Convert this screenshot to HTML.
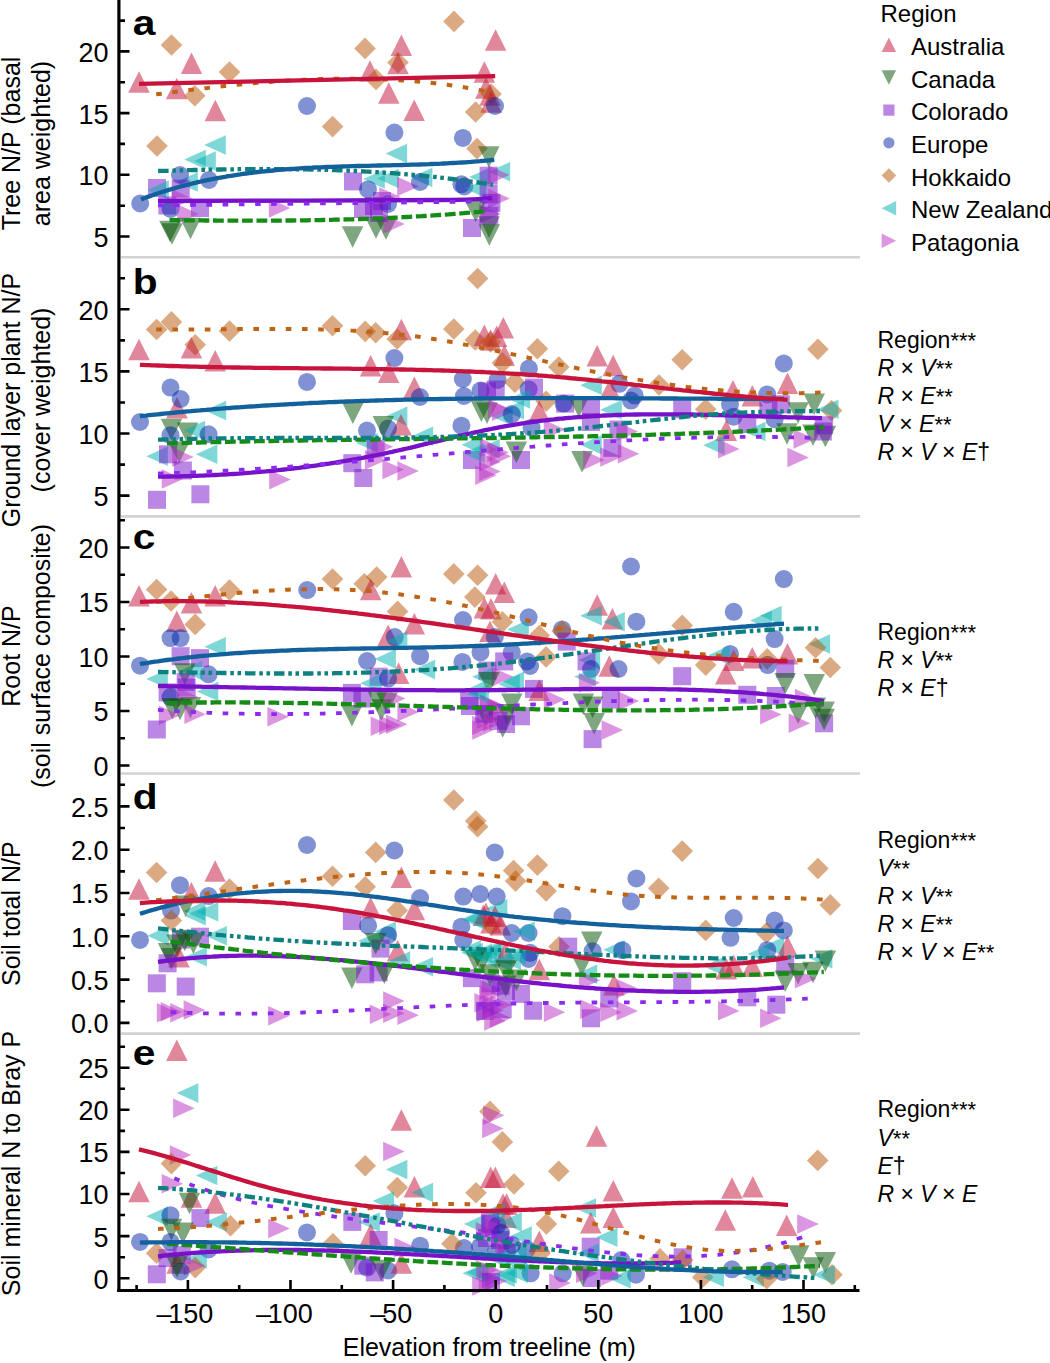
<!DOCTYPE html><html><head><meta charset="utf-8"><style>html,body{margin:0;padding:0;background:#fff;width:1050px;height:1363px;overflow:hidden}svg{display:block}text{font-family:"Liberation Sans",sans-serif;fill:#000}</style></head><body>
<svg width="1050" height="1363" viewBox="0 0 1050 1363">
<line x1="121" y1="257.3" x2="860" y2="257.3" stroke="#d2d2d2" stroke-width="2.6"/>
<line x1="121" y1="516.4" x2="860" y2="516.4" stroke="#d2d2d2" stroke-width="2.6"/>
<line x1="121" y1="773.5" x2="860" y2="773.5" stroke="#d2d2d2" stroke-width="2.6"/>
<line x1="121" y1="1033.6" x2="860" y2="1033.6" stroke="#d2d2d2" stroke-width="2.6"/>
<g fill-opacity="0.5">
<path d="M139.0 71.2L149.8 92.8H128.2Z" fill="rgb(195,15,55)"/>
<path d="M171.5 34.2L182.3 45.0L171.5 55.8L160.7 45.0Z" fill="rgb(185,85,5)"/>
<path d="M191.5 52.5L202.2 74.0H180.8Z" fill="rgb(195,15,55)"/>
<path d="M229.5 61.2L240.3 72.0L229.5 82.8L218.7 72.0Z" fill="rgb(185,85,5)"/>
<path d="M176.7 77.8L187.4 99.2H165.9Z" fill="rgb(195,15,55)"/>
<path d="M194.8 84.9L205.6 95.7L194.8 106.5L184.0 95.7Z" fill="rgb(185,85,5)"/>
<path d="M215.3 99.8L226.1 121.2H204.6Z" fill="rgb(195,15,55)"/>
<circle cx="307.0" cy="106.0" r="9.0" fill="rgb(1,35,169)"/>
<path d="M157.0 135.2L167.8 146.0L157.0 156.8L146.2 146.0Z" fill="rgb(185,85,5)"/>
<path d="M204.2 145.0L225.8 135.2V154.8Z" fill="rgb(0,175,175)"/>
<path d="M184.2 159.5L205.8 149.8V169.2Z" fill="rgb(0,175,175)"/>
<path d="M194.2 161.0L215.8 151.2V170.8Z" fill="rgb(0,175,175)"/>
<path d="M176.2 182.0L197.8 172.2V191.8Z" fill="rgb(0,175,175)"/>
<circle cx="180.0" cy="175.0" r="9.0" fill="rgb(1,35,169)"/>
<circle cx="209.0" cy="180.0" r="9.0" fill="rgb(1,35,169)"/>
<circle cx="140.2" cy="203.5" r="9.0" fill="rgb(1,35,169)"/>
<rect x="148.0" y="179.0" width="18.0" height="18.0" fill="rgb(119,15,201)"/>
<path d="M147.2 190.0L168.8 180.2V199.8Z" fill="rgb(0,175,175)"/>
<rect x="171.7" y="179.6" width="18.0" height="18.0" fill="rgb(119,15,201)"/>
<rect x="158.4" y="196.5" width="18.0" height="18.0" fill="rgb(119,15,201)"/>
<circle cx="170.6" cy="209.0" r="9.0" fill="rgb(1,35,169)"/>
<rect x="191.0" y="199.0" width="18.0" height="18.0" fill="rgb(119,15,201)"/>
<path d="M193.3 199.0L171.8 189.2V208.8Z" fill="rgb(185,45,195)"/>
<path d="M198.8 214.0L177.2 204.2V223.8Z" fill="rgb(185,45,195)"/>
<path d="M172.0 244.8L182.8 223.2H161.2Z" fill="rgb(0,79,0)"/>
<path d="M170.0 242.2L180.8 220.8H159.2Z" fill="rgb(0,79,0)"/>
<path d="M190.5 239.3L201.2 217.8H179.8Z" fill="rgb(0,79,0)"/>
<path d="M290.2 208.0L268.8 198.2V217.8Z" fill="rgb(185,45,195)"/>
<path d="M365.0 37.6L375.8 48.4L365.0 59.2L354.2 48.4Z" fill="rgb(185,85,5)"/>
<path d="M454.0 10.6L464.8 21.4L454.0 32.2L443.2 21.4Z" fill="rgb(185,85,5)"/>
<path d="M401.4 34.5L412.1 56.0H390.6Z" fill="rgb(195,15,55)"/>
<path d="M398.0 51.8L408.8 62.6L398.0 73.4L387.2 62.6Z" fill="rgb(185,85,5)"/>
<path d="M398.0 52.8L408.8 74.2H387.2Z" fill="rgb(195,15,55)"/>
<path d="M370.0 60.2L380.8 81.8H359.2Z" fill="rgb(195,15,55)"/>
<path d="M376.0 68.6L386.8 79.4L376.0 90.2L365.2 79.4Z" fill="rgb(185,85,5)"/>
<path d="M388.8 82.2L399.6 103.8H378.1Z" fill="rgb(195,15,55)"/>
<path d="M414.2 99.5L424.9 121.0H403.4Z" fill="rgb(195,15,55)"/>
<path d="M495.6 29.2L506.4 50.8H484.9Z" fill="rgb(195,15,55)"/>
<path d="M484.4 61.2L495.1 82.8H473.6Z" fill="rgb(195,15,55)"/>
<path d="M486.0 77.2L496.8 98.8H475.2Z" fill="rgb(195,15,55)"/>
<path d="M490.0 84.2L500.8 105.8H479.2Z" fill="rgb(195,15,55)"/>
<path d="M491.0 83.2L501.8 94.0L491.0 104.8L480.2 94.0Z" fill="rgb(185,85,5)"/>
<path d="M491.0 91.2L501.8 112.8H480.2Z" fill="rgb(195,15,55)"/>
<circle cx="495.0" cy="106.0" r="9.0" fill="rgb(1,35,169)"/>
<path d="M475.6 101.2L486.4 112.0L475.6 122.8L464.8 112.0Z" fill="rgb(185,85,5)"/>
<path d="M332.6 115.8L343.4 126.6L332.6 137.4L321.8 126.6Z" fill="rgb(185,85,5)"/>
<circle cx="394.4" cy="132.6" r="9.0" fill="rgb(1,35,169)"/>
<path d="M385.6 153.4L407.1 143.7V163.2Z" fill="rgb(0,175,175)"/>
<rect x="344.0" y="172.4" width="18.0" height="18.0" fill="rgb(119,15,201)"/>
<path d="M363.2 179.0L384.8 169.2V188.8Z" fill="rgb(0,175,175)"/>
<path d="M377.2 178.6L398.8 168.8V188.3Z" fill="rgb(0,175,175)"/>
<circle cx="368.0" cy="189.4" r="9.0" fill="rgb(1,35,169)"/>
<path d="M418.8 186.4L397.2 176.7V196.2Z" fill="rgb(185,45,195)"/>
<path d="M410.9 177.4L432.4 167.7V187.2Z" fill="rgb(0,175,175)"/>
<circle cx="420.0" cy="182.0" r="9.0" fill="rgb(1,35,169)"/>
<rect x="354.0" y="200.0" width="18.0" height="18.0" fill="rgb(119,15,201)"/>
<rect x="365.0" y="197.0" width="18.0" height="18.0" fill="rgb(119,15,201)"/>
<rect x="373.0" y="192.0" width="18.0" height="18.0" fill="rgb(119,15,201)"/>
<circle cx="388.0" cy="204.0" r="9.0" fill="rgb(1,35,169)"/>
<path d="M400.8 197.0L379.2 187.2V206.8Z" fill="rgb(185,45,195)"/>
<path d="M352.6 247.8L363.4 226.2H341.9Z" fill="rgb(0,79,0)"/>
<path d="M376.0 238.8L386.8 217.2H365.2Z" fill="rgb(0,79,0)"/>
<path d="M386.0 239.8L396.8 218.2H375.2Z" fill="rgb(0,79,0)"/>
<path d="M404.8 224.0L383.2 214.2V233.8Z" fill="rgb(185,45,195)"/>
<rect x="370.0" y="204.0" width="18.0" height="18.0" fill="rgb(119,15,201)"/>
<circle cx="462.9" cy="137.9" r="9.0" fill="rgb(1,35,169)"/>
<path d="M477.0 137.8L487.8 148.6L477.0 159.4L466.2 148.6Z" fill="rgb(185,85,5)"/>
<path d="M488.9 167.8L499.6 146.2H478.1Z" fill="rgb(0,79,0)"/>
<path d="M488.6 171.7L510.1 161.9V181.4Z" fill="rgb(0,175,175)"/>
<path d="M469.2 177.0L490.8 167.2V186.8Z" fill="rgb(0,175,175)"/>
<rect x="479.6" y="166.7" width="18.0" height="18.0" fill="rgb(119,15,201)"/>
<path d="M509.4 175.0L487.9 165.2V184.8Z" fill="rgb(185,45,195)"/>
<circle cx="461.4" cy="184.3" r="9.0" fill="rgb(1,35,169)"/>
<circle cx="464.3" cy="186.4" r="9.0" fill="rgb(1,35,169)"/>
<path d="M464.9 188.6L486.4 178.8V198.3Z" fill="rgb(0,175,175)"/>
<rect x="479.6" y="185.0" width="18.0" height="18.0" fill="rgb(119,15,201)"/>
<path d="M509.8 198.6L488.2 188.8V208.3Z" fill="rgb(185,45,195)"/>
<rect x="482.4" y="193.9" width="18.0" height="18.0" fill="rgb(119,15,201)"/>
<path d="M500.8 214.0L479.2 204.2V223.8Z" fill="rgb(185,45,195)"/>
<path d="M475.7 222.2L486.4 200.7H464.9Z" fill="rgb(0,79,0)"/>
<rect x="463.0" y="219.0" width="18.0" height="18.0" fill="rgb(119,15,201)"/>
<path d="M489.3 245.8L500.1 224.2H478.6Z" fill="rgb(0,79,0)"/>
<path d="M489.0 237.8L499.8 216.2H478.2Z" fill="rgb(0,79,0)"/>
<rect x="480.3" y="206.7" width="18.0" height="18.0" fill="rgb(119,15,201)"/>
</g>
<path d="M158.0 201.0C205.0 200.8 384.3 200.5 440.0 200.0C495.7 199.5 483.4 198.3 492.1 198.0" fill="none" stroke="#7812c8" stroke-width="4.3"/>
<path d="M158.0 205.4C205.0 204.8 384.5 202.7 440.0 202.0C495.5 201.3 482.5 201.6 491.0 201.5" fill="none" stroke="#8c2bef" stroke-width="3.8" stroke-dasharray="5.6 10.6"/>
<path d="M169.5 220.1L172.5 220.1L175.5 220.2L178.5 220.2L181.5 220.2L184.5 220.3L187.5 220.3L190.5 220.3L193.5 220.4L196.5 220.4L199.5 220.4L202.5 220.4L205.5 220.5L208.5 220.5L211.5 220.5L214.5 220.5L217.5 220.6L220.5 220.6L223.5 220.6L226.5 220.6L229.5 220.6L232.5 220.6L235.5 220.6L238.5 220.6L241.5 220.7L244.5 220.7L247.5 220.7L250.5 220.7L253.5 220.7L256.5 220.7L259.5 220.7L262.5 220.6L265.5 220.6L268.5 220.6L271.5 220.6L274.5 220.6L277.5 220.6L280.5 220.6L283.5 220.5L286.5 220.5L289.5 220.5L292.5 220.5L295.5 220.4L298.5 220.4L301.5 220.3L304.5 220.3L307.5 220.3L310.5 220.2L313.5 220.2L316.5 220.1L319.5 220.1L322.5 220.0L325.5 219.9L328.5 219.9L331.5 219.8L334.5 219.7L337.5 219.7L340.5 219.6L343.5 219.5L346.5 219.4L349.5 219.3L352.5 219.3L355.5 219.2L358.5 219.1L361.5 219.0L364.5 218.9L367.5 218.8L370.5 218.6L373.5 218.5L376.5 218.4L379.5 218.3L382.5 218.2L385.5 218.0L388.5 217.9L391.5 217.8L394.5 217.6L397.5 217.5L400.5 217.3L403.5 217.2L406.5 217.0L409.5 216.9L412.5 216.7L415.5 216.5L418.5 216.3L421.5 216.2L424.5 216.0L427.5 215.8L430.5 215.6L433.5 215.4L436.5 215.2L439.5 215.0L442.5 214.8L445.5 214.6L448.5 214.4L451.5 214.1L454.5 213.9L457.5 213.7L460.5 213.4L463.5 213.2L466.5 212.9L469.5 212.7L472.5 212.4L475.5 212.1L478.5 211.9L481.5 211.6L484.5 211.3L485.7 211.2" fill="none" stroke="#168c16" stroke-width="4.3" stroke-dasharray="10.8 3.7"/>
<path d="M158.1 171.0L161.1 170.9L164.1 170.9L167.1 170.8L170.1 170.7L173.1 170.6L176.1 170.5L179.1 170.4L182.1 170.3L185.1 170.3L188.1 170.2L191.1 170.1L194.1 170.0L197.1 170.0L200.1 169.9L203.1 169.8L206.1 169.8L209.1 169.7L212.1 169.7L215.1 169.6L218.1 169.5L221.1 169.5L224.1 169.4L227.1 169.4L230.1 169.3L233.1 169.3L236.1 169.3L239.1 169.2L242.1 169.2L245.1 169.2L248.1 169.2L251.1 169.1L254.1 169.1L257.1 169.1L260.1 169.1L263.1 169.1L266.1 169.1L269.1 169.1L272.1 169.1L275.1 169.1L278.1 169.1L281.1 169.1L284.1 169.1L287.1 169.2L290.1 169.2L293.1 169.2L296.1 169.3L299.1 169.3L302.1 169.3L305.1 169.4L308.1 169.4L311.1 169.5L314.1 169.6L317.1 169.6L320.1 169.7L323.1 169.8L326.1 169.9L329.1 170.0L332.1 170.1L335.1 170.2L338.1 170.3L341.1 170.4L344.1 170.5L347.1 170.6L350.1 170.8L353.1 170.9L356.1 171.0L359.1 171.2L362.1 171.3L365.1 171.5L368.1 171.6L371.1 171.8L374.1 172.0L377.1 172.2L380.1 172.4L383.1 172.6L386.1 172.8L389.1 173.0L392.1 173.2L395.1 173.4L398.1 173.6L401.1 173.9L404.1 174.1L407.1 174.4L410.1 174.6L413.1 174.9L416.1 175.2L419.1 175.4L422.1 175.7L425.1 176.0L428.1 176.3L431.1 176.6L434.1 176.9L437.1 177.3L440.1 177.6L443.1 177.9L446.1 178.3L449.1 178.6L452.1 179.0L455.1 179.4L458.1 179.8L461.1 180.1L464.1 180.5L467.1 180.9L470.1 181.4L473.1 181.8L476.1 182.2L479.1 182.6L482.1 183.1L485.1 183.5L488.1 184.0L491.1 184.5L492.9 184.8" fill="none" stroke="#0f8080" stroke-width="4.3" stroke-dasharray="10.5 3.8 3.6 3.6 3.6 3.9"/>
<path d="M141.0 199.4L144.0 198.2L147.0 197.1L150.0 196.1L153.0 195.0L156.0 194.0L159.0 193.0L162.0 192.0L165.0 191.1L168.0 190.1L171.0 189.2L174.0 188.4L177.0 187.5L180.0 186.7L183.0 185.9L186.0 185.1L189.0 184.3L192.0 183.6L195.0 182.9L198.0 182.2L201.0 181.5L204.0 180.8L207.0 180.2L210.0 179.6L213.0 179.0L216.0 178.4L219.0 177.8L222.0 177.3L225.0 176.8L228.0 176.2L231.0 175.8L234.0 175.3L237.0 174.8L240.0 174.4L243.0 173.9L246.0 173.5L249.0 173.1L252.0 172.8L255.0 172.4L258.0 172.0L261.0 171.7L264.0 171.4L267.0 171.1L270.0 170.8L273.0 170.5L276.0 170.2L279.0 169.9L282.0 169.7L285.0 169.4L288.0 169.2L291.0 169.0L294.0 168.8L297.0 168.6L300.0 168.4L303.0 168.2L306.0 168.0L309.0 167.8L312.0 167.7L315.0 167.5L318.0 167.4L321.0 167.3L324.0 167.1L327.0 167.0L330.0 166.9L333.0 166.8L336.0 166.7L339.0 166.6L342.0 166.5L345.0 166.4L348.0 166.3L351.0 166.2L354.0 166.1L357.0 166.0L360.0 166.0L363.0 165.9L366.0 165.8L369.0 165.8L372.0 165.7L375.0 165.6L378.0 165.5L381.0 165.5L384.0 165.4L387.0 165.3L390.0 165.3L393.0 165.2L396.0 165.1L399.0 165.1L402.0 165.0L405.0 164.9L408.0 164.8L411.0 164.7L414.0 164.7L417.0 164.6L420.0 164.5L423.0 164.4L426.0 164.3L429.0 164.2L432.0 164.0L435.0 163.9L438.0 163.8L441.0 163.7L444.0 163.5L447.0 163.4L450.0 163.2L453.0 163.0L456.0 162.9L459.0 162.7L462.0 162.5L465.0 162.3L468.0 162.1L471.0 161.9L474.0 161.6L477.0 161.4L480.0 161.2L483.0 160.9L486.0 160.6L489.0 160.3L492.0 160.0L494.3 159.8" fill="none" stroke="#12609c" stroke-width="4.3"/>
<path d="M156.2 94.3L159.2 93.9L162.2 93.6L165.2 93.2L168.2 92.8L171.2 92.4L174.2 92.0L177.2 91.6L180.2 91.2L183.2 90.9L186.2 90.5L189.2 90.1L192.2 89.7L195.2 89.4L198.2 89.0L201.2 88.7L204.2 88.3L207.2 88.0L210.2 87.6L213.2 87.3L216.2 87.0L219.2 86.6L222.2 86.3L225.2 86.0L228.2 85.7L231.2 85.4L234.2 85.1L237.2 84.8L240.2 84.5L243.2 84.2L246.2 83.9L249.2 83.6L252.2 83.4L255.2 83.1L258.2 82.8L261.2 82.6L264.2 82.3L267.2 82.1L270.2 81.9L273.2 81.6L276.2 81.4L279.2 81.2L282.2 81.0L285.2 80.8L288.2 80.6L291.2 80.5L294.2 80.3L297.2 80.1L300.2 80.0L303.2 79.8L306.2 79.7L309.2 79.6L312.2 79.4L315.2 79.3L318.2 79.2L321.2 79.1L324.2 79.0L327.2 79.0L330.2 78.9L333.2 78.8L336.2 78.8L339.2 78.7L342.2 78.7L345.2 78.7L348.2 78.7L351.2 78.7L354.2 78.7L357.2 78.7L360.2 78.7L363.2 78.8L366.2 78.8L369.2 78.9L372.2 79.0L375.2 79.1L378.2 79.2L381.2 79.3L384.2 79.4L387.2 79.5L390.2 79.7L393.2 79.8L396.2 80.0L399.2 80.2L402.2 80.4L405.2 80.6L408.2 80.8L411.2 81.0L414.2 81.3L417.2 81.5L420.2 81.8L423.2 82.1L426.2 82.4L429.2 82.7L432.2 83.0L435.2 83.3L438.2 83.7L441.2 84.1L444.2 84.4L447.2 84.8L450.2 85.2L453.2 85.7L456.2 86.1L459.2 86.6L462.2 87.0L465.2 87.5L468.2 88.0L471.2 88.5L474.2 89.0L477.2 89.6L480.2 90.1L483.2 90.7L486.2 91.3L489.2 91.9L492.2 92.5L493.3 92.8" fill="none" stroke="#bf6414" stroke-width="4.0" stroke-dasharray="5.6 10.6"/>
<path d="M139.0 83.8L495.2 76.2" fill="none" stroke="#c8143c" stroke-width="4.3"/>
<g fill-opacity="0.5">
<path d="M156.6 318.7L167.4 329.5L156.6 340.3L145.8 329.5Z" fill="rgb(185,85,5)"/>
<path d="M171.4 311.1L182.2 321.9L171.4 332.7L160.6 321.9Z" fill="rgb(185,85,5)"/>
<path d="M229.5 320.2L240.3 331.0L229.5 341.8L218.7 331.0Z" fill="rgb(185,85,5)"/>
<path d="M195.2 334.0L206.0 344.8L195.2 355.6L184.4 344.8Z" fill="rgb(185,85,5)"/>
<path d="M139.0 338.8L149.8 360.2H128.2Z" fill="rgb(195,15,55)"/>
<path d="M191.4 336.9L202.2 358.4H180.7Z" fill="rgb(195,15,55)"/>
<path d="M215.2 349.9L225.9 371.4H204.4Z" fill="rgb(195,15,55)"/>
<path d="M177.0 396.9L187.8 418.4H166.2Z" fill="rgb(195,15,55)"/>
<circle cx="170.5" cy="387.6" r="9.0" fill="rgb(1,35,169)"/>
<circle cx="180.6" cy="399.0" r="9.0" fill="rgb(1,35,169)"/>
<circle cx="307.0" cy="381.9" r="9.0" fill="rgb(1,35,169)"/>
<path d="M204.7 410.5L226.2 400.8V420.2Z" fill="rgb(0,175,175)"/>
<circle cx="140.0" cy="422.0" r="9.0" fill="rgb(1,35,169)"/>
<path d="M171.4 440.2L182.2 418.8H160.7Z" fill="rgb(0,79,0)"/>
<circle cx="170.5" cy="435.2" r="9.0" fill="rgb(1,35,169)"/>
<path d="M187.6 444.1L198.3 422.6H176.8Z" fill="rgb(0,79,0)"/>
<path d="M183.6 430.5L205.1 420.8V440.2Z" fill="rgb(0,175,175)"/>
<circle cx="208.6" cy="434.3" r="9.0" fill="rgb(1,35,169)"/>
<path d="M146.3 456.2L167.8 446.4V465.9Z" fill="rgb(0,175,175)"/>
<rect x="159.0" y="445.3" width="18.0" height="18.0" fill="rgb(119,15,201)"/>
<path d="M195.9 454.3L217.4 444.6V464.1Z" fill="rgb(0,175,175)"/>
<path d="M179.0 463.1L189.8 441.6H168.2Z" fill="rgb(0,79,0)"/>
<path d="M193.7 457.0L172.2 447.2V466.8Z" fill="rgb(185,45,195)"/>
<rect x="173.9" y="461.5" width="18.0" height="18.0" fill="rgb(119,15,201)"/>
<path d="M183.2 479.0L161.7 469.2V488.8Z" fill="rgb(185,45,195)"/>
<path d="M290.8 479.6L269.2 469.9V489.4Z" fill="rgb(185,45,195)"/>
<rect x="148.0" y="490.8" width="18.0" height="18.0" fill="rgb(119,15,201)"/>
<rect x="191.4" y="485.3" width="18.0" height="18.0" fill="rgb(119,15,201)"/>
<path d="M477.6 267.7L488.4 278.5L477.6 289.3L466.8 278.5Z" fill="rgb(185,85,5)"/>
<path d="M332.5 314.9L343.3 325.7L332.5 336.5L321.7 325.7Z" fill="rgb(185,85,5)"/>
<path d="M365.2 320.6L376.0 331.4L365.2 342.2L354.4 331.4Z" fill="rgb(185,85,5)"/>
<path d="M375.7 322.0L386.5 332.8L375.7 343.6L364.9 332.8Z" fill="rgb(185,85,5)"/>
<path d="M401.4 318.8L412.1 340.2H390.6Z" fill="rgb(195,15,55)"/>
<path d="M397.2 328.2L408.0 339.0L397.2 349.8L386.4 339.0Z" fill="rgb(185,85,5)"/>
<path d="M453.8 318.2L464.6 329.0L453.8 339.8L443.0 329.0Z" fill="rgb(185,85,5)"/>
<path d="M475.3 329.2L486.1 340.0L475.3 350.8L464.5 340.0Z" fill="rgb(185,85,5)"/>
<path d="M484.3 324.4L495.1 345.9H473.6Z" fill="rgb(195,15,55)"/>
<path d="M490.6 329.2L501.4 350.8H479.9Z" fill="rgb(195,15,55)"/>
<path d="M496.7 325.4L507.4 346.9H485.9Z" fill="rgb(195,15,55)"/>
<path d="M503.3 316.9L514.0 338.4H492.6Z" fill="rgb(195,15,55)"/>
<path d="M504.3 344.4L515.0 365.9H493.6Z" fill="rgb(195,15,55)"/>
<path d="M502.4 352.1L513.2 362.9L502.4 373.7L491.6 362.9Z" fill="rgb(185,85,5)"/>
<circle cx="394.4" cy="358.1" r="9.0" fill="rgb(1,35,169)"/>
<path d="M370.6 354.9L381.4 376.4H359.9Z" fill="rgb(195,15,55)"/>
<path d="M388.7 361.6L399.4 383.1H377.9Z" fill="rgb(195,15,55)"/>
<path d="M414.4 376.4L425.1 397.9H403.6Z" fill="rgb(195,15,55)"/>
<circle cx="420.0" cy="397.0" r="9.0" fill="rgb(1,35,169)"/>
<circle cx="462.8" cy="379.0" r="9.0" fill="rgb(1,35,169)"/>
<circle cx="463.9" cy="396.0" r="9.0" fill="rgb(1,35,169)"/>
<circle cx="480.5" cy="390.5" r="9.0" fill="rgb(1,35,169)"/>
<circle cx="497.6" cy="380.0" r="9.0" fill="rgb(1,35,169)"/>
<rect x="478.0" y="382.4" width="18.0" height="18.0" fill="rgb(119,15,201)"/>
<rect x="486.7" y="380.5" width="18.0" height="18.0" fill="rgb(119,15,201)"/>
<path d="M352.9 424.1L363.6 402.6H342.1Z" fill="rgb(0,79,0)"/>
<path d="M385.9 416.2L407.4 406.4V425.9Z" fill="rgb(0,175,175)"/>
<path d="M401.0 414.1L411.8 435.6H390.2Z" fill="rgb(195,15,55)"/>
<circle cx="367.0" cy="430.5" r="9.0" fill="rgb(1,35,169)"/>
<circle cx="388.0" cy="428.6" r="9.0" fill="rgb(1,35,169)"/>
<path d="M383.3 437.4L394.1 415.9H372.6Z" fill="rgb(0,79,0)"/>
<path d="M356.2 442.9L377.8 433.1V452.6Z" fill="rgb(0,175,175)"/>
<path d="M411.6 436.2L433.1 426.4V445.9Z" fill="rgb(0,175,175)"/>
<rect x="366.7" y="439.6" width="18.0" height="18.0" fill="rgb(119,15,201)"/>
<path d="M393.1 446.7L371.6 436.9V456.4Z" fill="rgb(185,45,195)"/>
<rect x="343.3" y="454.2" width="18.0" height="18.0" fill="rgb(119,15,201)"/>
<rect x="354.3" y="469.0" width="18.0" height="18.0" fill="rgb(119,15,201)"/>
<path d="M403.9 469.5L382.4 459.8V479.2Z" fill="rgb(185,45,195)"/>
<path d="M418.9 471.0L397.4 461.2V480.8Z" fill="rgb(185,45,195)"/>
<path d="M386.4 460.0L364.9 450.2V469.8Z" fill="rgb(185,45,195)"/>
<circle cx="461.4" cy="425.7" r="9.0" fill="rgb(1,35,169)"/>
<path d="M481.4 422.1L492.1 400.6H470.6Z" fill="rgb(0,79,0)"/>
<path d="M487.0 424.1L497.8 402.6H476.2Z" fill="rgb(0,79,0)"/>
<rect x="463.0" y="451.0" width="18.0" height="18.0" fill="rgb(119,15,201)"/>
<path d="M463.1 453.3L484.6 443.6V463.1Z" fill="rgb(0,175,175)"/>
<path d="M500.8 461.9L479.2 452.1V471.6Z" fill="rgb(185,45,195)"/>
<path d="M500.8 471.4L479.2 461.6V481.1Z" fill="rgb(185,45,195)"/>
<path d="M478.2 448.6L499.8 438.9V458.4Z" fill="rgb(0,175,175)"/>
<path d="M511.2 456.2L489.8 446.4V465.9Z" fill="rgb(185,45,195)"/>
<path d="M491.2 416.2L512.8 406.4V425.9Z" fill="rgb(0,175,175)"/>
<path d="M509.4 408.6L487.9 398.9V418.4Z" fill="rgb(185,45,195)"/>
<path d="M490.5 331.2L501.3 342.0L490.5 352.8L479.7 342.0Z" fill="rgb(185,85,5)"/>
<path d="M537.4 338.0L548.2 348.8L537.4 359.6L526.6 348.8Z" fill="rgb(185,85,5)"/>
<circle cx="528.9" cy="368.6" r="9.0" fill="rgb(1,35,169)"/>
<path d="M558.8 356.2L569.6 367.0L558.8 377.8L548.0 367.0Z" fill="rgb(185,85,5)"/>
<path d="M597.2 344.9L608.0 366.4H586.5Z" fill="rgb(195,15,55)"/>
<path d="M613.2 354.8L624.0 376.2H602.5Z" fill="rgb(195,15,55)"/>
<circle cx="619.3" cy="383.8" r="9.0" fill="rgb(1,35,169)"/>
<path d="M514.9 371.5L525.7 382.3L514.9 393.1L504.1 382.3Z" fill="rgb(185,85,5)"/>
<circle cx="528.6" cy="389.2" r="9.0" fill="rgb(1,35,169)"/>
<rect x="525.0" y="378.6" width="18.0" height="18.0" fill="rgb(119,15,201)"/>
<path d="M580.2 385.3L601.8 375.6V395.1Z" fill="rgb(0,175,175)"/>
<path d="M610.0 378.4L620.8 399.9H599.2Z" fill="rgb(195,15,55)"/>
<path d="M546.1 390.5L556.9 401.3L546.1 412.1L535.3 401.3Z" fill="rgb(185,85,5)"/>
<rect x="556.1" y="394.6" width="18.0" height="18.0" fill="rgb(119,15,201)"/>
<circle cx="563.6" cy="403.6" r="9.0" fill="rgb(1,35,169)"/>
<path d="M539.3 400.6L550.0 422.1H528.5Z" fill="rgb(195,15,55)"/>
<path d="M513.5 411.3L491.9 401.6V421.1Z" fill="rgb(185,45,195)"/>
<path d="M502.5 409.8L524.0 400.1V419.6Z" fill="rgb(0,175,175)"/>
<circle cx="511.8" cy="414.3" r="9.0" fill="rgb(1,35,169)"/>
<path d="M508.6 399.0L530.1 389.2V408.8Z" fill="rgb(0,175,175)"/>
<path d="M578.9 417.4L589.6 395.9H568.1Z" fill="rgb(0,79,0)"/>
<rect x="582.0" y="397.7" width="18.0" height="18.0" fill="rgb(119,15,201)"/>
<path d="M600.2 409.8L621.8 400.1V419.6Z" fill="rgb(0,175,175)"/>
<circle cx="531.6" cy="428.0" r="9.0" fill="rgb(1,35,169)"/>
<path d="M565.2 429.5L543.8 419.8V439.2Z" fill="rgb(185,45,195)"/>
<rect x="582.0" y="413.0" width="18.0" height="18.0" fill="rgb(119,15,201)"/>
<rect x="609.5" y="420.5" width="18.0" height="18.0" fill="rgb(119,15,201)"/>
<path d="M461.4 444.8L482.9 435.1V454.6Z" fill="rgb(0,175,175)"/>
<path d="M501.2 447.8L479.8 438.1V457.6Z" fill="rgb(185,45,195)"/>
<path d="M508.9 452.4L487.4 442.6V462.1Z" fill="rgb(185,45,195)"/>
<rect x="512.0" y="451.0" width="18.0" height="18.0" fill="rgb(119,15,201)"/>
<path d="M516.4 463.1L527.1 441.6H505.6Z" fill="rgb(0,79,0)"/>
<path d="M496.8 475.2L475.2 465.4V484.9Z" fill="rgb(185,45,195)"/>
<path d="M580.2 444.8L601.8 435.1V454.6Z" fill="rgb(0,175,175)"/>
<path d="M582.0 472.4L592.8 450.9H571.2Z" fill="rgb(0,79,0)"/>
<path d="M604.8 460.0L583.2 450.2V469.8Z" fill="rgb(185,45,195)"/>
<path d="M621.8 457.0L600.2 447.2V466.8Z" fill="rgb(185,45,195)"/>
<rect x="603.4" y="438.8" width="18.0" height="18.0" fill="rgb(119,15,201)"/>
<path d="M682.2 348.9L693.0 359.7L682.2 370.5L671.4 359.7Z" fill="rgb(185,85,5)"/>
<path d="M817.9 338.5L828.7 349.3L817.9 360.1L807.1 349.3Z" fill="rgb(185,85,5)"/>
<circle cx="783.8" cy="363.4" r="9.0" fill="rgb(1,35,169)"/>
<path d="M787.5 372.4L798.2 393.9H776.8Z" fill="rgb(195,15,55)"/>
<path d="M659.0 374.2L669.8 385.0L659.0 395.8L648.2 385.0Z" fill="rgb(185,85,5)"/>
<circle cx="634.7" cy="395.6" r="9.0" fill="rgb(1,35,169)"/>
<circle cx="631.0" cy="400.6" r="9.0" fill="rgb(1,35,169)"/>
<path d="M733.0 379.9L743.8 401.4H722.2Z" fill="rgb(195,15,55)"/>
<path d="M752.3 384.9L763.0 406.4H741.5Z" fill="rgb(195,15,55)"/>
<circle cx="767.2" cy="394.4" r="9.0" fill="rgb(1,35,169)"/>
<circle cx="730.0" cy="404.3" r="9.0" fill="rgb(1,35,169)"/>
<rect x="673.2" y="400.2" width="18.0" height="18.0" fill="rgb(119,15,201)"/>
<path d="M705.7 398.4L716.5 409.2L705.7 420.0L694.9 409.2Z" fill="rgb(185,85,5)"/>
<rect x="771.8" y="395.3" width="18.0" height="18.0" fill="rgb(119,15,201)"/>
<rect x="759.4" y="397.8" width="18.0" height="18.0" fill="rgb(119,15,201)"/>
<path d="M814.2 415.1L825.0 393.6H803.5Z" fill="rgb(0,79,0)"/>
<path d="M798.1 423.8L808.9 402.2H787.4Z" fill="rgb(0,79,0)"/>
<path d="M831.5 399.7L842.3 410.5L831.5 421.3L820.7 410.5Z" fill="rgb(185,85,5)"/>
<path d="M817.0 409.2L838.5 399.4V418.9Z" fill="rgb(0,175,175)"/>
<circle cx="733.7" cy="416.7" r="9.0" fill="rgb(1,35,169)"/>
<circle cx="774.6" cy="419.2" r="9.0" fill="rgb(1,35,169)"/>
<rect x="738.3" y="415.1" width="18.0" height="18.0" fill="rgb(119,15,201)"/>
<path d="M726.3 419.6L737.0 441.1H715.5Z" fill="rgb(195,15,55)"/>
<path d="M744.0 431.5L765.5 421.8V441.2Z" fill="rgb(0,175,175)"/>
<path d="M787.0 444.8L797.8 423.2H776.2Z" fill="rgb(0,79,0)"/>
<path d="M813.0 445.9L823.8 424.4H802.2Z" fill="rgb(0,79,0)"/>
<path d="M825.4 447.2L836.1 425.8H814.6Z" fill="rgb(0,79,0)"/>
<rect x="813.9" y="422.5" width="18.0" height="18.0" fill="rgb(119,15,201)"/>
<path d="M815.0 439.0L793.5 429.2V448.8Z" fill="rgb(185,45,195)"/>
<rect x="815.1" y="416.3" width="18.0" height="18.0" fill="rgb(119,15,201)"/>
<path d="M638.0 431.5L616.5 421.8V441.2Z" fill="rgb(185,45,195)"/>
<path d="M639.2 453.8L617.8 444.1V463.6Z" fill="rgb(185,45,195)"/>
<path d="M703.1 445.2L724.6 435.4V454.9Z" fill="rgb(0,175,175)"/>
<path d="M739.5 448.9L718.0 439.1V458.6Z" fill="rgb(185,45,195)"/>
<path d="M808.9 457.5L787.4 447.8V467.2Z" fill="rgb(185,45,195)"/>
</g>
<path d="M158.0 476.6L161.0 476.6L164.0 476.6L167.0 476.5L170.0 476.5L173.0 476.4L176.0 476.4L179.0 476.3L182.0 476.2L185.0 476.2L188.0 476.1L191.0 476.0L194.0 475.9L197.0 475.8L200.0 475.7L203.0 475.6L206.0 475.4L209.0 475.3L212.0 475.2L215.0 475.0L218.0 474.9L221.0 474.7L224.0 474.5L227.0 474.4L230.0 474.2L233.0 474.0L236.0 473.8L239.0 473.6L242.0 473.4L245.0 473.1L248.0 472.9L251.0 472.7L254.0 472.4L257.0 472.2L260.0 471.9L263.0 471.6L266.0 471.4L269.0 471.1L272.0 470.8L275.0 470.5L278.0 470.2L281.0 469.8L284.0 469.5L287.0 469.2L290.0 468.8L293.0 468.5L296.0 468.1L299.0 467.8L302.0 467.4L305.0 467.0L308.0 466.6L311.0 466.2L314.0 465.8L317.0 465.4L320.0 464.9L323.0 464.5L326.0 464.0L329.0 463.6L332.0 463.1L335.0 462.7L338.0 462.2L341.0 461.7L344.0 461.2L347.0 460.7L350.0 460.1L353.0 459.6L356.0 459.1L359.0 458.5L362.0 458.0L365.0 457.4L368.0 456.8L371.0 456.2L374.0 455.6L377.0 455.0L380.0 454.4L383.0 453.8L386.0 453.2L389.0 452.5L392.0 451.9L395.0 451.2L398.0 450.5L401.0 449.9L404.0 449.2L407.0 448.5L410.0 447.8L413.0 447.1L416.0 446.3L419.0 445.6L422.0 444.9L425.0 444.2L428.0 443.5L431.0 442.7L434.0 442.0L437.0 441.3L440.0 440.6L443.0 439.8L446.0 439.1L449.0 438.4L452.0 437.7L455.0 437.0L458.0 436.2L461.0 435.5L464.0 434.8L467.0 434.2L470.0 433.5L473.0 432.8L476.0 432.1L479.0 431.5L482.0 430.8L485.0 430.2L488.0 429.6L491.0 429.0L494.0 428.4L497.0 427.8L500.0 427.2L503.0 426.7L506.0 426.1L509.0 425.6L512.0 425.1L515.0 424.6L518.0 424.1L521.0 423.6L524.0 423.2L527.0 422.7L530.0 422.3L533.0 421.9L536.0 421.5L539.0 421.1L542.0 420.7L545.0 420.4L548.0 420.0L551.0 419.7L554.0 419.4L557.0 419.0L560.0 418.7L563.0 418.5L566.0 418.2L569.0 417.9L572.0 417.7L575.0 417.4L578.0 417.2L581.0 417.0L584.0 416.7L587.0 416.5L590.0 416.3L593.0 416.2L596.0 416.0L599.0 415.8L602.0 415.7L605.0 415.5L608.0 415.4L611.0 415.3L614.0 415.1L617.0 415.0L620.0 414.9L623.0 414.8L626.0 414.7L629.0 414.7L632.0 414.6L635.0 414.5L638.0 414.5L641.0 414.4L644.0 414.4L647.0 414.4L650.0 414.3L653.0 414.3L656.0 414.3L659.0 414.3L662.0 414.3L665.0 414.3L668.0 414.3L671.0 414.3L674.0 414.3L677.0 414.4L680.0 414.4L683.0 414.4L686.0 414.5L689.0 414.5L692.0 414.5L695.0 414.6L698.0 414.7L701.0 414.7L704.0 414.8L707.0 414.8L710.0 414.9L713.0 415.0L716.0 415.1L719.0 415.1L722.0 415.2L725.0 415.3L728.0 415.4L731.0 415.5L734.0 415.6L737.0 415.6L740.0 415.7L743.0 415.8L746.0 415.9L749.0 416.0L752.0 416.1L755.0 416.2L758.0 416.3L761.0 416.4L764.0 416.5L767.0 416.6L770.0 416.7L773.0 416.8L776.0 416.9L779.0 417.0L782.0 417.1L785.0 417.2L788.0 417.3L791.0 417.3L794.0 417.4L797.0 417.5L800.0 417.6L803.0 417.7L806.0 417.8L809.0 417.8L812.0 417.9L815.0 418.0L818.0 418.1L821.0 418.1L822.0 418.1" fill="none" stroke="#7812c8" stroke-width="4.3"/>
<path d="M158.0 473.5L161.0 473.4L164.0 473.3L167.0 473.2L170.0 473.1L173.0 473.0L176.0 472.9L179.0 472.8L182.0 472.7L185.0 472.5L188.0 472.4L191.0 472.3L194.0 472.2L197.0 472.0L200.0 471.9L203.0 471.8L206.0 471.6L209.0 471.5L212.0 471.3L215.0 471.2L218.0 471.0L221.0 470.9L224.0 470.7L227.0 470.6L230.0 470.4L233.0 470.2L236.0 470.1L239.0 469.9L242.0 469.7L245.0 469.5L248.0 469.4L251.0 469.2L254.0 469.0L257.0 468.8L260.0 468.6L263.0 468.4L266.0 468.2L269.0 468.0L272.0 467.8L275.0 467.6L278.0 467.4L281.0 467.2L284.0 467.0L287.0 466.8L290.0 466.6L293.0 466.4L296.0 466.1L299.0 465.9L302.0 465.7L305.0 465.5L308.0 465.3L311.0 465.0L314.0 464.8L317.0 464.6L320.0 464.3L323.0 464.1L326.0 463.9L329.0 463.6L332.0 463.4L335.0 463.2L338.0 462.9L341.0 462.7L344.0 462.4L347.0 462.2L350.0 462.0L353.0 461.7L356.0 461.5L359.0 461.2L362.0 461.0L365.0 460.7L368.0 460.5L371.0 460.2L374.0 460.0L377.0 459.7L380.0 459.5L383.0 459.2L386.0 459.0L389.0 458.7L392.0 458.4L395.0 458.2L398.0 457.9L401.0 457.7L404.0 457.4L407.0 457.2L410.0 456.9L413.0 456.6L416.0 456.4L419.0 456.1L422.0 455.9L425.0 455.6L428.0 455.4L431.0 455.1L434.0 454.8L437.0 454.6L440.0 454.3L443.0 454.1L446.0 453.8L449.0 453.6L452.0 453.3L455.0 453.0L458.0 452.8L461.0 452.5L464.0 452.3L467.0 452.0L470.0 451.8L473.0 451.5L476.0 451.3L479.0 451.0L482.0 450.8L485.0 450.5L488.0 450.3L491.0 450.0L494.0 449.8L497.0 449.5L500.0 449.3L503.0 449.0L506.0 448.8L509.0 448.5L512.0 448.3L515.0 448.1L518.0 447.8L521.0 447.6L524.0 447.4L527.0 447.1L530.0 446.9L533.0 446.7L536.0 446.4L539.0 446.2L542.0 446.0L545.0 445.8L548.0 445.5L551.0 445.3L554.0 445.1L557.0 444.9L560.0 444.7L563.0 444.4L566.0 444.2L569.0 444.0L572.0 443.8L575.0 443.6L578.0 443.4L581.0 443.2L584.0 443.0L587.0 442.8L590.0 442.6L593.0 442.4L596.0 442.2L599.0 442.1L602.0 441.9L605.0 441.7L608.0 441.5L611.0 441.3L614.0 441.2L617.0 441.0L620.0 440.8L623.0 440.7L626.0 440.5L629.0 440.3L632.0 440.2L635.0 440.0L638.0 439.9L641.0 439.7L644.0 439.6L647.0 439.4L650.0 439.3L653.0 439.2L656.0 439.0L659.0 438.9L662.0 438.8L665.0 438.7L668.0 438.6L671.0 438.4L674.0 438.3L677.0 438.2L680.0 438.1L683.0 438.0L686.0 437.9L689.0 437.8L692.0 437.8L695.0 437.7L698.0 437.6L701.0 437.5L704.0 437.4L707.0 437.4L710.0 437.3L713.0 437.2L716.0 437.2L719.0 437.1L722.0 437.1L725.0 437.1L728.0 437.0L731.0 437.0L734.0 437.0L737.0 436.9L740.0 436.9L743.0 436.9L746.0 436.9L749.0 436.9L752.0 436.9L755.0 436.9L758.0 436.9L761.0 436.9L764.0 436.9L767.0 436.9L770.0 437.0L773.0 437.0L776.0 437.0L779.0 437.1L782.0 437.1L785.0 437.2L788.0 437.2L791.0 437.3L794.0 437.4L797.0 437.4L800.0 437.5L803.0 437.6L806.0 437.7L809.0 437.8L812.0 437.9L815.0 438.0L816.6 438.1" fill="none" stroke="#8c2bef" stroke-width="3.8" stroke-dasharray="5.6 10.6"/>
<path d="M167.0 443.4L170.0 443.3L173.0 443.2L176.0 443.1L179.0 443.0L182.0 443.0L185.0 442.9L188.0 442.8L191.0 442.7L194.0 442.6L197.0 442.6L200.0 442.5L203.0 442.4L206.0 442.3L209.0 442.3L212.0 442.2L215.0 442.1L218.0 442.1L221.0 442.0L224.0 441.9L227.0 441.9L230.0 441.8L233.0 441.7L236.0 441.7L239.0 441.6L242.0 441.5L245.0 441.5L248.0 441.4L251.0 441.4L254.0 441.3L257.0 441.2L260.0 441.2L263.0 441.1L266.0 441.1L269.0 441.0L272.0 441.0L275.0 440.9L278.0 440.9L281.0 440.8L284.0 440.8L287.0 440.7L290.0 440.7L293.0 440.6L296.0 440.6L299.0 440.5L302.0 440.5L305.0 440.4L308.0 440.4L311.0 440.3L314.0 440.3L317.0 440.2L320.0 440.2L323.0 440.2L326.0 440.1L329.0 440.1L332.0 440.0L335.0 440.0L338.0 440.0L341.0 439.9L344.0 439.9L347.0 439.8L350.0 439.8L353.0 439.8L356.0 439.7L359.0 439.7L362.0 439.6L365.0 439.6L368.0 439.6L371.0 439.5L374.0 439.5L377.0 439.4L380.0 439.4L383.0 439.4L386.0 439.3L389.0 439.3L392.0 439.3L395.0 439.2L398.0 439.2L401.0 439.1L404.0 439.1L407.0 439.1L410.0 439.0L413.0 439.0L416.0 439.0L419.0 438.9L422.0 438.9L425.0 438.9L428.0 438.8L431.0 438.8L434.0 438.7L437.0 438.7L440.0 438.7L443.0 438.6L446.0 438.6L449.0 438.6L452.0 438.5L455.0 438.5L458.0 438.4L461.0 438.4L464.0 438.4L467.0 438.3L470.0 438.3L473.0 438.2L476.0 438.2L479.0 438.2L482.0 438.1L485.0 438.1L488.0 438.0L491.0 438.0L494.0 438.0L497.0 437.9L500.0 437.9L503.0 437.8L506.0 437.8L509.0 437.7L512.0 437.7L515.0 437.6L518.0 437.6L521.0 437.5L524.0 437.5L527.0 437.4L530.0 437.4L533.0 437.4L536.0 437.3L539.0 437.2L542.0 437.2L545.0 437.1L548.0 437.1L551.0 437.0L554.0 437.0L557.0 436.9L560.0 436.9L563.0 436.8L566.0 436.8L569.0 436.7L572.0 436.6L575.0 436.6L578.0 436.5L581.0 436.5L584.0 436.4L587.0 436.3L590.0 436.3L593.0 436.2L596.0 436.1L599.0 436.1L602.0 436.0L605.0 435.9L608.0 435.9L611.0 435.8L614.0 435.7L617.0 435.6L620.0 435.6L623.0 435.5L626.0 435.4L629.0 435.3L632.0 435.3L635.0 435.2L638.0 435.1L641.0 435.0L644.0 434.9L647.0 434.8L650.0 434.8L653.0 434.7L656.0 434.6L659.0 434.5L662.0 434.4L665.0 434.3L668.0 434.2L671.0 434.1L674.0 434.0L677.0 433.9L680.0 433.8L683.0 433.7L686.0 433.6L689.0 433.5L692.0 433.4L695.0 433.3L698.0 433.2L701.0 433.1L704.0 433.0L707.0 432.9L710.0 432.7L713.0 432.6L716.0 432.5L719.0 432.4L722.0 432.3L725.0 432.1L728.0 432.0L731.0 431.9L734.0 431.8L737.0 431.6L740.0 431.5L743.0 431.4L746.0 431.2L749.0 431.1L752.0 431.0L755.0 430.8L758.0 430.7L761.0 430.5L764.0 430.4L767.0 430.2L770.0 430.1L773.0 429.9L776.0 429.8L779.0 429.6L782.0 429.5L785.0 429.3L788.0 429.2L791.0 429.0L794.0 428.8L797.0 428.7L800.0 428.5L803.0 428.3L806.0 428.2L809.0 428.0L812.0 427.8L815.0 427.6L818.0 427.4L821.0 427.3L823.8 427.1" fill="none" stroke="#168c16" stroke-width="4.3" stroke-dasharray="10.8 3.7"/>
<path d="M158.0 439.7L161.0 439.6L164.0 439.5L167.0 439.4L170.0 439.3L173.0 439.3L176.0 439.2L179.0 439.1L182.0 439.0L185.0 439.0L188.0 438.9L191.0 438.8L194.0 438.8L197.0 438.7L200.0 438.7L203.0 438.6L206.0 438.6L209.0 438.5L212.0 438.5L215.0 438.4L218.0 438.4L221.0 438.4L224.0 438.3L227.0 438.3L230.0 438.3L233.0 438.2L236.0 438.2L239.0 438.2L242.0 438.2L245.0 438.2L248.0 438.1L251.0 438.1L254.0 438.1L257.0 438.1L260.0 438.1L263.0 438.1L266.0 438.1L269.0 438.1L272.0 438.0L275.0 438.0L278.0 438.0L281.0 438.0L284.0 438.0L287.0 438.0L290.0 438.0L293.0 438.0L296.0 438.0L299.0 438.0L302.0 438.0L305.0 438.0L308.0 438.0L311.0 438.0L314.0 438.0L317.0 438.0L320.0 438.0L323.0 438.0L326.0 438.0L329.0 438.0L332.0 438.0L335.0 438.0L338.0 438.0L341.0 438.0L344.0 438.0L347.0 438.0L350.0 438.0L353.0 438.0L356.0 438.0L359.0 438.0L362.0 437.9L365.0 437.9L368.0 437.9L371.0 437.9L374.0 437.9L377.0 437.9L380.0 437.8L383.0 437.8L386.0 437.8L389.0 437.8L392.0 437.7L395.0 437.7L398.0 437.7L401.0 437.6L404.0 437.6L407.0 437.6L410.0 437.5L413.0 437.5L416.0 437.4L419.0 437.4L422.0 437.3L425.0 437.3L428.0 437.2L431.0 437.1L434.0 437.1L437.0 437.0L440.0 436.9L443.0 436.9L446.0 436.8L449.0 436.7L452.0 436.6L455.0 436.5L458.0 436.4L461.0 436.3L464.0 436.2L467.0 436.1L470.0 436.0L473.0 435.9L476.0 435.8L479.0 435.6L482.0 435.5L485.0 435.4L488.0 435.2L491.0 435.1L494.0 435.0L497.0 434.8L500.0 434.6L503.0 434.5L506.0 434.3L509.0 434.1L512.0 434.0L515.0 433.8L518.0 433.6L521.0 433.4L524.0 433.2L527.0 433.0L530.0 432.8L533.0 432.6L536.0 432.3L539.0 432.1L542.0 431.9L545.0 431.6L548.0 431.4L551.0 431.1L554.0 430.9L557.0 430.6L560.0 430.4L563.0 430.1L566.0 429.8L569.0 429.5L572.0 429.2L575.0 428.9L578.0 428.6L581.0 428.3L584.0 428.0L587.0 427.7L590.0 427.3L593.0 427.0L596.0 426.7L599.0 426.3L602.0 426.0L605.0 425.7L608.0 425.3L611.0 425.0L614.0 424.6L617.0 424.3L620.0 423.9L623.0 423.6L626.0 423.2L629.0 422.9L632.0 422.6L635.0 422.2L638.0 421.9L641.0 421.5L644.0 421.2L647.0 420.8L650.0 420.5L653.0 420.2L656.0 419.8L659.0 419.5L662.0 419.2L665.0 418.8L668.0 418.5L671.0 418.2L674.0 417.9L677.0 417.6L680.0 417.3L683.0 417.0L686.0 416.7L689.0 416.4L692.0 416.1L695.0 415.8L698.0 415.6L701.0 415.3L704.0 415.1L707.0 414.8L710.0 414.6L713.0 414.4L716.0 414.1L719.0 413.9L722.0 413.7L725.0 413.5L728.0 413.4L731.0 413.2L734.0 413.0L737.0 412.9L740.0 412.7L743.0 412.6L746.0 412.4L749.0 412.3L752.0 412.2L755.0 412.1L758.0 412.0L761.0 411.9L764.0 411.8L767.0 411.7L770.0 411.6L773.0 411.6L776.0 411.5L779.0 411.4L782.0 411.4L785.0 411.3L788.0 411.3L791.0 411.2L794.0 411.2L797.0 411.2L800.0 411.1L803.0 411.1L806.0 411.1L809.0 411.1L812.0 411.1L815.0 411.0L818.0 411.0L820.0 411.0" fill="none" stroke="#0f8080" stroke-width="4.3" stroke-dasharray="10.5 3.8 3.6 3.6 3.6 3.9"/>
<path d="M139.9 416.2L142.9 415.9L145.9 415.6L148.9 415.2L151.9 414.9L154.9 414.6L157.9 414.3L160.9 414.0L163.9 413.7L166.9 413.4L169.9 413.1L172.9 412.8L175.9 412.5L178.9 412.2L181.9 412.0L184.9 411.7L187.9 411.4L190.9 411.2L193.9 410.9L196.9 410.6L199.9 410.4L202.9 410.1L205.9 409.9L208.9 409.6L211.9 409.4L214.9 409.1L217.9 408.9L220.9 408.7L223.9 408.4L226.9 408.2L229.9 408.0L232.9 407.7L235.9 407.5L238.9 407.3L241.9 407.1L244.9 406.9L247.9 406.7L250.9 406.5L253.9 406.3L256.9 406.1L259.9 405.9L262.9 405.7L265.9 405.5L268.9 405.3L271.9 405.1L274.9 405.0L277.9 404.8L280.9 404.6L283.9 404.5L286.9 404.3L289.9 404.1L292.9 404.0L295.9 403.8L298.9 403.6L301.9 403.5L304.9 403.3L307.9 403.2L310.9 403.0L313.9 402.9L316.9 402.8L319.9 402.6L322.9 402.5L325.9 402.4L328.9 402.2L331.9 402.1L334.9 402.0L337.9 401.9L340.9 401.7L343.9 401.6L346.9 401.5L349.9 401.4L352.9 401.3L355.9 401.2L358.9 401.1L361.9 401.0L364.9 400.9L367.9 400.8L370.9 400.7L373.9 400.6L376.9 400.5L379.9 400.4L382.9 400.3L385.9 400.2L388.9 400.1L391.9 400.1L394.9 400.0L397.9 399.9L400.9 399.8L403.9 399.7L406.9 399.7L409.9 399.6L412.9 399.5L415.9 399.5L418.9 399.4L421.9 399.3L424.9 399.3L427.9 399.2L430.9 399.2L433.9 399.1L436.9 399.1L439.9 399.0L442.9 399.0L445.9 398.9L448.9 398.9L451.9 398.8L454.9 398.8L457.9 398.7L460.9 398.7L463.9 398.7L466.9 398.6L469.9 398.6L472.9 398.6L475.9 398.5L478.9 398.5L481.9 398.5L484.9 398.4L487.9 398.4L490.9 398.4L493.9 398.4L496.9 398.3L499.9 398.3L502.9 398.3L505.9 398.3L508.9 398.3L511.9 398.2L514.9 398.2L517.9 398.2L520.9 398.2L523.9 398.2L526.9 398.2L529.9 398.2L532.9 398.2L535.9 398.1L538.9 398.1L541.9 398.1L544.9 398.1L547.9 398.1L550.9 398.1L553.9 398.1L556.9 398.1L559.9 398.1L562.9 398.1L565.9 398.1L568.9 398.1L571.9 398.1L574.9 398.1L577.9 398.1L580.9 398.1L583.9 398.1L586.9 398.2L589.9 398.2L592.9 398.2L595.9 398.2L598.9 398.2L601.9 398.2L604.9 398.2L607.9 398.2L610.9 398.2L613.9 398.2L616.9 398.3L619.9 398.3L622.9 398.3L625.9 398.3L628.9 398.3L631.9 398.3L634.9 398.3L637.9 398.3L640.9 398.4L643.9 398.4L646.9 398.4L649.9 398.4L652.9 398.4L655.9 398.4L658.9 398.4L661.9 398.5L664.9 398.5L667.9 398.5L670.9 398.5L673.9 398.5L676.9 398.5L679.9 398.6L682.9 398.6L685.9 398.6L688.9 398.6L691.9 398.6L694.9 398.6L697.9 398.7L700.9 398.7L703.9 398.7L706.9 398.7L709.9 398.7L712.9 398.7L715.9 398.7L718.9 398.8L721.9 398.8L724.9 398.8L727.9 398.8L730.9 398.8L733.9 398.8L736.9 398.8L739.9 398.8L742.9 398.8L745.9 398.9L748.9 398.9L751.9 398.9L754.9 398.9L757.9 398.9L760.9 398.9L763.9 398.9L766.9 398.9L769.9 398.9L772.9 398.9L775.9 398.9L778.9 398.9L781.9 398.9L784.0 398.9" fill="none" stroke="#12609c" stroke-width="4.3"/>
<path d="M156.2 329.5L159.2 329.5L162.2 329.6L165.2 329.6L168.2 329.6L171.2 329.6L174.2 329.6L177.2 329.6L180.2 329.6L183.2 329.6L186.2 329.6L189.2 329.6L192.2 329.5L195.2 329.5L198.2 329.5L201.2 329.5L204.2 329.4L207.2 329.4L210.2 329.4L213.2 329.4L216.2 329.3L219.2 329.3L222.2 329.3L225.2 329.2L228.2 329.2L231.2 329.2L234.2 329.1L237.2 329.1L240.2 329.1L243.2 329.1L246.2 329.0L249.2 329.0L252.2 329.0L255.2 329.0L258.2 328.9L261.2 328.9L264.2 328.9L267.2 328.9L270.2 328.9L273.2 328.9L276.2 328.9L279.2 328.9L282.2 328.9L285.2 328.9L288.2 328.9L291.2 328.9L294.2 328.9L297.2 329.0L300.2 329.0L303.2 329.0L306.2 329.1L309.2 329.1L312.2 329.2L315.2 329.2L318.2 329.3L321.2 329.4L324.2 329.5L327.2 329.6L330.2 329.7L333.2 329.8L336.2 329.9L339.2 330.0L342.2 330.1L345.2 330.3L348.2 330.4L351.2 330.6L354.2 330.7L357.2 330.9L360.2 331.1L363.2 331.3L366.2 331.5L369.2 331.7L372.2 331.9L375.2 332.1L378.2 332.4L381.2 332.6L384.2 332.9L387.2 333.2L390.2 333.5L393.2 333.8L396.2 334.1L399.2 334.4L402.2 334.7L405.2 335.1L408.2 335.5L411.2 335.8L414.2 336.2L417.2 336.6L420.2 337.0L423.2 337.5L426.2 337.9L429.2 338.4L432.2 338.8L435.2 339.3L438.2 339.8L441.2 340.3L444.2 340.8L447.2 341.3L450.2 341.8L453.2 342.3L456.2 342.9L459.2 343.4L462.2 344.0L465.2 344.6L468.2 345.1L471.2 345.7L474.2 346.3L477.2 346.9L480.2 347.5L483.2 348.1L486.2 348.7L489.2 349.3L492.2 349.9L495.2 350.6L498.2 351.2L501.2 351.8L504.2 352.5L507.2 353.1L510.2 353.8L513.2 354.4L516.2 355.0L519.2 355.7L522.2 356.4L525.2 357.0L528.2 357.7L531.2 358.3L534.2 359.0L537.2 359.6L540.2 360.3L543.2 360.9L546.2 361.6L549.2 362.2L552.2 362.9L555.2 363.6L558.2 364.2L561.2 364.8L564.2 365.5L567.2 366.1L570.2 366.8L573.2 367.4L576.2 368.0L579.2 368.7L582.2 369.3L585.2 369.9L588.2 370.5L591.2 371.1L594.2 371.7L597.2 372.3L600.2 372.9L603.2 373.5L606.2 374.0L609.2 374.6L612.2 375.2L615.2 375.7L618.2 376.3L621.2 376.8L624.2 377.4L627.2 377.9L630.2 378.4L633.2 378.9L636.2 379.4L639.2 379.9L642.2 380.4L645.2 380.9L648.2 381.4L651.2 381.9L654.2 382.3L657.2 382.8L660.2 383.2L663.2 383.7L666.2 384.1L669.2 384.5L672.2 384.9L675.2 385.3L678.2 385.7L681.2 386.1L684.2 386.5L687.2 386.9L690.2 387.2L693.2 387.6L696.2 387.9L699.2 388.2L702.2 388.6L705.2 388.9L708.2 389.2L711.2 389.5L714.2 389.8L717.2 390.0L720.2 390.3L723.2 390.6L726.2 390.8L729.2 391.0L732.2 391.3L735.2 391.5L738.2 391.7L741.2 391.9L744.2 392.0L747.2 392.2L750.2 392.4L753.2 392.5L756.2 392.6L759.2 392.8L762.2 392.9L765.2 393.0L768.2 393.1L771.2 393.1L774.2 393.2L777.2 393.3L780.2 393.3L783.2 393.3L786.2 393.3L789.2 393.3L792.2 393.3L795.2 393.3L798.2 393.3L801.2 393.2L804.2 393.1L807.2 393.1L810.2 393.0L813.2 392.9L816.2 392.8L819.2 392.6L822.2 392.5L823.8 392.4" fill="none" stroke="#bf6414" stroke-width="4.0" stroke-dasharray="5.6 10.6"/>
<path d="M139.9 364.8L142.9 364.9L145.9 365.1L148.9 365.2L151.9 365.3L154.9 365.4L157.9 365.5L160.9 365.6L163.9 365.7L166.9 365.8L169.9 366.0L172.9 366.0L175.9 366.1L178.9 366.2L181.9 366.3L184.9 366.4L187.9 366.5L190.9 366.6L193.9 366.6L196.9 366.7L199.9 366.8L202.9 366.9L205.9 366.9L208.9 367.0L211.9 367.1L214.9 367.1L217.9 367.2L220.9 367.2L223.9 367.3L226.9 367.4L229.9 367.4L232.9 367.5L235.9 367.5L238.9 367.5L241.9 367.6L244.9 367.6L247.9 367.7L250.9 367.7L253.9 367.8L256.9 367.8L259.9 367.8L262.9 367.9L265.9 367.9L268.9 367.9L271.9 368.0L274.9 368.0L277.9 368.0L280.9 368.1L283.9 368.1L286.9 368.1L289.9 368.1L292.9 368.2L295.9 368.2L298.9 368.2L301.9 368.3L304.9 368.3L307.9 368.3L310.9 368.3L313.9 368.4L316.9 368.4L319.9 368.4L322.9 368.5L325.9 368.5L328.9 368.5L331.9 368.5L334.9 368.6L337.9 368.6L340.9 368.6L343.9 368.7L346.9 368.7L349.9 368.7L352.9 368.8L355.9 368.8L358.9 368.8L361.9 368.9L364.9 368.9L367.9 368.9L370.9 369.0L373.9 369.0L376.9 369.1L379.9 369.1L382.9 369.2L385.9 369.2L388.9 369.3L391.9 369.3L394.9 369.4L397.9 369.4L400.9 369.5L403.9 369.5L406.9 369.6L409.9 369.7L412.9 369.7L415.9 369.8L418.9 369.9L421.9 370.0L424.9 370.0L427.9 370.1L430.9 370.2L433.9 370.3L436.9 370.4L439.9 370.4L442.9 370.5L445.9 370.6L448.9 370.7L451.9 370.8L454.9 370.9L457.9 371.1L460.9 371.2L463.9 371.3L466.9 371.4L469.9 371.5L472.9 371.6L475.9 371.8L478.9 371.9L481.9 372.0L484.9 372.2L487.9 372.3L490.9 372.5L493.9 372.6L496.9 372.8L499.9 373.0L502.9 373.1L505.9 373.3L508.9 373.5L511.9 373.6L514.9 373.8L517.9 374.0L520.9 374.2L523.9 374.4L526.9 374.6L529.9 374.8L532.9 375.0L535.9 375.2L538.9 375.5L541.9 375.7L544.9 375.9L547.9 376.2L550.9 376.4L553.9 376.7L556.9 376.9L559.9 377.2L562.9 377.4L565.9 377.7L568.9 378.0L571.9 378.3L574.9 378.5L577.9 378.8L580.9 379.1L583.9 379.4L586.9 379.7L589.9 380.0L592.9 380.3L595.9 380.6L598.9 380.9L601.9 381.3L604.9 381.6L607.9 381.9L610.9 382.2L613.9 382.5L616.9 382.9L619.9 383.2L622.9 383.5L625.9 383.9L628.9 384.2L631.9 384.5L634.9 384.9L637.9 385.2L640.9 385.5L643.9 385.9L646.9 386.2L649.9 386.6L652.9 386.9L655.9 387.2L658.9 387.6L661.9 387.9L664.9 388.3L667.9 388.6L670.9 388.9L673.9 389.3L676.9 389.6L679.9 389.9L682.9 390.3L685.9 390.6L688.9 390.9L691.9 391.3L694.9 391.6L697.9 391.9L700.9 392.2L703.9 392.6L706.9 392.9L709.9 393.2L712.9 393.5L715.9 393.8L718.9 394.1L721.9 394.4L724.9 394.7L727.9 395.0L730.9 395.3L733.9 395.6L736.9 395.9L739.9 396.1L742.9 396.4L745.9 396.7L748.9 396.9L751.9 397.2L754.9 397.4L757.9 397.7L760.9 397.9L763.9 398.2L766.9 398.4L769.9 398.6L772.9 398.8L775.9 399.0L778.9 399.2L781.9 399.4L784.9 399.6L787.6 399.8" fill="none" stroke="#c8143c" stroke-width="4.3"/>
<g fill-opacity="0.5">
<path d="M139.0 585.0L149.8 606.5H128.2Z" fill="rgb(195,15,55)"/>
<path d="M156.6 578.7L167.4 589.5L156.6 600.3L145.8 589.5Z" fill="rgb(185,85,5)"/>
<path d="M171.0 590.2L181.8 601.0L171.0 611.8L160.2 601.0Z" fill="rgb(185,85,5)"/>
<path d="M191.4 592.1L202.2 613.6H180.7Z" fill="rgb(195,15,55)"/>
<path d="M215.2 585.0L225.9 606.5H204.4Z" fill="rgb(195,15,55)"/>
<path d="M229.5 579.3L240.3 590.1L229.5 600.9L218.7 590.1Z" fill="rgb(185,85,5)"/>
<path d="M176.8 610.5L187.6 632.0H166.1Z" fill="rgb(195,15,55)"/>
<path d="M195.2 613.6L206.0 624.4L195.2 635.2L184.4 624.4Z" fill="rgb(185,85,5)"/>
<circle cx="307.2" cy="590.1" r="9.0" fill="rgb(1,35,169)"/>
<circle cx="170.5" cy="638.1" r="9.0" fill="rgb(1,35,169)"/>
<circle cx="180.6" cy="638.1" r="9.0" fill="rgb(1,35,169)"/>
<path d="M204.4 646.7L225.9 637.0V656.5Z" fill="rgb(0,175,175)"/>
<rect x="171.6" y="647.2" width="18.0" height="18.0" fill="rgb(119,15,201)"/>
<rect x="191.0" y="649.1" width="18.0" height="18.0" fill="rgb(119,15,201)"/>
<circle cx="140.0" cy="665.7" r="9.0" fill="rgb(1,35,169)"/>
<circle cx="208.6" cy="674.3" r="9.0" fill="rgb(1,35,169)"/>
<path d="M180.7 670.5L202.2 660.8V680.2Z" fill="rgb(0,175,175)"/>
<path d="M184.8 684.8L195.6 663.2H174.1Z" fill="rgb(0,79,0)"/>
<path d="M146.3 679.0L167.8 669.2V688.8Z" fill="rgb(0,175,175)"/>
<rect x="176.7" y="672.9" width="18.0" height="18.0" fill="rgb(119,15,201)"/>
<path d="M196.8 691.4L218.3 681.6V701.1Z" fill="rgb(0,175,175)"/>
<rect x="158.6" y="683.4" width="18.0" height="18.0" fill="rgb(119,15,201)"/>
<circle cx="170.5" cy="697.1" r="9.0" fill="rgb(1,35,169)"/>
<rect x="177.7" y="678.6" width="18.0" height="18.0" fill="rgb(119,15,201)"/>
<path d="M198.3 697.1L176.8 687.4V706.9Z" fill="rgb(185,45,195)"/>
<path d="M172.4 719.4L183.2 697.9H161.7Z" fill="rgb(0,79,0)"/>
<path d="M180.0 720.2L190.8 698.8H169.2Z" fill="rgb(0,79,0)"/>
<path d="M190.5 718.4L201.2 696.9H179.8Z" fill="rgb(0,79,0)"/>
<path d="M180.2 715.2L158.8 705.5V725.0Z" fill="rgb(185,45,195)"/>
<path d="M205.9 714.3L184.4 704.5V724.0Z" fill="rgb(185,45,195)"/>
<path d="M288.9 716.8L267.4 707.0V726.5Z" fill="rgb(185,45,195)"/>
<rect x="147.8" y="720.5" width="18.0" height="18.0" fill="rgb(119,15,201)"/>
<path d="M332.5 568.2L343.3 579.0L332.5 589.8L321.7 579.0Z" fill="rgb(185,85,5)"/>
<path d="M364.3 573.0L375.1 583.8L364.3 594.6L353.5 583.8Z" fill="rgb(185,85,5)"/>
<path d="M376.7 566.3L387.5 577.1L376.7 587.9L365.9 577.1Z" fill="rgb(185,85,5)"/>
<path d="M370.6 578.8L381.4 600.2H359.9Z" fill="rgb(195,15,55)"/>
<path d="M401.4 556.0L412.1 577.5H390.6Z" fill="rgb(195,15,55)"/>
<path d="M453.8 563.1L464.6 573.9L453.8 584.7L443.0 573.9Z" fill="rgb(185,85,5)"/>
<path d="M477.6 564.4L488.4 575.2L477.6 586.0L466.8 575.2Z" fill="rgb(185,85,5)"/>
<path d="M474.8 586.3L485.6 597.1L474.8 607.9L464.0 597.1Z" fill="rgb(185,85,5)"/>
<path d="M495.7 573.0L506.4 594.5H484.9Z" fill="rgb(195,15,55)"/>
<path d="M504.3 581.6L515.0 603.1H493.6Z" fill="rgb(195,15,55)"/>
<path d="M484.3 596.9L495.1 618.4H473.6Z" fill="rgb(195,15,55)"/>
<path d="M491.0 597.9L501.8 619.4H480.2Z" fill="rgb(195,15,55)"/>
<path d="M397.6 600.6L408.4 611.4L397.6 622.2L386.8 611.4Z" fill="rgb(185,85,5)"/>
<circle cx="463.0" cy="620.0" r="9.0" fill="rgb(1,35,169)"/>
<path d="M414.4 613.0L425.1 634.5H403.6Z" fill="rgb(195,15,55)"/>
<path d="M388.1 624.5L398.9 646.0H377.4Z" fill="rgb(195,15,55)"/>
<circle cx="394.8" cy="637.1" r="9.0" fill="rgb(1,35,169)"/>
<path d="M385.9 641.0L407.4 631.2V650.8Z" fill="rgb(0,175,175)"/>
<path d="M502.4 611.1L513.2 621.9L502.4 632.7L491.6 621.9Z" fill="rgb(185,85,5)"/>
<path d="M490.0 620.6L500.8 642.1H479.2Z" fill="rgb(195,15,55)"/>
<circle cx="494.8" cy="637.1" r="9.0" fill="rgb(1,35,169)"/>
<circle cx="367.1" cy="661.0" r="9.0" fill="rgb(1,35,169)"/>
<path d="M374.4 659.0L395.9 649.2V668.8Z" fill="rgb(0,175,175)"/>
<circle cx="420.1" cy="656.2" r="9.0" fill="rgb(1,35,169)"/>
<path d="M413.6 669.5L435.1 659.8V679.2Z" fill="rgb(0,175,175)"/>
<path d="M398.6 662.5L409.4 684.0H387.9Z" fill="rgb(195,15,55)"/>
<circle cx="462.4" cy="661.9" r="9.0" fill="rgb(1,35,169)"/>
<circle cx="480.5" cy="652.4" r="9.0" fill="rgb(1,35,169)"/>
<rect x="369.6" y="667.7" width="18.0" height="18.0" fill="rgb(119,15,201)"/>
<path d="M360.2 683.3L381.8 673.5V693.0Z" fill="rgb(0,175,175)"/>
<circle cx="388.1" cy="678.6" r="9.0" fill="rgb(1,35,169)"/>
<rect x="342.9" y="683.9" width="18.0" height="18.0" fill="rgb(119,15,201)"/>
<rect x="353.4" y="689.6" width="18.0" height="18.0" fill="rgb(119,15,201)"/>
<path d="M377.6 711.2L388.4 689.8H366.9Z" fill="rgb(0,79,0)"/>
<path d="M387.1 714.0L397.9 692.5H376.4Z" fill="rgb(0,79,0)"/>
<path d="M351.9 726.5L362.6 705.0H341.1Z" fill="rgb(0,79,0)"/>
<path d="M381.4 720.8L392.1 699.2H370.6Z" fill="rgb(0,79,0)"/>
<path d="M405.6 698.6L384.1 688.9V708.4Z" fill="rgb(185,45,195)"/>
<path d="M418.9 711.9L397.4 702.1V721.6Z" fill="rgb(185,45,195)"/>
<path d="M392.1 726.2L370.6 716.5V736.0Z" fill="rgb(185,45,195)"/>
<path d="M407.4 724.3L385.9 714.5V734.0Z" fill="rgb(185,45,195)"/>
<path d="M400.8 725.2L379.2 715.5V735.0Z" fill="rgb(185,45,195)"/>
<circle cx="528.6" cy="617.3" r="9.0" fill="rgb(1,35,169)"/>
<path d="M507.2 629.4L528.8 619.6V639.1Z" fill="rgb(0,175,175)"/>
<path d="M539.3 624.7L550.1 635.5L539.3 646.3L528.5 635.5Z" fill="rgb(185,85,5)"/>
<circle cx="562.1" cy="629.4" r="9.0" fill="rgb(1,35,169)"/>
<path d="M562.1 620.2L572.9 631.0L562.1 641.8L551.3 631.0Z" fill="rgb(185,85,5)"/>
<rect x="557.7" y="632.6" width="18.0" height="18.0" fill="rgb(119,15,201)"/>
<path d="M597.2 594.2L608.0 615.8H586.5Z" fill="rgb(195,15,55)"/>
<path d="M580.2 615.7L601.8 606.0V625.5Z" fill="rgb(0,175,175)"/>
<path d="M612.4 608.0L623.1 629.5H601.6Z" fill="rgb(195,15,55)"/>
<path d="M603.2 621.8L624.8 612.0V631.5Z" fill="rgb(0,175,175)"/>
<circle cx="511.8" cy="652.3" r="9.0" fill="rgb(1,35,169)"/>
<rect x="495.2" y="652.4" width="18.0" height="18.0" fill="rgb(119,15,201)"/>
<rect x="478.4" y="661.6" width="18.0" height="18.0" fill="rgb(119,15,201)"/>
<path d="M546.1 646.1L556.9 656.9L546.1 667.7L535.3 656.9Z" fill="rgb(185,85,5)"/>
<circle cx="527.1" cy="661.4" r="9.0" fill="rgb(1,35,169)"/>
<circle cx="530.1" cy="666.0" r="9.0" fill="rgb(1,35,169)"/>
<path d="M578.8 659.9L600.2 650.1V669.6Z" fill="rgb(0,175,175)"/>
<rect x="577.5" y="652.4" width="18.0" height="18.0" fill="rgb(119,15,201)"/>
<circle cx="591.0" cy="669.0" r="9.0" fill="rgb(1,35,169)"/>
<path d="M609.3 655.2L620.0 676.8H598.5Z" fill="rgb(195,15,55)"/>
<circle cx="618.5" cy="669.0" r="9.0" fill="rgb(1,35,169)"/>
<path d="M502.5 681.2L524.0 671.5V691.0Z" fill="rgb(0,175,175)"/>
<path d="M472.1 676.7L493.6 667.0V686.5Z" fill="rgb(0,175,175)"/>
<path d="M513.5 676.7L491.9 667.0V686.5Z" fill="rgb(185,45,195)"/>
<path d="M489.0 693.5L499.8 672.0H478.2Z" fill="rgb(0,79,0)"/>
<path d="M464.4 690.4L485.9 680.6V700.1Z" fill="rgb(0,175,175)"/>
<rect x="525.0" y="679.9" width="18.0" height="18.0" fill="rgb(119,15,201)"/>
<path d="M539.3 679.6L550.0 701.1H528.5Z" fill="rgb(195,15,55)"/>
<path d="M565.2 699.5L543.8 689.8V709.2Z" fill="rgb(185,45,195)"/>
<path d="M574.2 676.7L595.8 667.0V686.5Z" fill="rgb(0,175,175)"/>
<path d="M600.2 682.8L578.8 673.0V692.5Z" fill="rgb(185,45,195)"/>
<rect x="601.8" y="690.5" width="18.0" height="18.0" fill="rgb(119,15,201)"/>
<path d="M583.4 714.9L594.1 693.4H572.6Z" fill="rgb(0,79,0)"/>
<path d="M592.6 717.9L603.4 696.4H581.9Z" fill="rgb(0,79,0)"/>
<path d="M594.1 734.6L604.9 713.1H583.4Z" fill="rgb(0,79,0)"/>
<rect x="583.6" y="730.1" width="18.0" height="18.0" fill="rgb(119,15,201)"/>
<path d="M623.1 730.0L601.6 720.2V739.8Z" fill="rgb(185,45,195)"/>
<rect x="460.1" y="690.5" width="18.0" height="18.0" fill="rgb(119,15,201)"/>
<path d="M501.2 704.1L479.8 694.4V713.9Z" fill="rgb(185,45,195)"/>
<path d="M508.9 708.7L487.4 699.0V718.5Z" fill="rgb(185,45,195)"/>
<path d="M511.8 714.9L522.5 693.4H501.1Z" fill="rgb(0,79,0)"/>
<path d="M507.3 725.5L518.0 704.0H496.6Z" fill="rgb(0,79,0)"/>
<path d="M498.1 719.4L476.6 709.6V729.1Z" fill="rgb(185,45,195)"/>
<path d="M502.7 737.8L513.5 716.2H491.9Z" fill="rgb(0,79,0)"/>
<rect x="512.0" y="707.3" width="18.0" height="18.0" fill="rgb(119,15,201)"/>
<rect x="489.1" y="711.9" width="18.0" height="18.0" fill="rgb(119,15,201)"/>
<path d="M485.9 727.0L496.6 705.5H475.1Z" fill="rgb(0,79,0)"/>
<path d="M493.6 725.5L472.1 715.8V735.2Z" fill="rgb(185,45,195)"/>
<circle cx="631.0" cy="566.5" r="9.0" fill="rgb(1,35,169)"/>
<circle cx="783.8" cy="579.1" r="9.0" fill="rgb(1,35,169)"/>
<circle cx="733.7" cy="611.8" r="9.0" fill="rgb(1,35,169)"/>
<circle cx="636.4" cy="621.7" r="9.0" fill="rgb(1,35,169)"/>
<path d="M682.2 614.6L693.0 625.4L682.2 636.2L671.4 625.4Z" fill="rgb(185,85,5)"/>
<path d="M760.1 615.5L781.6 605.8V625.2Z" fill="rgb(0,175,175)"/>
<path d="M750.2 620.5L771.8 610.8V630.2Z" fill="rgb(0,175,175)"/>
<circle cx="774.6" cy="639.1" r="9.0" fill="rgb(1,35,169)"/>
<path d="M808.5 644.0L830.0 634.2V653.8Z" fill="rgb(0,175,175)"/>
<path d="M815.5 636.9L826.3 647.7L815.5 658.5L804.7 647.7Z" fill="rgb(185,85,5)"/>
<path d="M658.7 643.1L669.5 653.9L658.7 664.7L647.9 653.9Z" fill="rgb(185,85,5)"/>
<circle cx="730.0" cy="653.9" r="9.0" fill="rgb(1,35,169)"/>
<path d="M708.1 655.2L729.6 645.5V665.0Z" fill="rgb(0,175,175)"/>
<path d="M733.7 649.4L744.5 670.9H723.0Z" fill="rgb(195,15,55)"/>
<path d="M752.3 646.9L763.0 668.4H741.5Z" fill="rgb(195,15,55)"/>
<path d="M787.5 643.1L798.2 664.6H776.8Z" fill="rgb(195,15,55)"/>
<path d="M767.2 648.1L778.0 658.9L767.2 669.7L756.4 658.9Z" fill="rgb(185,85,5)"/>
<path d="M705.7 654.3L716.5 665.1L705.7 675.9L694.9 665.1Z" fill="rgb(185,85,5)"/>
<circle cx="767.7" cy="665.1" r="9.0" fill="rgb(1,35,169)"/>
<path d="M830.3 656.7L841.1 667.5L830.3 678.3L819.5 667.5Z" fill="rgb(185,85,5)"/>
<path d="M725.8 663.0L736.5 684.5H715.0Z" fill="rgb(195,15,55)"/>
<rect x="673.2" y="667.2" width="18.0" height="18.0" fill="rgb(119,15,201)"/>
<rect x="776.2" y="659.8" width="18.0" height="18.0" fill="rgb(119,15,201)"/>
<path d="M785.2 694.4L796.0 672.9H774.5Z" fill="rgb(0,79,0)"/>
<path d="M814.2 695.6L825.0 674.1H803.5Z" fill="rgb(0,79,0)"/>
<rect x="738.3" y="685.8" width="18.0" height="18.0" fill="rgb(119,15,201)"/>
<rect x="766.8" y="687.0" width="18.0" height="18.0" fill="rgb(119,15,201)"/>
<path d="M816.2 698.5L794.8 688.8V708.2Z" fill="rgb(185,45,195)"/>
<path d="M639.2 701.0L617.8 691.2V710.8Z" fill="rgb(185,45,195)"/>
<path d="M781.6 714.6L760.1 704.9V724.4Z" fill="rgb(185,45,195)"/>
<path d="M798.1 724.1L808.9 702.6H787.4Z" fill="rgb(0,79,0)"/>
<path d="M824.1 722.9L834.9 701.4H813.4Z" fill="rgb(0,79,0)"/>
<path d="M815.5 719.1L826.2 697.6H804.8Z" fill="rgb(0,79,0)"/>
<path d="M810.1 723.3L788.6 713.5V733.0Z" fill="rgb(185,45,195)"/>
<rect x="815.1" y="714.3" width="18.0" height="18.0" fill="rgb(119,15,201)"/>
<path d="M824.1 730.2L834.9 708.8H813.4Z" fill="rgb(0,79,0)"/>
<path d="M500.8 704.0L479.2 694.2V713.8Z" fill="rgb(185,45,195)"/>
<path d="M511.8 711.0L490.2 701.2V720.8Z" fill="rgb(185,45,195)"/>
<rect x="475.0" y="705.0" width="18.0" height="18.0" fill="rgb(119,15,201)"/>
<path d="M504.8 722.0L483.2 712.2V731.8Z" fill="rgb(185,45,195)"/>
<rect x="497.0" y="715.0" width="18.0" height="18.0" fill="rgb(119,15,201)"/>
<path d="M467.2 694.0L488.8 684.2V703.8Z" fill="rgb(0,175,175)"/>
<path d="M498.2 684.0L519.8 674.2V693.8Z" fill="rgb(0,175,175)"/>
<path d="M493.8 730.0L472.2 720.2V739.8Z" fill="rgb(185,45,195)"/>
<rect x="461.0" y="697.0" width="18.0" height="18.0" fill="rgb(119,15,201)"/>
</g>
<path d="M158.0 686.1L161.0 686.1L164.0 686.2L167.0 686.2L170.0 686.3L173.0 686.3L176.0 686.3L179.0 686.4L182.0 686.4L185.0 686.5L188.0 686.5L191.0 686.6L194.0 686.6L197.0 686.7L200.0 686.7L203.0 686.8L206.0 686.8L209.0 686.9L212.0 686.9L215.0 687.0L218.0 687.0L221.0 687.1L224.0 687.1L227.0 687.2L230.0 687.3L233.0 687.3L236.0 687.4L239.0 687.4L242.0 687.5L245.0 687.5L248.0 687.6L251.0 687.6L254.0 687.7L257.0 687.8L260.0 687.8L263.0 687.9L266.0 687.9L269.0 688.0L272.0 688.0L275.0 688.1L278.0 688.2L281.0 688.2L284.0 688.3L287.0 688.3L290.0 688.4L293.0 688.4L296.0 688.5L299.0 688.6L302.0 688.6L305.0 688.7L308.0 688.7L311.0 688.8L314.0 688.8L317.0 688.9L320.0 688.9L323.0 689.0L326.0 689.0L329.0 689.1L332.0 689.1L335.0 689.2L338.0 689.2L341.0 689.3L344.0 689.3L347.0 689.4L350.0 689.4L353.0 689.5L356.0 689.5L359.0 689.5L362.0 689.6L365.0 689.6L368.0 689.7L371.0 689.7L374.0 689.7L377.0 689.8L380.0 689.8L383.0 689.9L386.0 689.9L389.0 689.9L392.0 690.0L395.0 690.0L398.0 690.0L401.0 690.0L404.0 690.1L407.0 690.1L410.0 690.1L413.0 690.1L416.0 690.2L419.0 690.2L422.0 690.2L425.0 690.2L428.0 690.2L431.0 690.2L434.0 690.2L437.0 690.3L440.0 690.3L443.0 690.3L446.0 690.3L449.0 690.3L452.0 690.3L455.0 690.3L458.0 690.3L461.0 690.3L464.0 690.3L467.0 690.2L470.0 690.2L473.0 690.2L476.0 690.2L479.0 690.2L482.0 690.2L485.0 690.2L488.0 690.1L491.0 690.1L494.0 690.1L497.0 690.1L500.0 690.0L503.0 690.0L506.0 690.0L509.0 689.9L512.0 689.9L515.0 689.9L518.0 689.8L521.0 689.8L524.0 689.7L527.0 689.7L530.0 689.7L533.0 689.6L536.0 689.6L539.0 689.5L542.0 689.5L545.0 689.5L548.0 689.4L551.0 689.4L554.0 689.4L557.0 689.3L560.0 689.3L563.0 689.2L566.0 689.2L569.0 689.2L572.0 689.1L575.0 689.1L578.0 689.1L581.0 689.0L584.0 689.0L587.0 689.0L590.0 689.0L593.0 688.9L596.0 688.9L599.0 688.9L602.0 688.9L605.0 688.9L608.0 688.9L611.0 688.8L614.0 688.8L617.0 688.8L620.0 688.8L623.0 688.8L626.0 688.8L629.0 688.8L632.0 688.8L635.0 688.9L638.0 688.9L641.0 688.9L644.0 688.9L647.0 688.9L650.0 689.0L653.0 689.0L656.0 689.1L659.0 689.1L662.0 689.1L665.0 689.2L668.0 689.3L671.0 689.3L674.0 689.4L677.0 689.4L680.0 689.5L683.0 689.6L686.0 689.7L689.0 689.8L692.0 689.9L695.0 690.0L698.0 690.1L701.0 690.2L704.0 690.3L707.0 690.4L710.0 690.6L713.0 690.7L716.0 690.8L719.0 691.0L722.0 691.2L725.0 691.3L728.0 691.5L731.0 691.7L734.0 691.8L737.0 692.0L740.0 692.2L743.0 692.4L746.0 692.6L749.0 692.9L752.0 693.1L755.0 693.3L758.0 693.5L761.0 693.8L764.0 694.1L767.0 694.3L770.0 694.6L773.0 694.9L776.0 695.2L779.0 695.5L782.0 695.8L785.0 696.1L788.0 696.4L791.0 696.7L794.0 697.1L797.0 697.4L800.0 697.8L803.0 698.1L806.0 698.5L809.0 698.9L812.0 699.3L815.0 699.7L818.0 700.1L821.0 700.5L823.8 701.0" fill="none" stroke="#7812c8" stroke-width="4.3"/>
<path d="M158.0 709.8L161.0 710.1L164.0 710.3L167.0 710.5L170.0 710.7L173.0 710.9L176.0 711.1L179.0 711.3L182.0 711.4L185.0 711.6L188.0 711.8L191.0 711.9L194.0 712.1L197.0 712.2L200.0 712.4L203.0 712.5L206.0 712.6L209.0 712.8L212.0 712.9L215.0 713.0L218.0 713.1L221.0 713.2L224.0 713.3L227.0 713.4L230.0 713.5L233.0 713.5L236.0 713.6L239.0 713.7L242.0 713.7L245.0 713.8L248.0 713.8L251.0 713.9L254.0 713.9L257.0 714.0L260.0 714.0L263.0 714.0L266.0 714.0L269.0 714.0L272.0 714.1L275.0 714.1L278.0 714.1L281.0 714.1L284.0 714.1L287.0 714.0L290.0 714.0L293.0 714.0L296.0 714.0L299.0 714.0L302.0 713.9L305.0 713.9L308.0 713.8L311.0 713.8L314.0 713.8L317.0 713.7L320.0 713.7L323.0 713.6L326.0 713.5L329.0 713.5L332.0 713.4L335.0 713.3L338.0 713.2L341.0 713.2L344.0 713.1L347.0 713.0L350.0 712.9L353.0 712.8L356.0 712.7L359.0 712.6L362.0 712.5L365.0 712.4L368.0 712.3L371.0 712.2L374.0 712.1L377.0 712.0L380.0 711.9L383.0 711.8L386.0 711.7L389.0 711.5L392.0 711.4L395.0 711.3L398.0 711.2L401.0 711.0L404.0 710.9L407.0 710.8L410.0 710.6L413.0 710.5L416.0 710.4L419.0 710.2L422.0 710.1L425.0 710.0L428.0 709.8L431.0 709.7L434.0 709.5L437.0 709.4L440.0 709.2L443.0 709.1L446.0 708.9L449.0 708.8L452.0 708.6L455.0 708.5L458.0 708.3L461.0 708.2L464.0 708.0L467.0 707.9L470.0 707.7L473.0 707.6L476.0 707.4L479.0 707.3L482.0 707.1L485.0 706.9L488.0 706.8L491.0 706.6L494.0 706.5L497.0 706.3L500.0 706.2L503.0 706.0L506.0 705.9L509.0 705.7L512.0 705.6L515.0 705.4L518.0 705.3L521.0 705.1L524.0 705.0L527.0 704.8L530.0 704.7L533.0 704.5L536.0 704.4L539.0 704.2L542.0 704.1L545.0 703.9L548.0 703.8L551.0 703.6L554.0 703.5L557.0 703.4L560.0 703.2L563.0 703.1L566.0 703.0L569.0 702.8L572.0 702.7L575.0 702.6L578.0 702.5L581.0 702.3L584.0 702.2L587.0 702.1L590.0 702.0L593.0 701.9L596.0 701.7L599.0 701.6L602.0 701.5L605.0 701.4L608.0 701.3L611.0 701.2L614.0 701.1L617.0 701.0L620.0 700.9L623.0 700.8L626.0 700.8L629.0 700.7L632.0 700.6L635.0 700.5L638.0 700.4L641.0 700.4L644.0 700.3L647.0 700.2L650.0 700.2L653.0 700.1L656.0 700.1L659.0 700.0L662.0 700.0L665.0 699.9L668.0 699.9L671.0 699.9L674.0 699.8L677.0 699.8L680.0 699.8L683.0 699.8L686.0 699.7L689.0 699.7L692.0 699.7L695.0 699.7L698.0 699.7L701.0 699.7L704.0 699.8L707.0 699.8L710.0 699.8L713.0 699.8L716.0 699.9L719.0 699.9L722.0 699.9L725.0 700.0L728.0 700.0L731.0 700.1L734.0 700.2L737.0 700.2L740.0 700.3L743.0 700.4L746.0 700.5L749.0 700.5L752.0 700.6L755.0 700.7L758.0 700.8L761.0 701.0L764.0 701.1L767.0 701.2L770.0 701.3L773.0 701.5L776.0 701.6L779.0 701.8L782.0 701.9L785.0 702.1L788.0 702.2L791.0 702.4L794.0 702.6L797.0 702.8L800.0 703.0L803.0 703.2L806.0 703.4L809.0 703.6L812.0 703.8L815.0 704.1L818.0 704.3L821.0 704.5L823.8 704.8" fill="none" stroke="#8c2bef" stroke-width="3.8" stroke-dasharray="5.6 10.6"/>
<path d="M167.0 703.0L170.0 702.9L173.0 702.9L176.0 702.8L179.0 702.8L182.0 702.7L185.0 702.7L188.0 702.7L191.0 702.6L194.0 702.6L197.0 702.6L200.0 702.5L203.0 702.5L206.0 702.5L209.0 702.5L212.0 702.5L215.0 702.4L218.0 702.4L221.0 702.4L224.0 702.4L227.0 702.4L230.0 702.4L233.0 702.4L236.0 702.4L239.0 702.4L242.0 702.4L245.0 702.5L248.0 702.5L251.0 702.5L254.0 702.5L257.0 702.5L260.0 702.6L263.0 702.6L266.0 702.6L269.0 702.7L272.0 702.7L275.0 702.7L278.0 702.8L281.0 702.8L284.0 702.8L287.0 702.9L290.0 702.9L293.0 703.0L296.0 703.0L299.0 703.1L302.0 703.1L305.0 703.2L308.0 703.2L311.0 703.3L314.0 703.4L317.0 703.4L320.0 703.5L323.0 703.6L326.0 703.6L329.0 703.7L332.0 703.8L335.0 703.8L338.0 703.9L341.0 704.0L344.0 704.0L347.0 704.1L350.0 704.2L353.0 704.3L356.0 704.3L359.0 704.4L362.0 704.5L365.0 704.6L368.0 704.7L371.0 704.7L374.0 704.8L377.0 704.9L380.0 705.0L383.0 705.1L386.0 705.1L389.0 705.2L392.0 705.3L395.0 705.4L398.0 705.5L401.0 705.6L404.0 705.7L407.0 705.8L410.0 705.8L413.0 705.9L416.0 706.0L419.0 706.1L422.0 706.2L425.0 706.3L428.0 706.4L431.0 706.5L434.0 706.6L437.0 706.6L440.0 706.7L443.0 706.8L446.0 706.9L449.0 707.0L452.0 707.1L455.0 707.2L458.0 707.3L461.0 707.3L464.0 707.4L467.0 707.5L470.0 707.6L473.0 707.7L476.0 707.8L479.0 707.9L482.0 707.9L485.0 708.0L488.0 708.1L491.0 708.2L494.0 708.3L497.0 708.3L500.0 708.4L503.0 708.5L506.0 708.6L509.0 708.7L512.0 708.7L515.0 708.8L518.0 708.9L521.0 708.9L524.0 709.0L527.0 709.1L530.0 709.1L533.0 709.2L536.0 709.3L539.0 709.3L542.0 709.4L545.0 709.5L548.0 709.5L551.0 709.6L554.0 709.6L557.0 709.7L560.0 709.7L563.0 709.8L566.0 709.8L569.0 709.9L572.0 709.9L575.0 710.0L578.0 710.0L581.0 710.1L584.0 710.1L587.0 710.1L590.0 710.2L593.0 710.2L596.0 710.2L599.0 710.2L602.0 710.3L605.0 710.3L608.0 710.3L611.0 710.3L614.0 710.3L617.0 710.4L620.0 710.4L623.0 710.4L626.0 710.4L629.0 710.4L632.0 710.4L635.0 710.4L638.0 710.4L641.0 710.4L644.0 710.4L647.0 710.3L650.0 710.3L653.0 710.3L656.0 710.3L659.0 710.3L662.0 710.2L665.0 710.2L668.0 710.2L671.0 710.1L674.0 710.1L677.0 710.0L680.0 710.0L683.0 710.0L686.0 709.9L689.0 709.8L692.0 709.8L695.0 709.7L698.0 709.6L701.0 709.6L704.0 709.5L707.0 709.4L710.0 709.3L713.0 709.3L716.0 709.2L719.0 709.1L722.0 709.0L725.0 708.9L728.0 708.8L731.0 708.7L734.0 708.6L737.0 708.4L740.0 708.3L743.0 708.2L746.0 708.1L749.0 707.9L752.0 707.8L755.0 707.6L758.0 707.5L761.0 707.4L764.0 707.2L767.0 707.0L770.0 706.9L773.0 706.7L776.0 706.5L779.0 706.4L782.0 706.2L785.0 706.0L788.0 705.8L791.0 705.6L794.0 705.4L797.0 705.2L800.0 705.0L803.0 704.8L806.0 704.6L809.0 704.3L812.0 704.1L815.0 703.9L818.0 703.6L821.0 703.4L823.8 703.2" fill="none" stroke="#168c16" stroke-width="4.3" stroke-dasharray="10.8 3.7"/>
<path d="M158.0 672.0L161.0 672.0L164.0 672.1L167.0 672.1L170.0 672.2L173.0 672.2L176.0 672.3L179.0 672.3L182.0 672.4L185.0 672.4L188.0 672.5L191.0 672.5L194.0 672.6L197.0 672.6L200.0 672.6L203.0 672.7L206.0 672.7L209.0 672.8L212.0 672.8L215.0 672.9L218.0 672.9L221.0 673.0L224.0 673.0L227.0 673.0L230.0 673.1L233.0 673.1L236.0 673.1L239.0 673.2L242.0 673.2L245.0 673.2L248.0 673.3L251.0 673.3L254.0 673.3L257.0 673.4L260.0 673.4L263.0 673.4L266.0 673.4L269.0 673.4L272.0 673.5L275.0 673.5L278.0 673.5L281.0 673.5L284.0 673.5L287.0 673.5L290.0 673.5L293.0 673.5L296.0 673.5L299.0 673.5L302.0 673.5L305.0 673.5L308.0 673.5L311.0 673.5L314.0 673.4L317.0 673.4L320.0 673.4L323.0 673.4L326.0 673.3L329.0 673.3L332.0 673.3L335.0 673.2L338.0 673.2L341.0 673.1L344.0 673.1L347.0 673.0L350.0 673.0L353.0 672.9L356.0 672.8L359.0 672.7L362.0 672.7L365.0 672.6L368.0 672.5L371.0 672.4L374.0 672.3L377.0 672.2L380.0 672.1L383.0 672.0L386.0 671.9L389.0 671.8L392.0 671.6L395.0 671.5L398.0 671.4L401.0 671.2L404.0 671.1L407.0 671.0L410.0 670.8L413.0 670.6L416.0 670.5L419.0 670.3L422.0 670.1L425.0 670.0L428.0 669.8L431.0 669.6L434.0 669.4L437.0 669.2L440.0 669.0L443.0 668.7L446.0 668.5L449.0 668.3L452.0 668.1L455.0 667.8L458.0 667.6L461.0 667.3L464.0 667.0L467.0 666.8L470.0 666.5L473.0 666.2L476.0 665.9L479.0 665.6L482.0 665.3L485.0 665.0L488.0 664.7L491.0 664.4L494.0 664.1L497.0 663.7L500.0 663.4L503.0 663.0L506.0 662.7L509.0 662.3L512.0 662.0L515.0 661.6L518.0 661.2L521.0 660.8L524.0 660.5L527.0 660.1L530.0 659.7L533.0 659.3L536.0 658.9L539.0 658.5L542.0 658.1L545.0 657.7L548.0 657.2L551.0 656.8L554.0 656.4L557.0 656.0L560.0 655.6L563.0 655.1L566.0 654.7L569.0 654.3L572.0 653.8L575.0 653.4L578.0 653.0L581.0 652.5L584.0 652.1L587.0 651.6L590.0 651.2L593.0 650.8L596.0 650.3L599.0 649.9L602.0 649.4L605.0 649.0L608.0 648.5L611.0 648.1L614.0 647.7L617.0 647.2L620.0 646.8L623.0 646.3L626.0 645.9L629.0 645.5L632.0 645.0L635.0 644.6L638.0 644.2L641.0 643.7L644.0 643.3L647.0 642.9L650.0 642.5L653.0 642.0L656.0 641.6L659.0 641.2L662.0 640.8L665.0 640.4L668.0 640.0L671.0 639.6L674.0 639.2L677.0 638.8L680.0 638.4L683.0 638.1L686.0 637.7L689.0 637.3L692.0 636.9L695.0 636.6L698.0 636.2L701.0 635.9L704.0 635.5L707.0 635.2L710.0 634.9L713.0 634.5L716.0 634.2L719.0 633.9L722.0 633.6L725.0 633.3L728.0 633.0L731.0 632.7L734.0 632.5L737.0 632.2L740.0 631.9L743.0 631.7L746.0 631.4L749.0 631.2L752.0 631.0L755.0 630.8L758.0 630.6L761.0 630.4L764.0 630.2L767.0 630.0L770.0 629.8L773.0 629.7L776.0 629.5L779.0 629.4L782.0 629.2L785.0 629.1L788.0 629.0L791.0 628.9L794.0 628.8L797.0 628.7L800.0 628.7L803.0 628.6L806.0 628.6L809.0 628.5L812.0 628.5L815.0 628.5L818.0 628.5L818.4 628.5" fill="none" stroke="#0f8080" stroke-width="4.3" stroke-dasharray="10.5 3.8 3.6 3.6 3.6 3.9"/>
<path d="M139.9 664.0L142.9 663.5L145.9 663.1L148.9 662.6L151.9 662.1L154.9 661.7L157.9 661.3L160.9 660.8L163.9 660.4L166.9 660.0L169.9 659.6L172.9 659.3L175.9 658.9L178.9 658.5L181.9 658.2L184.9 657.8L187.9 657.5L190.9 657.2L193.9 656.8L196.9 656.5L199.9 656.2L202.9 655.9L205.9 655.6L208.9 655.4L211.9 655.1L214.9 654.8L217.9 654.6L220.9 654.3L223.9 654.1L226.9 653.9L229.9 653.6L232.9 653.4L235.9 653.2L238.9 653.0L241.9 652.8L244.9 652.6L247.9 652.4L250.9 652.2L253.9 652.0L256.9 651.9L259.9 651.7L262.9 651.6L265.9 651.4L268.9 651.3L271.9 651.1L274.9 651.0L277.9 650.8L280.9 650.7L283.9 650.6L286.9 650.5L289.9 650.3L292.9 650.2L295.9 650.1L298.9 650.0L301.9 649.9L304.9 649.8L307.9 649.7L310.9 649.7L313.9 649.6L316.9 649.5L319.9 649.4L322.9 649.3L325.9 649.3L328.9 649.2L331.9 649.1L334.9 649.0L337.9 649.0L340.9 648.9L343.9 648.9L346.9 648.8L349.9 648.7L352.9 648.7L355.9 648.6L358.9 648.6L361.9 648.5L364.9 648.5L367.9 648.4L370.9 648.4L373.9 648.3L376.9 648.3L379.9 648.2L382.9 648.2L385.9 648.1L388.9 648.1L391.9 648.0L394.9 648.0L397.9 647.9L400.9 647.9L403.9 647.8L406.9 647.8L409.9 647.7L412.9 647.7L415.9 647.6L418.9 647.6L421.9 647.5L424.9 647.4L427.9 647.4L430.9 647.3L433.9 647.3L436.9 647.2L439.9 647.1L442.9 647.0L445.9 647.0L448.9 646.9L451.9 646.8L454.9 646.7L457.9 646.6L460.9 646.5L463.9 646.4L466.9 646.3L469.9 646.2L472.9 646.1L475.9 646.0L478.9 645.9L481.9 645.8L484.9 645.7L487.9 645.5L490.9 645.4L493.9 645.3L496.9 645.1L499.9 645.0L502.9 644.9L505.9 644.7L508.9 644.5L511.9 644.4L514.9 644.2L517.9 644.1L520.9 643.9L523.9 643.7L526.9 643.6L529.9 643.4L532.9 643.2L535.9 643.0L538.9 642.8L541.9 642.6L544.9 642.4L547.9 642.2L550.9 642.0L553.9 641.8L556.9 641.6L559.9 641.4L562.9 641.2L565.9 641.0L568.9 640.8L571.9 640.6L574.9 640.4L577.9 640.1L580.9 639.9L583.9 639.7L586.9 639.5L589.9 639.2L592.9 639.0L595.9 638.8L598.9 638.5L601.9 638.3L604.9 638.1L607.9 637.8L610.9 637.6L613.9 637.3L616.9 637.1L619.9 636.9L622.9 636.6L625.9 636.4L628.9 636.1L631.9 635.9L634.9 635.6L637.9 635.4L640.9 635.1L643.9 634.9L646.9 634.6L649.9 634.4L652.9 634.1L655.9 633.9L658.9 633.6L661.9 633.4L664.9 633.1L667.9 632.9L670.9 632.6L673.9 632.3L676.9 632.1L679.9 631.8L682.9 631.6L685.9 631.3L688.9 631.1L691.9 630.8L694.9 630.6L697.9 630.3L700.9 630.1L703.9 629.8L706.9 629.6L709.9 629.3L712.9 629.1L715.9 628.8L718.9 628.6L721.9 628.4L724.9 628.1L727.9 627.9L730.9 627.6L733.9 627.4L736.9 627.2L739.9 626.9L742.9 626.7L745.9 626.5L748.9 626.2L751.9 626.0L754.9 625.8L757.9 625.5L760.9 625.3L763.9 625.1L766.9 624.9L769.9 624.7L772.9 624.5L775.9 624.2L778.9 624.0L781.9 623.8L784.0 623.7" fill="none" stroke="#12609c" stroke-width="4.3"/>
<path d="M156.2 602.0L159.2 601.6L162.2 601.2L165.2 600.9L168.2 600.5L171.2 600.2L174.2 599.8L177.2 599.4L180.2 599.1L183.2 598.7L186.2 598.4L189.2 598.0L192.2 597.7L195.2 597.4L198.2 597.0L201.2 596.7L204.2 596.4L207.2 596.0L210.2 595.7L213.2 595.4L216.2 595.1L219.2 594.8L222.2 594.5L225.2 594.2L228.2 593.9L231.2 593.6L234.2 593.3L237.2 593.1L240.2 592.8L243.2 592.6L246.2 592.3L249.2 592.1L252.2 591.8L255.2 591.6L258.2 591.4L261.2 591.2L264.2 591.0L267.2 590.8L270.2 590.6L273.2 590.4L276.2 590.3L279.2 590.1L282.2 590.0L285.2 589.8L288.2 589.7L291.2 589.6L294.2 589.5L297.2 589.4L300.2 589.3L303.2 589.3L306.2 589.2L309.2 589.1L312.2 589.1L315.2 589.1L318.2 589.1L321.2 589.1L324.2 589.1L327.2 589.1L330.2 589.2L333.2 589.3L336.2 589.3L339.2 589.4L342.2 589.5L345.2 589.6L348.2 589.8L351.2 589.9L354.2 590.1L357.2 590.3L360.2 590.5L363.2 590.7L366.2 590.9L369.2 591.1L372.2 591.4L375.2 591.7L378.2 592.0L381.2 592.3L384.2 592.6L387.2 592.9L390.2 593.2L393.2 593.6L396.2 594.0L399.2 594.3L402.2 594.7L405.2 595.1L408.2 595.6L411.2 596.0L414.2 596.5L417.2 596.9L420.2 597.4L423.2 597.9L426.2 598.4L429.2 598.9L432.2 599.4L435.2 599.9L438.2 600.5L441.2 601.0L444.2 601.6L447.2 602.1L450.2 602.7L453.2 603.3L456.2 603.9L459.2 604.5L462.2 605.2L465.2 605.8L468.2 606.4L471.2 607.1L474.2 607.7L477.2 608.4L480.2 609.1L483.2 609.8L486.2 610.5L489.2 611.2L492.2 611.9L495.2 612.6L498.2 613.3L501.2 614.0L504.2 614.8L507.2 615.5L510.2 616.2L513.2 617.0L516.2 617.7L519.2 618.5L522.2 619.2L525.2 620.0L528.2 620.7L531.2 621.5L534.2 622.3L537.2 623.0L540.2 623.8L543.2 624.5L546.2 625.3L549.2 626.1L552.2 626.8L555.2 627.6L558.2 628.3L561.2 629.1L564.2 629.8L567.2 630.5L570.2 631.3L573.2 632.0L576.2 632.7L579.2 633.5L582.2 634.2L585.2 634.9L588.2 635.6L591.2 636.3L594.2 636.9L597.2 637.6L600.2 638.3L603.2 638.9L606.2 639.6L609.2 640.2L612.2 640.9L615.2 641.5L618.2 642.1L621.2 642.7L624.2 643.2L627.2 643.8L630.2 644.4L633.2 644.9L636.2 645.4L639.2 645.9L642.2 646.4L645.2 646.9L648.2 647.4L651.2 647.9L654.2 648.3L657.2 648.8L660.2 649.2L663.2 649.6L666.2 650.0L669.2 650.4L672.2 650.8L675.2 651.2L678.2 651.6L681.2 651.9L684.2 652.3L687.2 652.6L690.2 653.0L693.2 653.3L696.2 653.6L699.2 653.9L702.2 654.2L705.2 654.5L708.2 654.8L711.2 655.0L714.2 655.3L717.2 655.6L720.2 655.8L723.2 656.1L726.2 656.3L729.2 656.5L732.2 656.7L735.2 656.9L738.2 657.2L741.2 657.4L744.2 657.6L747.2 657.7L750.2 657.9L753.2 658.1L756.2 658.3L759.2 658.4L762.2 658.6L765.2 658.8L768.2 658.9L771.2 659.0L774.2 659.2L777.2 659.3L780.2 659.5L783.2 659.6L786.2 659.7L789.2 659.8L792.2 660.0L795.2 660.1L798.2 660.2L801.2 660.3L804.2 660.4L807.2 660.5L810.2 660.6L813.2 660.7L816.2 660.8L819.2 660.9L822.0 661.0" fill="none" stroke="#bf6414" stroke-width="4.0" stroke-dasharray="5.6 10.6"/>
<path d="M139.9 601.9L142.9 601.8L145.9 601.7L148.9 601.6L151.9 601.5L154.9 601.4L157.9 601.3L160.9 601.3L163.9 601.2L166.9 601.2L169.9 601.2L172.9 601.2L175.9 601.1L178.9 601.1L181.9 601.1L184.9 601.2L187.9 601.2L190.9 601.2L193.9 601.3L196.9 601.3L199.9 601.4L202.9 601.4L205.9 601.5L208.9 601.6L211.9 601.7L214.9 601.7L217.9 601.9L220.9 602.0L223.9 602.1L226.9 602.2L229.9 602.3L232.9 602.5L235.9 602.6L238.9 602.8L241.9 602.9L244.9 603.1L247.9 603.3L250.9 603.4L253.9 603.6L256.9 603.8L259.9 604.0L262.9 604.2L265.9 604.4L268.9 604.6L271.9 604.9L274.9 605.1L277.9 605.3L280.9 605.6L283.9 605.8L286.9 606.1L289.9 606.3L292.9 606.6L295.9 606.9L298.9 607.1L301.9 607.4L304.9 607.7L307.9 608.0L310.9 608.3L313.9 608.6L316.9 608.9L319.9 609.2L322.9 609.5L325.9 609.8L328.9 610.1L331.9 610.5L334.9 610.8L337.9 611.1L340.9 611.5L343.9 611.8L346.9 612.2L349.9 612.5L352.9 612.9L355.9 613.2L358.9 613.6L361.9 613.9L364.9 614.3L367.9 614.7L370.9 615.1L373.9 615.4L376.9 615.8L379.9 616.2L382.9 616.6L385.9 617.0L388.9 617.4L391.9 617.8L394.9 618.2L397.9 618.6L400.9 619.0L403.9 619.4L406.9 619.8L409.9 620.2L412.9 620.6L415.9 621.0L418.9 621.4L421.9 621.9L424.9 622.3L427.9 622.7L430.9 623.1L433.9 623.5L436.9 624.0L439.9 624.4L442.9 624.8L445.9 625.3L448.9 625.7L451.9 626.1L454.9 626.6L457.9 627.0L460.9 627.4L463.9 627.9L466.9 628.3L469.9 628.7L472.9 629.2L475.9 629.6L478.9 630.0L481.9 630.5L484.9 630.9L487.9 631.4L490.9 631.8L493.9 632.2L496.9 632.7L499.9 633.1L502.9 633.5L505.9 634.0L508.9 634.4L511.9 634.9L514.9 635.3L517.9 635.7L520.9 636.2L523.9 636.6L526.9 637.0L529.9 637.5L532.9 637.9L535.9 638.3L538.9 638.7L541.9 639.2L544.9 639.6L547.9 640.0L550.9 640.4L553.9 640.8L556.9 641.3L559.9 641.7L562.9 642.1L565.9 642.5L568.9 642.9L571.9 643.3L574.9 643.7L577.9 644.1L580.9 644.5L583.9 644.9L586.9 645.3L589.9 645.7L592.9 646.1L595.9 646.5L598.9 646.8L601.9 647.2L604.9 647.6L607.9 648.0L610.9 648.3L613.9 648.7L616.9 649.1L619.9 649.4L622.9 649.8L625.9 650.1L628.9 650.5L631.9 650.8L634.9 651.2L637.9 651.5L640.9 651.8L643.9 652.1L646.9 652.5L649.9 652.8L652.9 653.1L655.9 653.4L658.9 653.7L661.9 654.0L664.9 654.3L667.9 654.6L670.9 654.9L673.9 655.2L676.9 655.4L679.9 655.7L682.9 656.0L685.9 656.2L688.9 656.5L691.9 656.7L694.9 657.0L697.9 657.2L700.9 657.4L703.9 657.6L706.9 657.9L709.9 658.1L712.9 658.3L715.9 658.5L718.9 658.7L721.9 658.9L724.9 659.0L727.9 659.2L730.9 659.4L733.9 659.5L736.9 659.7L739.9 659.8L742.9 660.0L745.9 660.1L748.9 660.2L751.9 660.3L754.9 660.5L757.9 660.6L760.9 660.7L763.9 660.7L766.9 660.8L769.9 660.9L772.9 661.0L775.9 661.0L778.9 661.1L781.9 661.1L784.9 661.1L787.6 661.1" fill="none" stroke="#c8143c" stroke-width="4.3"/>
<g fill-opacity="0.5">
<path d="M156.6 861.7L167.4 872.5L156.6 883.3L145.8 872.5Z" fill="rgb(185,85,5)"/>
<path d="M215.2 860.2L225.9 881.8H204.4Z" fill="rgb(195,15,55)"/>
<path d="M139.0 878.2L149.8 899.8H128.2Z" fill="rgb(195,15,55)"/>
<circle cx="180.0" cy="885.2" r="9.0" fill="rgb(1,35,169)"/>
<path d="M191.4 882.1L202.2 903.6H180.7Z" fill="rgb(195,15,55)"/>
<circle cx="208.6" cy="896.1" r="9.0" fill="rgb(1,35,169)"/>
<path d="M229.5 878.2L240.3 889.0L229.5 899.8L218.7 889.0Z" fill="rgb(185,85,5)"/>
<circle cx="171.0" cy="910.6" r="9.0" fill="rgb(1,35,169)"/>
<path d="M171.4 909.7L182.2 920.5L171.4 931.3L160.6 920.5Z" fill="rgb(185,85,5)"/>
<path d="M183.6 911.0L205.1 901.2V920.8Z" fill="rgb(0,175,175)"/>
<path d="M196.8 911.9L218.3 902.1V921.6Z" fill="rgb(0,175,175)"/>
<path d="M185.7 917.0L196.4 895.5H174.9Z" fill="rgb(0,79,0)"/>
<path d="M184.4 915.7L205.9 906.0V925.5Z" fill="rgb(0,175,175)"/>
<circle cx="140.0" cy="939.9" r="9.0" fill="rgb(1,35,169)"/>
<path d="M147.3 935.7L168.8 926.0V945.5Z" fill="rgb(0,175,175)"/>
<path d="M205.4 935.7L226.9 926.0V945.5Z" fill="rgb(0,175,175)"/>
<rect x="172.0" y="930.5" width="18.0" height="18.0" fill="rgb(119,15,201)"/>
<rect x="191.0" y="927.7" width="18.0" height="18.0" fill="rgb(119,15,201)"/>
<path d="M184.8 951.2L195.6 929.8H174.1Z" fill="rgb(0,79,0)"/>
<path d="M193.3 954.0L204.1 932.5H182.6Z" fill="rgb(0,79,0)"/>
<path d="M177.1 956.0L187.8 934.5H166.3Z" fill="rgb(0,79,0)"/>
<path d="M168.6 964.5L179.3 943.0H157.8Z" fill="rgb(0,79,0)"/>
<path d="M171.4 969.4L182.2 947.9H160.7Z" fill="rgb(0,79,0)"/>
<path d="M185.4 956.7L206.9 947.0V966.5Z" fill="rgb(0,175,175)"/>
<path d="M179.0 946.0L189.8 967.5H168.2Z" fill="rgb(195,15,55)"/>
<rect x="158.6" y="954.3" width="18.0" height="18.0" fill="rgb(119,15,201)"/>
<rect x="147.8" y="974.3" width="18.0" height="18.0" fill="rgb(119,15,201)"/>
<rect x="176.7" y="977.6" width="18.0" height="18.0" fill="rgb(119,15,201)"/>
<path d="M182.2 1011.9L160.7 1002.1V1021.6Z" fill="rgb(185,45,195)"/>
<path d="M191.8 1012.9L170.2 1003.1V1022.6Z" fill="rgb(185,45,195)"/>
<path d="M205.1 1010.0L183.6 1000.2V1019.8Z" fill="rgb(185,45,195)"/>
<path d="M289.8 1015.7L268.2 1006.0V1025.5Z" fill="rgb(185,45,195)"/>
<path d="M178.3 1012.9L156.8 1003.1V1022.6Z" fill="rgb(185,45,195)"/>
<path d="M453.8 789.2L464.6 800.0L453.8 810.8L443.0 800.0Z" fill="rgb(185,85,5)"/>
<path d="M475.7 810.2L486.5 821.0L475.7 831.8L464.9 821.0Z" fill="rgb(185,85,5)"/>
<path d="M477.6 815.9L488.4 826.7L477.6 837.5L466.8 826.7Z" fill="rgb(185,85,5)"/>
<circle cx="307.0" cy="845.0" r="9.0" fill="rgb(1,35,169)"/>
<path d="M375.7 841.6L386.5 852.4L375.7 863.2L364.9 852.4Z" fill="rgb(185,85,5)"/>
<circle cx="394.4" cy="850.5" r="9.0" fill="rgb(1,35,169)"/>
<circle cx="494.8" cy="852.4" r="9.0" fill="rgb(1,35,169)"/>
<path d="M332.5 865.4L343.3 876.2L332.5 887.0L321.7 876.2Z" fill="rgb(185,85,5)"/>
<path d="M401.4 866.4L412.1 887.9H390.6Z" fill="rgb(195,15,55)"/>
<path d="M365.2 875.9L376.0 886.7L365.2 897.5L354.4 886.7Z" fill="rgb(185,85,5)"/>
<circle cx="420.1" cy="898.1" r="9.0" fill="rgb(1,35,169)"/>
<circle cx="463.3" cy="896.6" r="9.0" fill="rgb(1,35,169)"/>
<circle cx="480.1" cy="893.9" r="9.0" fill="rgb(1,35,169)"/>
<circle cx="496.7" cy="896.6" r="9.0" fill="rgb(1,35,169)"/>
<path d="M370.6 896.9L381.4 918.4H359.9Z" fill="rgb(195,15,55)"/>
<path d="M414.4 898.8L425.1 920.2H403.6Z" fill="rgb(195,15,55)"/>
<path d="M397.2 899.7L408.0 910.5L397.2 921.3L386.4 910.5Z" fill="rgb(185,85,5)"/>
<rect x="342.9" y="912.0" width="18.0" height="18.0" fill="rgb(119,15,201)"/>
<circle cx="368.1" cy="925.7" r="9.0" fill="rgb(1,35,169)"/>
<path d="M374.4 931.4L395.9 921.6V941.1Z" fill="rgb(0,175,175)"/>
<circle cx="388.1" cy="935.2" r="9.0" fill="rgb(1,35,169)"/>
<path d="M358.2 941.0L379.8 931.2V950.8Z" fill="rgb(0,175,175)"/>
<rect x="371.5" y="939.6" width="18.0" height="18.0" fill="rgb(119,15,201)"/>
<path d="M375.7 954.5L386.4 933.0H364.9Z" fill="rgb(0,79,0)"/>
<path d="M397.6 939.8L408.4 961.2H386.9Z" fill="rgb(195,15,55)"/>
<path d="M388.8 961.0L410.2 951.2V970.8Z" fill="rgb(0,175,175)"/>
<path d="M411.6 966.7L433.1 957.0V976.5Z" fill="rgb(0,175,175)"/>
<path d="M351.9 988.9L362.6 967.4H341.1Z" fill="rgb(0,79,0)"/>
<rect x="356.2" y="965.3" width="18.0" height="18.0" fill="rgb(119,15,201)"/>
<rect x="369.6" y="963.4" width="18.0" height="18.0" fill="rgb(119,15,201)"/>
<path d="M384.3 984.0L395.1 962.5H373.6Z" fill="rgb(0,79,0)"/>
<path d="M404.6 1001.0L383.1 991.2V1010.8Z" fill="rgb(185,45,195)"/>
<path d="M391.2 1014.3L369.8 1004.5V1024.0Z" fill="rgb(185,45,195)"/>
<path d="M404.6 1013.3L383.1 1003.5V1023.0Z" fill="rgb(185,45,195)"/>
<path d="M418.9 1015.2L397.4 1005.5V1025.0Z" fill="rgb(185,45,195)"/>
<circle cx="461.4" cy="926.7" r="9.0" fill="rgb(1,35,169)"/>
<circle cx="463.3" cy="940.0" r="9.0" fill="rgb(1,35,169)"/>
<path d="M464.9 919.0L486.4 909.2V928.8Z" fill="rgb(0,175,175)"/>
<path d="M483.3 904.5L494.1 926.0H472.6Z" fill="rgb(195,15,55)"/>
<path d="M491.0 912.1L501.8 933.6H480.2Z" fill="rgb(195,15,55)"/>
<path d="M491.0 914.2L501.8 925.0L491.0 935.8L480.2 925.0Z" fill="rgb(185,85,5)"/>
<path d="M500.5 914.0L511.2 935.5H489.8Z" fill="rgb(195,15,55)"/>
<path d="M470.6 953.3L492.1 943.5V963.0Z" fill="rgb(0,175,175)"/>
<path d="M482.1 949.5L503.6 939.8V959.2Z" fill="rgb(0,175,175)"/>
<path d="M481.4 973.6L492.1 952.1H470.6Z" fill="rgb(0,79,0)"/>
<rect x="462.9" y="969.1" width="18.0" height="18.0" fill="rgb(119,15,201)"/>
<path d="M501.8 989.5L480.2 979.8V999.2Z" fill="rgb(185,45,195)"/>
<path d="M495.9 1002.9L474.4 993.1V1012.6Z" fill="rgb(185,45,195)"/>
<path d="M503.6 1010.5L482.1 1000.8V1020.2Z" fill="rgb(185,45,195)"/>
<path d="M511.2 1018.0L489.8 1008.2V1027.8Z" fill="rgb(185,45,195)"/>
<rect x="491.5" y="976.7" width="18.0" height="18.0" fill="rgb(119,15,201)"/>
<path d="M513.6 859.7L524.4 870.5L513.6 881.3L502.8 870.5Z" fill="rgb(185,85,5)"/>
<path d="M515.6 870.3L526.4 881.1L515.6 891.9L504.8 881.1Z" fill="rgb(185,85,5)"/>
<path d="M537.4 854.3L548.2 865.1L537.4 875.9L526.6 865.1Z" fill="rgb(185,85,5)"/>
<path d="M546.1 880.2L556.9 891.0L546.1 901.8L535.3 891.0Z" fill="rgb(185,85,5)"/>
<circle cx="562.4" cy="916.2" r="9.0" fill="rgb(1,35,169)"/>
<path d="M485.9 908.6L507.4 898.9V918.4Z" fill="rgb(0,175,175)"/>
<path d="M485.9 902.4L496.6 923.9H475.1Z" fill="rgb(195,15,55)"/>
<path d="M495.0 905.5L505.8 927.0H484.2Z" fill="rgb(195,15,55)"/>
<path d="M461.4 919.2L482.9 909.5V929.0Z" fill="rgb(0,175,175)"/>
<circle cx="511.8" cy="933.0" r="9.0" fill="rgb(1,35,169)"/>
<circle cx="528.6" cy="933.0" r="9.0" fill="rgb(1,35,169)"/>
<path d="M513.2 931.4L534.8 921.6V941.1Z" fill="rgb(0,175,175)"/>
<path d="M559.0 935.9L569.8 946.7L559.0 957.5L548.2 946.7Z" fill="rgb(185,85,5)"/>
<rect x="559.2" y="937.7" width="18.0" height="18.0" fill="rgb(119,15,201)"/>
<path d="M591.8 952.9L602.5 931.4H581.0Z" fill="rgb(0,79,0)"/>
<circle cx="592.6" cy="951.2" r="9.0" fill="rgb(1,35,169)"/>
<path d="M603.2 949.7L624.8 940.0V959.5Z" fill="rgb(0,175,175)"/>
<circle cx="530.1" cy="952.8" r="9.0" fill="rgb(1,35,169)"/>
<circle cx="528.6" cy="958.9" r="9.0" fill="rgb(1,35,169)"/>
<path d="M461.4 952.8L482.9 943.0V962.5Z" fill="rgb(0,175,175)"/>
<path d="M479.8 952.8L501.2 943.0V962.5Z" fill="rgb(0,175,175)"/>
<path d="M475.2 971.1L485.9 949.6H464.4Z" fill="rgb(0,79,0)"/>
<path d="M505.7 942.0L516.5 963.5H494.9Z" fill="rgb(195,15,55)"/>
<path d="M499.6 960.4L521.0 950.6V970.1Z" fill="rgb(0,175,175)"/>
<path d="M539.3 958.8L550.0 980.2H528.5Z" fill="rgb(195,15,55)"/>
<path d="M581.9 975.8L592.6 954.2H571.1Z" fill="rgb(0,79,0)"/>
<path d="M575.8 974.1L597.2 964.4V983.9Z" fill="rgb(0,175,175)"/>
<path d="M600.2 980.2L578.8 970.5V990.0Z" fill="rgb(185,45,195)"/>
<path d="M614.0 974.0L624.8 995.5H603.2Z" fill="rgb(195,15,55)"/>
<rect x="512.0" y="984.9" width="18.0" height="18.0" fill="rgb(119,15,201)"/>
<path d="M516.4 991.0L527.1 969.5H505.6Z" fill="rgb(0,79,0)"/>
<path d="M505.7 997.0L516.5 975.5H494.9Z" fill="rgb(0,79,0)"/>
<rect x="481.5" y="974.2" width="18.0" height="18.0" fill="rgb(119,15,201)"/>
<path d="M504.2 1004.6L482.8 994.9V1014.4Z" fill="rgb(185,45,195)"/>
<path d="M498.1 1012.2L476.6 1002.5V1022.0Z" fill="rgb(185,45,195)"/>
<rect x="493.7" y="1000.1" width="18.0" height="18.0" fill="rgb(119,15,201)"/>
<rect x="524.1" y="1001.7" width="18.0" height="18.0" fill="rgb(119,15,201)"/>
<path d="M565.2 1012.2L543.8 1002.5V1022.0Z" fill="rgb(185,45,195)"/>
<rect x="582.0" y="1009.3" width="18.0" height="18.0" fill="rgb(119,15,201)"/>
<path d="M601.8 1009.1L580.2 999.4V1018.9Z" fill="rgb(185,45,195)"/>
<rect x="600.3" y="989.5" width="18.0" height="18.0" fill="rgb(119,15,201)"/>
<path d="M621.8 1012.2L600.2 1002.5V1022.0Z" fill="rgb(185,45,195)"/>
<path d="M682.2 840.3L693.0 851.1L682.2 861.9L671.4 851.1Z" fill="rgb(185,85,5)"/>
<path d="M817.9 857.7L828.7 868.5L817.9 879.3L807.1 868.5Z" fill="rgb(185,85,5)"/>
<circle cx="636.4" cy="878.4" r="9.0" fill="rgb(1,35,169)"/>
<circle cx="631.0" cy="901.4" r="9.0" fill="rgb(1,35,169)"/>
<path d="M658.7 877.5L669.5 888.3L658.7 899.1L647.9 888.3Z" fill="rgb(185,85,5)"/>
<path d="M830.3 894.1L841.1 904.9L830.3 915.7L819.5 904.9Z" fill="rgb(185,85,5)"/>
<circle cx="733.7" cy="918.0" r="9.0" fill="rgb(1,35,169)"/>
<circle cx="774.6" cy="920.5" r="9.0" fill="rgb(1,35,169)"/>
<path d="M705.7 919.6L716.5 930.4L705.7 941.2L694.9 930.4Z" fill="rgb(185,85,5)"/>
<circle cx="730.5" cy="937.8" r="9.0" fill="rgb(1,35,169)"/>
<circle cx="783.8" cy="930.4" r="9.0" fill="rgb(1,35,169)"/>
<path d="M766.4 922.1L777.2 932.9L766.4 943.7L755.6 932.9Z" fill="rgb(185,85,5)"/>
<circle cx="622.3" cy="950.2" r="9.0" fill="rgb(1,35,169)"/>
<path d="M762.6 946.5L784.1 936.8V956.2Z" fill="rgb(0,175,175)"/>
<circle cx="767.2" cy="950.2" r="9.0" fill="rgb(1,35,169)"/>
<path d="M747.8 953.9L769.2 944.1V963.6Z" fill="rgb(0,175,175)"/>
<path d="M787.5 935.8L798.2 957.2H776.8Z" fill="rgb(195,15,55)"/>
<path d="M810.9 958.9L832.4 949.1V968.6Z" fill="rgb(0,175,175)"/>
<path d="M825.4 972.0L836.1 950.5H814.6Z" fill="rgb(0,79,0)"/>
<path d="M703.1 966.3L724.6 956.5V976.0Z" fill="rgb(0,175,175)"/>
<path d="M733.7 954.4L744.5 975.9H723.0Z" fill="rgb(195,15,55)"/>
<path d="M726.3 958.0L737.0 979.5H715.5Z" fill="rgb(195,15,55)"/>
<path d="M752.3 955.5L763.0 977.0H741.5Z" fill="rgb(195,15,55)"/>
<rect x="776.2" y="956.1" width="18.0" height="18.0" fill="rgb(119,15,201)"/>
<path d="M798.1 984.5L808.9 963.0H787.4Z" fill="rgb(0,79,0)"/>
<path d="M813.0 983.2L823.8 961.8H802.2Z" fill="rgb(0,79,0)"/>
<path d="M785.2 992.0L796.0 970.5H774.5Z" fill="rgb(0,79,0)"/>
<path d="M816.2 978.7L794.8 969.0V988.5Z" fill="rgb(185,45,195)"/>
<rect x="673.2" y="972.2" width="18.0" height="18.0" fill="rgb(119,15,201)"/>
<path d="M638.0 988.6L616.5 978.9V998.4Z" fill="rgb(185,45,195)"/>
<rect x="738.3" y="988.3" width="18.0" height="18.0" fill="rgb(119,15,201)"/>
<rect x="767.3" y="995.7" width="18.0" height="18.0" fill="rgb(119,15,201)"/>
<path d="M739.5 1010.9L718.0 1001.1V1020.6Z" fill="rgb(185,45,195)"/>
<path d="M638.0 1010.9L616.5 1001.1V1020.6Z" fill="rgb(185,45,195)"/>
<path d="M781.6 1018.3L760.1 1008.5V1028.0Z" fill="rgb(185,45,195)"/>
<path d="M459.2 950.0L480.8 940.2V959.8Z" fill="rgb(0,175,175)"/>
<path d="M475.2 958.0L496.8 948.2V967.8Z" fill="rgb(0,175,175)"/>
<path d="M490.2 962.0L511.8 952.2V971.8Z" fill="rgb(0,175,175)"/>
<path d="M504.2 955.0L525.8 945.2V964.8Z" fill="rgb(0,175,175)"/>
<path d="M500.8 995.0L479.2 985.2V1004.8Z" fill="rgb(185,45,195)"/>
<path d="M511.8 1005.0L490.2 995.2V1014.8Z" fill="rgb(185,45,195)"/>
<rect x="476.0" y="1002.0" width="18.0" height="18.0" fill="rgb(119,15,201)"/>
<path d="M505.8 1021.0L484.2 1011.2V1030.8Z" fill="rgb(185,45,195)"/>
<rect x="497.0" y="982.0" width="18.0" height="18.0" fill="rgb(119,15,201)"/>
<path d="M490.0 985.8L500.8 964.2H479.2Z" fill="rgb(0,79,0)"/>
<path d="M506.0 981.8L516.8 960.2H495.2Z" fill="rgb(0,79,0)"/>
</g>
<path d="M158.0 961.9L161.0 961.5L164.0 961.1L167.0 960.7L170.0 960.3L173.0 960.0L176.0 959.6L179.0 959.3L182.0 959.0L185.0 958.7L188.0 958.4L191.0 958.1L194.0 957.9L197.0 957.6L200.0 957.4L203.0 957.2L206.0 957.0L209.0 956.8L212.0 956.7L215.0 956.5L218.0 956.4L221.0 956.2L224.0 956.1L227.0 956.0L230.0 955.9L233.0 955.9L236.0 955.8L239.0 955.7L242.0 955.7L245.0 955.7L248.0 955.7L251.0 955.7L254.0 955.7L257.0 955.7L260.0 955.7L263.0 955.8L266.0 955.8L269.0 955.9L272.0 956.0L275.0 956.0L278.0 956.1L281.0 956.2L284.0 956.4L287.0 956.5L290.0 956.6L293.0 956.8L296.0 956.9L299.0 957.1L302.0 957.2L305.0 957.4L308.0 957.6L311.0 957.8L314.0 958.0L317.0 958.2L320.0 958.4L323.0 958.6L326.0 958.9L329.0 959.1L332.0 959.4L335.0 959.6L338.0 959.9L341.0 960.1L344.0 960.4L347.0 960.7L350.0 961.0L353.0 961.3L356.0 961.6L359.0 961.9L362.0 962.2L365.0 962.5L368.0 962.8L371.0 963.1L374.0 963.5L377.0 963.8L380.0 964.1L383.0 964.5L386.0 964.8L389.0 965.2L392.0 965.5L395.0 965.9L398.0 966.2L401.0 966.6L404.0 966.9L407.0 967.3L410.0 967.7L413.0 968.0L416.0 968.4L419.0 968.8L422.0 969.2L425.0 969.5L428.0 969.9L431.0 970.3L434.0 970.7L437.0 971.1L440.0 971.5L443.0 971.8L446.0 972.2L449.0 972.6L452.0 973.0L455.0 973.4L458.0 973.8L461.0 974.1L464.0 974.5L467.0 974.9L470.0 975.3L473.0 975.7L476.0 976.1L479.0 976.4L482.0 976.8L485.0 977.2L488.0 977.6L491.0 977.9L494.0 978.3L497.0 978.7L500.0 979.0L503.0 979.4L506.0 979.8L509.0 980.1L512.0 980.5L515.0 980.8L518.0 981.2L521.0 981.5L524.0 981.8L527.0 982.2L530.0 982.5L533.0 982.8L536.0 983.1L539.0 983.4L542.0 983.8L545.0 984.1L548.0 984.4L551.0 984.7L554.0 984.9L557.0 985.2L560.0 985.5L563.0 985.8L566.0 986.1L569.0 986.3L572.0 986.6L575.0 986.8L578.0 987.1L581.0 987.3L584.0 987.6L587.0 987.8L590.0 988.0L593.0 988.2L596.0 988.5L599.0 988.7L602.0 988.9L605.0 989.1L608.0 989.2L611.0 989.4L614.0 989.6L617.0 989.8L620.0 989.9L623.0 990.1L626.0 990.3L629.0 990.4L632.0 990.5L635.0 990.7L638.0 990.8L641.0 990.9L644.0 991.0L647.0 991.1L650.0 991.2L653.0 991.3L656.0 991.4L659.0 991.5L662.0 991.5L665.0 991.6L668.0 991.7L671.0 991.7L674.0 991.7L677.0 991.8L680.0 991.8L683.0 991.8L686.0 991.8L689.0 991.8L692.0 991.8L695.0 991.8L698.0 991.8L701.0 991.8L704.0 991.7L707.0 991.7L710.0 991.6L713.0 991.6L716.0 991.5L719.0 991.4L722.0 991.3L725.0 991.2L728.0 991.1L731.0 991.0L734.0 990.9L737.0 990.7L740.0 990.6L743.0 990.4L746.0 990.3L749.0 990.1L752.0 989.9L755.0 989.8L758.0 989.6L761.0 989.3L764.0 989.1L767.0 988.9L770.0 988.7L773.0 988.4L776.0 988.2L779.0 987.9L782.0 987.6L784.0 987.5" fill="none" stroke="#7812c8" stroke-width="4.3"/>
<path d="M170.7 1012.1L173.7 1012.2L176.7 1012.4L179.7 1012.5L182.7 1012.6L185.7 1012.8L188.7 1012.9L191.7 1013.0L194.7 1013.1L197.7 1013.2L200.7 1013.3L203.7 1013.3L206.7 1013.4L209.7 1013.5L212.7 1013.5L215.7 1013.6L218.7 1013.6L221.7 1013.7L224.7 1013.7L227.7 1013.7L230.7 1013.7L233.7 1013.7L236.7 1013.7L239.7 1013.7L242.7 1013.7L245.7 1013.7L248.7 1013.7L251.7 1013.7L254.7 1013.7L257.7 1013.6L260.7 1013.6L263.7 1013.5L266.7 1013.5L269.7 1013.4L272.7 1013.4L275.7 1013.3L278.7 1013.2L281.7 1013.2L284.7 1013.1L287.7 1013.0L290.7 1012.9L293.7 1012.8L296.7 1012.7L299.7 1012.6L302.7 1012.5L305.7 1012.4L308.7 1012.3L311.7 1012.2L314.7 1012.1L317.7 1012.0L320.7 1011.9L323.7 1011.7L326.7 1011.6L329.7 1011.5L332.7 1011.4L335.7 1011.2L338.7 1011.1L341.7 1011.0L344.7 1010.8L347.7 1010.7L350.7 1010.5L353.7 1010.4L356.7 1010.2L359.7 1010.1L362.7 1010.0L365.7 1009.8L368.7 1009.7L371.7 1009.5L374.7 1009.4L377.7 1009.2L380.7 1009.1L383.7 1008.9L386.7 1008.7L389.7 1008.6L392.7 1008.4L395.7 1008.3L398.7 1008.1L401.7 1008.0L404.7 1007.8L407.7 1007.7L410.7 1007.5L413.7 1007.4L416.7 1007.2L419.7 1007.1L422.7 1006.9L425.7 1006.8L428.7 1006.6L431.7 1006.5L434.7 1006.4L437.7 1006.2L440.7 1006.1L443.7 1006.0L446.7 1005.8L449.7 1005.7L452.7 1005.6L455.7 1005.4L458.7 1005.3L461.7 1005.2L464.7 1005.1L467.7 1004.9L470.7 1004.8L473.7 1004.7L476.7 1004.6L479.7 1004.5L482.7 1004.4L485.7 1004.3L488.7 1004.2L491.7 1004.1L494.7 1004.0L497.7 1004.0L500.7 1003.9L503.7 1003.8L506.7 1003.7L509.7 1003.7L512.7 1003.6L515.7 1003.5L518.7 1003.5L521.7 1003.4L524.7 1003.3L527.7 1003.3L530.7 1003.2L533.7 1003.2L536.7 1003.1L539.7 1003.1L542.7 1003.0L545.7 1003.0L548.7 1002.9L551.7 1002.9L554.7 1002.9L557.7 1002.8L560.7 1002.8L563.7 1002.8L566.7 1002.7L569.7 1002.7L572.7 1002.7L575.7 1002.6L578.7 1002.6L581.7 1002.6L584.7 1002.6L587.7 1002.5L590.7 1002.5L593.7 1002.5L596.7 1002.5L599.7 1002.5L602.7 1002.4L605.7 1002.4L608.7 1002.4L611.7 1002.4L614.7 1002.4L617.7 1002.3L620.7 1002.3L623.7 1002.3L626.7 1002.3L629.7 1002.3L632.7 1002.3L635.7 1002.2L638.7 1002.2L641.7 1002.2L644.7 1002.2L647.7 1002.2L650.7 1002.1L653.7 1002.1L656.7 1002.1L659.7 1002.1L662.7 1002.1L665.7 1002.0L668.7 1002.0L671.7 1002.0L674.7 1002.0L677.7 1001.9L680.7 1001.9L683.7 1001.9L686.7 1001.8L689.7 1001.8L692.7 1001.8L695.7 1001.7L698.7 1001.7L701.7 1001.7L704.7 1001.6L707.7 1001.6L710.7 1001.5L713.7 1001.5L716.7 1001.4L719.7 1001.4L722.7 1001.3L725.7 1001.3L728.7 1001.2L731.7 1001.2L734.7 1001.1L737.7 1001.0L740.7 1001.0L743.7 1000.9L746.7 1000.8L749.7 1000.7L752.7 1000.7L755.7 1000.6L758.7 1000.5L761.7 1000.4L764.7 1000.3L767.7 1000.2L770.7 1000.1L773.7 1000.0L776.7 999.9L779.7 999.8L782.7 999.7L785.7 999.6L788.7 999.4L791.7 999.3L794.7 999.2L797.7 999.1L800.7 998.9L803.7 998.8L806.7 998.6L809.4 998.5" fill="none" stroke="#8c2bef" stroke-width="3.8" stroke-dasharray="5.6 10.6"/>
<path d="M170.7 941.6L173.7 942.0L176.7 942.3L179.7 942.7L182.7 943.1L185.7 943.5L188.7 943.9L191.7 944.3L194.7 944.7L197.7 945.0L200.7 945.4L203.7 945.8L206.7 946.1L209.7 946.5L212.7 946.9L215.7 947.3L218.7 947.6L221.7 948.0L224.7 948.3L227.7 948.7L230.7 949.0L233.7 949.4L236.7 949.7L239.7 950.1L242.7 950.4L245.7 950.8L248.7 951.1L251.7 951.5L254.7 951.8L257.7 952.1L260.7 952.5L263.7 952.8L266.7 953.1L269.7 953.5L272.7 953.8L275.7 954.1L278.7 954.4L281.7 954.7L284.7 955.1L287.7 955.4L290.7 955.7L293.7 956.0L296.7 956.3L299.7 956.6L302.7 956.9L305.7 957.2L308.7 957.5L311.7 957.8L314.7 958.1L317.7 958.4L320.7 958.7L323.7 959.0L326.7 959.3L329.7 959.5L332.7 959.8L335.7 960.1L338.7 960.4L341.7 960.6L344.7 960.9L347.7 961.2L350.7 961.5L353.7 961.7L356.7 962.0L359.7 962.2L362.7 962.5L365.7 962.8L368.7 963.0L371.7 963.3L374.7 963.5L377.7 963.8L380.7 964.0L383.7 964.2L386.7 964.5L389.7 964.7L392.7 965.0L395.7 965.2L398.7 965.4L401.7 965.6L404.7 965.9L407.7 966.1L410.7 966.3L413.7 966.5L416.7 966.7L419.7 967.0L422.7 967.2L425.7 967.4L428.7 967.6L431.7 967.8L434.7 968.0L437.7 968.2L440.7 968.4L443.7 968.6L446.7 968.8L449.7 969.0L452.7 969.1L455.7 969.3L458.7 969.5L461.7 969.7L464.7 969.9L467.7 970.0L470.7 970.2L473.7 970.4L476.7 970.5L479.7 970.7L482.7 970.9L485.7 971.0L488.7 971.2L491.7 971.3L494.7 971.5L497.7 971.6L500.7 971.8L503.7 971.9L506.7 972.1L509.7 972.2L512.7 972.4L515.7 972.5L518.7 972.6L521.7 972.8L524.7 972.9L527.7 973.0L530.7 973.1L533.7 973.2L536.7 973.4L539.7 973.5L542.7 973.6L545.7 973.7L548.7 973.8L551.7 973.9L554.7 974.0L557.7 974.1L560.7 974.2L563.7 974.3L566.7 974.4L569.7 974.5L572.7 974.6L575.7 974.6L578.7 974.7L581.7 974.8L584.7 974.9L587.7 974.9L590.7 975.0L593.7 975.1L596.7 975.1L599.7 975.2L602.7 975.3L605.7 975.3L608.7 975.4L611.7 975.4L614.7 975.5L617.7 975.5L620.7 975.6L623.7 975.6L626.7 975.6L629.7 975.7L632.7 975.7L635.7 975.7L638.7 975.8L641.7 975.8L644.7 975.8L647.7 975.8L650.7 975.8L653.7 975.8L656.7 975.9L659.7 975.9L662.7 975.9L665.7 975.9L668.7 975.9L671.7 975.9L674.7 975.8L677.7 975.8L680.7 975.8L683.7 975.8L686.7 975.8L689.7 975.8L692.7 975.7L695.7 975.7L698.7 975.7L701.7 975.7L704.7 975.6L707.7 975.6L710.7 975.5L713.7 975.5L716.7 975.5L719.7 975.4L722.7 975.4L725.7 975.3L728.7 975.2L731.7 975.2L734.7 975.1L737.7 975.0L740.7 975.0L743.7 974.9L746.7 974.8L749.7 974.8L752.7 974.7L755.7 974.6L758.7 974.5L761.7 974.4L764.7 974.3L767.7 974.2L770.7 974.1L773.7 974.0L776.7 973.9L779.7 973.8L782.7 973.7L785.7 973.6L788.7 973.5L791.7 973.3L794.7 973.2L797.7 973.1L800.7 973.0L803.7 972.8L806.7 972.7L809.7 972.6L812.7 972.4L815.7 972.3L818.7 972.1L821.7 972.0L823.8 971.9" fill="none" stroke="#168c16" stroke-width="4.3" stroke-dasharray="10.8 3.7"/>
<path d="M158.0 928.3L161.0 928.7L164.0 929.0L167.0 929.4L170.0 929.7L173.0 930.1L176.0 930.4L179.0 930.7L182.0 931.1L185.0 931.4L188.0 931.7L191.0 932.1L194.0 932.4L197.0 932.7L200.0 933.0L203.0 933.3L206.0 933.6L209.0 933.9L212.0 934.2L215.0 934.5L218.0 934.8L221.0 935.1L224.0 935.4L227.0 935.6L230.0 935.9L233.0 936.2L236.0 936.4L239.0 936.7L242.0 937.0L245.0 937.2L248.0 937.5L251.0 937.7L254.0 938.0L257.0 938.2L260.0 938.5L263.0 938.7L266.0 938.9L269.0 939.2L272.0 939.4L275.0 939.6L278.0 939.8L281.0 940.0L284.0 940.2L287.0 940.5L290.0 940.7L293.0 940.9L296.0 941.1L299.0 941.2L302.0 941.4L305.0 941.6L308.0 941.8L311.0 942.0L314.0 942.2L317.0 942.3L320.0 942.5L323.0 942.7L326.0 942.8L329.0 943.0L332.0 943.2L335.0 943.3L338.0 943.5L341.0 943.6L344.0 943.8L347.0 943.9L350.0 944.1L353.0 944.2L356.0 944.3L359.0 944.5L362.0 944.6L365.0 944.7L368.0 944.9L371.0 945.0L374.0 945.1L377.0 945.3L380.0 945.4L383.0 945.5L386.0 945.6L389.0 945.8L392.0 945.9L395.0 946.0L398.0 946.1L401.0 946.2L404.0 946.4L407.0 946.5L410.0 946.6L413.0 946.7L416.0 946.8L419.0 946.9L422.0 947.0L425.0 947.2L428.0 947.3L431.0 947.4L434.0 947.5L437.0 947.6L440.0 947.7L443.0 947.8L446.0 947.9L449.0 948.1L452.0 948.2L455.0 948.3L458.0 948.4L461.0 948.5L464.0 948.6L467.0 948.7L470.0 948.9L473.0 949.0L476.0 949.1L479.0 949.2L482.0 949.3L485.0 949.5L488.0 949.6L491.0 949.7L494.0 949.8L497.0 950.0L500.0 950.1L503.0 950.2L506.0 950.4L509.0 950.5L512.0 950.6L515.0 950.8L518.0 950.9L521.0 951.0L524.0 951.2L527.0 951.3L530.0 951.4L533.0 951.6L536.0 951.7L539.0 951.9L542.0 952.0L545.0 952.2L548.0 952.3L551.0 952.5L554.0 952.6L557.0 952.7L560.0 952.9L563.0 953.0L566.0 953.2L569.0 953.3L572.0 953.5L575.0 953.6L578.0 953.8L581.0 953.9L584.0 954.1L587.0 954.2L590.0 954.3L593.0 954.5L596.0 954.6L599.0 954.8L602.0 954.9L605.0 955.0L608.0 955.2L611.0 955.3L614.0 955.4L617.0 955.6L620.0 955.7L623.0 955.8L626.0 956.0L629.0 956.1L632.0 956.2L635.0 956.3L638.0 956.4L641.0 956.5L644.0 956.6L647.0 956.8L650.0 956.9L653.0 957.0L656.0 957.1L659.0 957.2L662.0 957.2L665.0 957.3L668.0 957.4L671.0 957.5L674.0 957.6L677.0 957.7L680.0 957.7L683.0 957.8L686.0 957.9L689.0 957.9L692.0 958.0L695.0 958.0L698.0 958.1L701.0 958.1L704.0 958.2L707.0 958.2L710.0 958.2L713.0 958.3L716.0 958.3L719.0 958.3L722.0 958.3L725.0 958.3L728.0 958.3L731.0 958.3L734.0 958.3L737.0 958.3L740.0 958.3L743.0 958.3L746.0 958.2L749.0 958.2L752.0 958.2L755.0 958.1L758.0 958.1L761.0 958.0L764.0 958.0L767.0 957.9L770.0 957.8L773.0 957.7L776.0 957.7L779.0 957.6L782.0 957.5L785.0 957.4L788.0 957.3L791.0 957.1L794.0 957.0L797.0 956.9L800.0 956.7L803.0 956.6L806.0 956.5L809.0 956.3L812.0 956.1L815.0 956.0L818.0 955.8L820.2 955.6" fill="none" stroke="#0f8080" stroke-width="4.3" stroke-dasharray="10.5 3.8 3.6 3.6 3.6 3.9"/>
<path d="M139.9 913.8L142.9 912.9L145.9 912.0L148.9 911.0L151.9 910.2L154.9 909.3L157.9 908.5L160.9 907.7L163.9 906.9L166.9 906.1L169.9 905.3L172.9 904.6L175.9 903.9L178.9 903.2L181.9 902.5L184.9 901.9L187.9 901.2L190.9 900.6L193.9 900.0L196.9 899.4L199.9 898.9L202.9 898.3L205.9 897.8L208.9 897.3L211.9 896.9L214.9 896.4L217.9 896.0L220.9 895.5L223.9 895.1L226.9 894.8L229.9 894.4L232.9 894.1L235.9 893.7L238.9 893.4L241.9 893.1L244.9 892.9L247.9 892.6L250.9 892.4L253.9 892.1L256.9 891.9L259.9 891.8L262.9 891.6L265.9 891.5L268.9 891.3L271.9 891.2L274.9 891.1L277.9 891.0L280.9 891.0L283.9 890.9L286.9 890.9L289.9 890.9L292.9 890.9L295.9 890.9L298.9 890.9L301.9 891.0L304.9 891.1L307.9 891.1L310.9 891.2L313.9 891.4L316.9 891.5L319.9 891.6L322.9 891.8L325.9 892.0L328.9 892.2L331.9 892.4L334.9 892.6L337.9 892.8L340.9 893.1L343.9 893.4L346.9 893.6L349.9 893.9L352.9 894.2L355.9 894.5L358.9 894.9L361.9 895.2L364.9 895.6L367.9 895.9L370.9 896.3L373.9 896.7L376.9 897.0L379.9 897.4L382.9 897.8L385.9 898.2L388.9 898.7L391.9 899.1L394.9 899.5L397.9 899.9L400.9 900.4L403.9 900.8L406.9 901.3L409.9 901.7L412.9 902.2L415.9 902.6L418.9 903.1L421.9 903.6L424.9 904.0L427.9 904.5L430.9 905.0L433.9 905.4L436.9 905.9L439.9 906.4L442.9 906.8L445.9 907.3L448.9 907.8L451.9 908.2L454.9 908.7L457.9 909.1L460.9 909.6L463.9 910.0L466.9 910.5L469.9 910.9L472.9 911.4L475.9 911.8L478.9 912.2L481.9 912.6L484.9 913.0L487.9 913.4L490.9 913.8L493.9 914.2L496.9 914.6L499.9 915.0L502.9 915.3L505.9 915.7L508.9 916.1L511.9 916.4L514.9 916.8L517.9 917.1L520.9 917.4L523.9 917.8L526.9 918.1L529.9 918.4L532.9 918.7L535.9 919.0L538.9 919.3L541.9 919.6L544.9 919.9L547.9 920.2L550.9 920.5L553.9 920.8L556.9 921.0L559.9 921.3L562.9 921.5L565.9 921.8L568.9 922.1L571.9 922.3L574.9 922.5L577.9 922.8L580.9 923.0L583.9 923.2L586.9 923.4L589.9 923.7L592.9 923.9L595.9 924.1L598.9 924.3L601.9 924.5L604.9 924.7L607.9 924.9L610.9 925.1L613.9 925.2L616.9 925.4L619.9 925.6L622.9 925.8L625.9 925.9L628.9 926.1L631.9 926.2L634.9 926.4L637.9 926.6L640.9 926.7L643.9 926.9L646.9 927.0L649.9 927.1L652.9 927.3L655.9 927.4L658.9 927.5L661.9 927.7L664.9 927.8L667.9 927.9L670.9 928.0L673.9 928.1L676.9 928.2L679.9 928.4L682.9 928.5L685.9 928.6L688.9 928.7L691.9 928.8L694.9 928.9L697.9 929.0L700.9 929.1L703.9 929.1L706.9 929.2L709.9 929.3L712.9 929.4L715.9 929.5L718.9 929.6L721.9 929.7L724.9 929.7L727.9 929.8L730.9 929.9L733.9 929.9L736.9 930.0L739.9 930.1L742.9 930.2L745.9 930.2L748.9 930.3L751.9 930.4L754.9 930.4L757.9 930.5L760.9 930.5L763.9 930.6L766.9 930.7L769.9 930.7L772.9 930.8L775.9 930.8L778.9 930.9L781.9 930.9L784.0 931.0" fill="none" stroke="#12609c" stroke-width="4.3"/>
<path d="M156.2 900.3L159.2 899.9L162.2 899.5L165.2 899.1L168.2 898.8L171.2 898.4L174.2 898.0L177.2 897.6L180.2 897.2L183.2 896.8L186.2 896.4L189.2 896.0L192.2 895.6L195.2 895.2L198.2 894.8L201.2 894.3L204.2 893.9L207.2 893.5L210.2 893.1L213.2 892.7L216.2 892.2L219.2 891.8L222.2 891.4L225.2 891.0L228.2 890.5L231.2 890.1L234.2 889.7L237.2 889.3L240.2 888.8L243.2 888.4L246.2 888.0L249.2 887.6L252.2 887.2L255.2 886.7L258.2 886.3L261.2 885.9L264.2 885.5L267.2 885.1L270.2 884.7L273.2 884.3L276.2 883.9L279.2 883.5L282.2 883.1L285.2 882.7L288.2 882.3L291.2 881.9L294.2 881.5L297.2 881.2L300.2 880.8L303.2 880.4L306.2 880.1L309.2 879.7L312.2 879.3L315.2 879.0L318.2 878.7L321.2 878.3L324.2 878.0L327.2 877.7L330.2 877.4L333.2 877.0L336.2 876.7L339.2 876.5L342.2 876.2L345.2 875.9L348.2 875.6L351.2 875.4L354.2 875.1L357.2 874.8L360.2 874.6L363.2 874.4L366.2 874.2L369.2 873.9L372.2 873.7L375.2 873.6L378.2 873.4L381.2 873.2L384.2 873.0L387.2 872.9L390.2 872.7L393.2 872.6L396.2 872.5L399.2 872.4L402.2 872.3L405.2 872.2L408.2 872.1L411.2 872.1L414.2 872.0L417.2 872.0L420.2 871.9L423.2 871.9L426.2 871.9L429.2 871.9L432.2 872.0L435.2 872.0L438.2 872.1L441.2 872.1L444.2 872.2L447.2 872.3L450.2 872.4L453.2 872.6L456.2 872.7L459.2 872.9L462.2 873.0L465.2 873.2L468.2 873.4L471.2 873.6L474.2 873.9L477.2 874.1L480.2 874.4L483.2 874.7L486.2 875.0L489.2 875.3L492.2 875.6L495.2 876.0L498.2 876.4L501.2 876.7L504.2 877.1L507.2 877.5L510.2 877.9L513.2 878.3L516.2 878.8L519.2 879.2L522.2 879.6L525.2 880.1L528.2 880.5L531.2 881.0L534.2 881.5L537.2 881.9L540.2 882.4L543.2 882.9L546.2 883.4L549.2 883.8L552.2 884.3L555.2 884.8L558.2 885.3L561.2 885.8L564.2 886.3L567.2 886.7L570.2 887.2L573.2 887.7L576.2 888.1L579.2 888.6L582.2 889.1L585.2 889.5L588.2 889.9L591.2 890.4L594.2 890.8L597.2 891.2L600.2 891.6L603.2 892.0L606.2 892.4L609.2 892.8L612.2 893.1L615.2 893.5L618.2 893.8L621.2 894.1L624.2 894.4L627.2 894.7L630.2 895.0L633.2 895.2L636.2 895.5L639.2 895.7L642.2 895.9L645.2 896.1L648.2 896.3L651.2 896.4L654.2 896.6L657.2 896.7L660.2 896.9L663.2 897.0L666.2 897.1L669.2 897.2L672.2 897.3L675.2 897.4L678.2 897.5L681.2 897.5L684.2 897.6L687.2 897.6L690.2 897.7L693.2 897.7L696.2 897.7L699.2 897.8L702.2 897.8L705.2 897.8L708.2 897.8L711.2 897.8L714.2 897.8L717.2 897.8L720.2 897.8L723.2 897.8L726.2 897.8L729.2 897.8L732.2 897.8L735.2 897.8L738.2 897.8L741.2 897.8L744.2 897.8L747.2 897.8L750.2 897.8L753.2 897.8L756.2 897.8L759.2 897.8L762.2 897.8L765.2 897.8L768.2 897.8L771.2 897.8L774.2 897.9L777.2 897.9L780.2 897.9L783.2 898.0L786.2 898.0L789.2 898.1L792.2 898.2L795.2 898.3L798.2 898.3L801.2 898.4L804.2 898.6L807.2 898.7L810.2 898.8L813.2 898.9L816.2 899.1L819.2 899.3L822.2 899.4L825.2 899.6L825.6 899.7" fill="none" stroke="#bf6414" stroke-width="4.0" stroke-dasharray="5.6 10.6"/>
<path d="M139.9 903.0L142.9 902.8L145.9 902.6L148.9 902.4L151.9 902.2L154.9 902.1L157.9 901.9L160.9 901.8L163.9 901.6L166.9 901.5L169.9 901.3L172.9 901.2L175.9 901.1L178.9 901.0L181.9 900.9L184.9 900.8L187.9 900.8L190.9 900.7L193.9 900.6L196.9 900.6L199.9 900.5L202.9 900.5L205.9 900.5L208.9 900.5L211.9 900.4L214.9 900.5L217.9 900.5L220.9 900.5L223.9 900.5L226.9 900.6L229.9 900.6L232.9 900.7L235.9 900.7L238.9 900.8L241.9 900.9L244.9 901.0L247.9 901.1L250.9 901.2L253.9 901.4L256.9 901.5L259.9 901.7L262.9 901.8L265.9 902.0L268.9 902.2L271.9 902.4L274.9 902.6L277.9 902.8L280.9 903.0L283.9 903.2L286.9 903.5L289.9 903.7L292.9 904.0L295.9 904.3L298.9 904.6L301.9 904.9L304.9 905.2L307.9 905.5L310.9 905.8L313.9 906.2L316.9 906.5L319.9 906.9L322.9 907.3L325.9 907.7L328.9 908.1L331.9 908.5L334.9 908.9L337.9 909.3L340.9 909.8L343.9 910.3L346.9 910.7L349.9 911.2L352.9 911.7L355.9 912.2L358.9 912.7L361.9 913.2L364.9 913.8L367.9 914.3L370.9 914.8L373.9 915.4L376.9 916.0L379.9 916.5L382.9 917.1L385.9 917.7L388.9 918.3L391.9 918.9L394.9 919.5L397.9 920.1L400.9 920.7L403.9 921.3L406.9 921.9L409.9 922.6L412.9 923.2L415.9 923.8L418.9 924.5L421.9 925.1L424.9 925.8L427.9 926.4L430.9 927.1L433.9 927.7L436.9 928.4L439.9 929.1L442.9 929.7L445.9 930.4L448.9 931.1L451.9 931.7L454.9 932.4L457.9 933.1L460.9 933.7L463.9 934.4L466.9 935.1L469.9 935.7L472.9 936.4L475.9 937.1L478.9 937.7L481.9 938.4L484.9 939.0L487.9 939.7L490.9 940.3L493.9 941.0L496.9 941.6L499.9 942.3L502.9 942.9L505.9 943.6L508.9 944.2L511.9 944.8L514.9 945.5L517.9 946.1L520.9 946.7L523.9 947.3L526.9 947.9L529.9 948.5L532.9 949.1L535.9 949.7L538.9 950.3L541.9 950.8L544.9 951.4L547.9 951.9L550.9 952.5L553.9 953.0L556.9 953.6L559.9 954.1L562.9 954.6L565.9 955.1L568.9 955.6L571.9 956.1L574.9 956.6L577.9 957.1L580.9 957.5L583.9 958.0L586.9 958.4L589.9 958.8L592.9 959.2L595.9 959.6L598.9 960.0L601.9 960.4L604.9 960.8L607.9 961.1L610.9 961.5L613.9 961.8L616.9 962.1L619.9 962.4L622.9 962.7L625.9 963.0L628.9 963.3L631.9 963.5L634.9 963.7L637.9 964.0L640.9 964.2L643.9 964.4L646.9 964.5L649.9 964.7L652.9 964.9L655.9 965.0L658.9 965.1L661.9 965.2L664.9 965.3L667.9 965.4L670.9 965.5L673.9 965.5L676.9 965.6L679.9 965.6L682.9 965.6L685.9 965.6L688.9 965.6L691.9 965.6L694.9 965.5L697.9 965.5L700.9 965.4L703.9 965.3L706.9 965.2L709.9 965.1L712.9 965.0L715.9 964.9L718.9 964.7L721.9 964.6L724.9 964.4L727.9 964.2L730.9 964.0L733.9 963.8L736.9 963.6L739.9 963.3L742.9 963.1L745.9 962.8L748.9 962.5L751.9 962.2L754.9 961.9L757.9 961.6L760.9 961.3L763.9 961.0L766.9 960.6L769.9 960.2L772.9 959.9L775.9 959.5L778.9 959.1L781.9 958.7L784.9 958.2L787.6 957.8" fill="none" stroke="#c8143c" stroke-width="4.3"/>
<g fill-opacity="0.5">
<path d="M176.8 1039.5L187.6 1061.0H166.1Z" fill="rgb(195,15,55)"/>
<path d="M176.8 1093.1L198.3 1083.3V1102.8Z" fill="rgb(0,175,175)"/>
<path d="M194.6 1108.3L173.1 1098.5V1118.0Z" fill="rgb(185,45,195)"/>
<path d="M191.3 1155.0L169.8 1145.2V1164.8Z" fill="rgb(185,45,195)"/>
<path d="M171.4 1152.8L182.2 1163.6L171.4 1174.4L160.6 1163.6Z" fill="rgb(185,85,5)"/>
<path d="M195.9 1175.6L217.4 1165.8V1185.3Z" fill="rgb(0,175,175)"/>
<path d="M183.2 1183.8L161.7 1174.0V1193.5Z" fill="rgb(185,45,195)"/>
<path d="M139.0 1180.7L149.8 1202.2H128.2Z" fill="rgb(195,15,55)"/>
<path d="M191.4 1186.3L202.2 1207.8H180.7Z" fill="rgb(195,15,55)"/>
<path d="M189.5 1214.2L200.2 1192.7H178.8Z" fill="rgb(0,79,0)"/>
<path d="M215.2 1192.2L225.9 1213.7H204.4Z" fill="rgb(195,15,55)"/>
<path d="M146.3 1216.2L167.8 1206.5V1226.0Z" fill="rgb(0,175,175)"/>
<circle cx="170.5" cy="1215.2" r="9.0" fill="rgb(1,35,169)"/>
<rect x="191.4" y="1209.1" width="18.0" height="18.0" fill="rgb(119,15,201)"/>
<path d="M205.4 1221.9L226.9 1212.2V1231.7Z" fill="rgb(0,175,175)"/>
<path d="M230.5 1214.9L241.3 1225.7L230.5 1236.5L219.7 1225.7Z" fill="rgb(185,85,5)"/>
<path d="M171.4 1240.2L182.2 1218.8H160.7Z" fill="rgb(0,79,0)"/>
<path d="M182.9 1244.0L193.7 1222.5H172.2Z" fill="rgb(0,79,0)"/>
<path d="M289.8 1228.6L268.2 1218.8V1238.3Z" fill="rgb(185,45,195)"/>
<circle cx="307.0" cy="1232.4" r="9.0" fill="rgb(1,35,169)"/>
<circle cx="140.0" cy="1241.9" r="9.0" fill="rgb(1,35,169)"/>
<circle cx="170.5" cy="1241.9" r="9.0" fill="rgb(1,35,169)"/>
<path d="M156.6 1242.5L167.4 1253.3L156.6 1264.1L145.8 1253.3Z" fill="rgb(185,85,5)"/>
<circle cx="208.6" cy="1249.5" r="9.0" fill="rgb(1,35,169)"/>
<rect x="172.9" y="1246.2" width="18.0" height="18.0" fill="rgb(119,15,201)"/>
<path d="M185.4 1259.0L206.9 1249.2V1268.8Z" fill="rgb(0,175,175)"/>
<rect x="158.6" y="1249.1" width="18.0" height="18.0" fill="rgb(119,15,201)"/>
<path d="M177.1 1252.2L187.8 1273.7H166.3Z" fill="rgb(195,15,55)"/>
<path d="M195.2 1256.8L206.0 1267.6L195.2 1278.4L184.4 1267.6Z" fill="rgb(185,85,5)"/>
<path d="M205.1 1265.7L183.6 1256.0V1275.5Z" fill="rgb(185,45,195)"/>
<circle cx="180.6" cy="1271.4" r="9.0" fill="rgb(1,35,169)"/>
<rect x="147.8" y="1265.3" width="18.0" height="18.0" fill="rgb(119,15,201)"/>
<path d="M177.1 1277.5L187.8 1256.0H166.3Z" fill="rgb(0,79,0)"/>
<path d="M401.4 1109.2L412.1 1130.8H390.6Z" fill="rgb(195,15,55)"/>
<path d="M404.6 1151.4L383.1 1141.7V1161.2Z" fill="rgb(185,45,195)"/>
<path d="M365.2 1154.9L376.0 1165.7L365.2 1176.5L354.4 1165.7Z" fill="rgb(185,85,5)"/>
<path d="M385.9 1169.5L407.4 1159.8V1179.2Z" fill="rgb(0,175,175)"/>
<path d="M397.2 1176.8L408.0 1187.6L397.2 1198.4L386.4 1187.6Z" fill="rgb(185,85,5)"/>
<path d="M414.4 1176.0L425.1 1197.5H403.6Z" fill="rgb(195,15,55)"/>
<path d="M411.6 1192.4L433.1 1182.7V1202.2Z" fill="rgb(0,175,175)"/>
<path d="M372.6 1201.0L394.1 1191.2V1210.8Z" fill="rgb(0,175,175)"/>
<circle cx="394.4" cy="1213.3" r="9.0" fill="rgb(1,35,169)"/>
<rect x="343.3" y="1212.9" width="18.0" height="18.0" fill="rgb(119,15,201)"/>
<path d="M358.2 1221.9L379.8 1212.2V1231.7Z" fill="rgb(0,175,175)"/>
<path d="M370.6 1223.5L381.4 1245.0H359.9Z" fill="rgb(195,15,55)"/>
<rect x="369.6" y="1231.0" width="18.0" height="18.0" fill="rgb(119,15,201)"/>
<path d="M332.9 1233.0L343.7 1243.8L332.9 1254.6L322.1 1243.8Z" fill="rgb(185,85,5)"/>
<circle cx="420.1" cy="1245.7" r="9.0" fill="rgb(1,35,169)"/>
<path d="M415.9 1247.6L394.4 1237.8V1257.3Z" fill="rgb(185,45,195)"/>
<path d="M351.0 1273.7L361.8 1252.2H340.2Z" fill="rgb(0,79,0)"/>
<circle cx="367.1" cy="1267.6" r="9.0" fill="rgb(1,35,169)"/>
<rect x="354.3" y="1256.7" width="18.0" height="18.0" fill="rgb(119,15,201)"/>
<circle cx="388.1" cy="1270.5" r="9.0" fill="rgb(1,35,169)"/>
<path d="M381.4 1281.2L392.1 1259.8H370.6Z" fill="rgb(0,79,0)"/>
<path d="M401.4 1252.2L412.1 1273.7H390.6Z" fill="rgb(195,15,55)"/>
<rect x="365.8" y="1263.4" width="18.0" height="18.0" fill="rgb(119,15,201)"/>
<path d="M490.0 1100.6L500.8 1111.4L490.0 1122.2L479.2 1111.4Z" fill="rgb(185,85,5)"/>
<path d="M504.6 1115.2L483.1 1105.5V1125.0Z" fill="rgb(185,45,195)"/>
<path d="M503.6 1128.6L482.1 1118.8V1138.3Z" fill="rgb(185,45,195)"/>
<path d="M502.4 1131.1L513.2 1141.9L502.4 1152.7L491.6 1141.9Z" fill="rgb(185,85,5)"/>
<path d="M490.7 1166.5L501.4 1188.0H479.9Z" fill="rgb(195,15,55)"/>
<path d="M495.3 1166.5L506.1 1188.0H484.6Z" fill="rgb(195,15,55)"/>
<path d="M476.0 1181.9L486.8 1192.7L476.0 1203.5L465.2 1192.7Z" fill="rgb(185,85,5)"/>
<path d="M514.0 1173.2L524.8 1184.0L514.0 1194.8L503.2 1184.0Z" fill="rgb(185,85,5)"/>
<path d="M558.7 1160.5L569.5 1171.3L558.7 1182.1L547.9 1171.3Z" fill="rgb(185,85,5)"/>
<path d="M503.0 1193.2L513.8 1214.8H492.2Z" fill="rgb(195,15,55)"/>
<path d="M506.6 1193.2L517.4 1214.8H495.9Z" fill="rgb(195,15,55)"/>
<path d="M506.0 1206.5L516.8 1228.0H495.2Z" fill="rgb(195,15,55)"/>
<path d="M546.4 1213.2L557.2 1224.0L546.4 1234.8L535.6 1224.0Z" fill="rgb(185,85,5)"/>
<path d="M574.5 1208.0L596.0 1198.2V1217.8Z" fill="rgb(0,175,175)"/>
<path d="M590.7 1212.0L601.5 1233.5H580.0Z" fill="rgb(195,15,55)"/>
<path d="M463.9 1224.0L485.4 1214.2V1233.8Z" fill="rgb(0,175,175)"/>
<rect x="481.7" y="1215.0" width="18.0" height="18.0" fill="rgb(119,15,201)"/>
<circle cx="497.3" cy="1225.3" r="9.0" fill="rgb(1,35,169)"/>
<path d="M497.4 1232.0L475.9 1222.2V1241.8Z" fill="rgb(185,45,195)"/>
<rect x="491.0" y="1231.0" width="18.0" height="18.0" fill="rgb(119,15,201)"/>
<path d="M539.3 1230.5L550.0 1252.0H528.5Z" fill="rgb(195,15,55)"/>
<circle cx="526.7" cy="1249.3" r="9.0" fill="rgb(1,35,169)"/>
<path d="M540.0 1242.5L550.8 1253.3L540.0 1264.1L529.2 1253.3Z" fill="rgb(185,85,5)"/>
<rect x="581.7" y="1237.7" width="18.0" height="18.0" fill="rgb(119,15,201)"/>
<path d="M577.2 1253.3L598.8 1243.5V1263.0Z" fill="rgb(0,175,175)"/>
<circle cx="464.0" cy="1248.0" r="9.0" fill="rgb(1,35,169)"/>
<circle cx="480.0" cy="1246.7" r="9.0" fill="rgb(1,35,169)"/>
<circle cx="496.0" cy="1252.0" r="9.0" fill="rgb(1,35,169)"/>
<rect x="497.7" y="1244.3" width="18.0" height="18.0" fill="rgb(119,15,201)"/>
<path d="M505.2 1254.7L526.8 1245.0V1264.5Z" fill="rgb(0,175,175)"/>
<path d="M462.6 1273.3L484.1 1263.5V1283.0Z" fill="rgb(0,175,175)"/>
<path d="M504.1 1272.0L482.6 1262.2V1281.8Z" fill="rgb(185,45,195)"/>
<path d="M500.1 1280.0L478.6 1270.2V1289.8Z" fill="rgb(185,45,195)"/>
<circle cx="530.7" cy="1273.3" r="9.0" fill="rgb(1,35,169)"/>
<path d="M506.5 1273.3L528.0 1263.5V1283.0Z" fill="rgb(0,175,175)"/>
<path d="M493.2 1277.3L514.8 1267.5V1287.0Z" fill="rgb(0,175,175)"/>
<circle cx="562.7" cy="1273.3" r="9.0" fill="rgb(1,35,169)"/>
<path d="M582.7 1286.8L593.5 1265.2H572.0Z" fill="rgb(0,79,0)"/>
<path d="M597.5 1273.3L576.0 1263.5V1283.0Z" fill="rgb(185,45,195)"/>
<path d="M451.9 1233.0L462.7 1243.8L451.9 1254.6L441.1 1243.8Z" fill="rgb(185,85,5)"/>
<path d="M466.9 1272.4L488.4 1262.7V1282.2Z" fill="rgb(0,175,175)"/>
<path d="M596.5 1125.3L607.2 1146.8H585.8Z" fill="rgb(195,15,55)"/>
<path d="M817.7 1149.6L828.5 1160.4L817.7 1171.2L806.9 1160.4Z" fill="rgb(185,85,5)"/>
<path d="M613.3 1180.0L624.0 1201.5H602.5Z" fill="rgb(195,15,55)"/>
<path d="M613.3 1206.5L624.0 1228.0H602.5Z" fill="rgb(195,15,55)"/>
<path d="M732.0 1177.2L742.8 1198.8H721.2Z" fill="rgb(195,15,55)"/>
<path d="M752.8 1176.0L763.5 1197.5H742.0Z" fill="rgb(195,15,55)"/>
<path d="M725.3 1209.2L736.0 1230.8H714.5Z" fill="rgb(195,15,55)"/>
<path d="M786.7 1214.5L797.5 1236.0H776.0Z" fill="rgb(195,15,55)"/>
<path d="M818.8 1224.0L797.2 1214.2V1233.8Z" fill="rgb(185,45,195)"/>
<path d="M596.0 1237.3L617.5 1227.5V1247.0Z" fill="rgb(0,175,175)"/>
<path d="M798.7 1266.8L809.5 1245.2H788.0Z" fill="rgb(0,79,0)"/>
<path d="M825.3 1273.5L836.0 1252.0H814.5Z" fill="rgb(0,79,0)"/>
<path d="M813.3 1278.8L824.0 1257.2H802.5Z" fill="rgb(0,79,0)"/>
<path d="M832.0 1263.9L842.8 1274.7L832.0 1285.5L821.2 1274.7Z" fill="rgb(185,85,5)"/>
<path d="M813.2 1274.7L834.8 1265.0V1284.5Z" fill="rgb(0,175,175)"/>
<path d="M660.0 1247.9L670.8 1258.7L660.0 1269.5L649.2 1258.7Z" fill="rgb(185,85,5)"/>
<rect x="673.7" y="1248.3" width="18.0" height="18.0" fill="rgb(119,15,201)"/>
<path d="M682.7 1249.2L693.5 1260.0L682.7 1270.8L671.9 1260.0Z" fill="rgb(185,85,5)"/>
<circle cx="732.0" cy="1269.3" r="9.0" fill="rgb(1,35,169)"/>
<circle cx="769.3" cy="1270.7" r="9.0" fill="rgb(1,35,169)"/>
<circle cx="782.7" cy="1272.0" r="9.0" fill="rgb(1,35,169)"/>
<circle cx="636.0" cy="1274.7" r="9.0" fill="rgb(1,35,169)"/>
<circle cx="621.3" cy="1260.0" r="9.0" fill="rgb(1,35,169)"/>
<path d="M702.7 1266.5L713.5 1277.3L702.7 1288.1L691.9 1277.3Z" fill="rgb(185,85,5)"/>
<path d="M702.5 1277.3L724.0 1267.5V1287.0Z" fill="rgb(0,175,175)"/>
<path d="M742.5 1277.3L764.0 1267.5V1287.0Z" fill="rgb(0,175,175)"/>
<path d="M766.7 1267.9L777.5 1278.7L766.7 1289.5L755.9 1278.7Z" fill="rgb(185,85,5)"/>
<path d="M622.8 1276.0L601.2 1266.2V1285.8Z" fill="rgb(185,45,195)"/>
<rect x="600.3" y="1261.7" width="18.0" height="18.0" fill="rgb(119,15,201)"/>
<path d="M609.2 1278.7L630.8 1269.0V1288.5Z" fill="rgb(0,175,175)"/>
<rect x="481.0" y="1211.0" width="18.0" height="18.0" fill="rgb(119,15,201)"/>
<path d="M506.8 1228.0L485.2 1218.2V1237.8Z" fill="rgb(185,45,195)"/>
<circle cx="501.0" cy="1233.0" r="9.0" fill="rgb(1,35,169)"/>
<rect x="478.0" y="1229.0" width="18.0" height="18.0" fill="rgb(119,15,201)"/>
<path d="M516.8 1245.0L495.2 1235.2V1254.8Z" fill="rgb(185,45,195)"/>
<path d="M497.8 1270.0L476.2 1260.2V1279.8Z" fill="rgb(185,45,195)"/>
<path d="M506.8 1281.0L485.2 1271.2V1290.8Z" fill="rgb(185,45,195)"/>
<rect x="482.0" y="1273.0" width="18.0" height="18.0" fill="rgb(119,15,201)"/>
<path d="M495.2 1274.0L516.8 1264.2V1283.8Z" fill="rgb(0,175,175)"/>
<path d="M493.8 1286.0L472.2 1276.2V1295.8Z" fill="rgb(185,45,195)"/>
<rect x="583.0" y="1269.0" width="18.0" height="18.0" fill="rgb(119,15,201)"/>
<path d="M570.8 1283.0L549.2 1273.2V1292.8Z" fill="rgb(185,45,195)"/>
<path d="M483.2 1212.0L504.8 1202.2V1221.8Z" fill="rgb(0,175,175)"/>
<path d="M500.2 1222.0L521.8 1212.2V1231.8Z" fill="rgb(0,175,175)"/>
<path d="M510.2 1236.0L531.8 1226.2V1245.8Z" fill="rgb(0,175,175)"/>
<path d="M488.2 1259.0L509.8 1249.2V1268.8Z" fill="rgb(0,175,175)"/>
<path d="M505.2 1263.0L526.8 1253.2V1272.8Z" fill="rgb(0,175,175)"/>
<circle cx="512.0" cy="1245.0" r="9.0" fill="rgb(1,35,169)"/>
</g>
<path d="M158.0 1256.3L161.0 1256.0L164.0 1255.6L167.0 1255.3L170.0 1255.0L173.0 1254.7L176.0 1254.4L179.0 1254.2L182.0 1253.9L185.0 1253.6L188.0 1253.4L191.0 1253.2L194.0 1252.9L197.0 1252.7L200.0 1252.5L203.0 1252.3L206.0 1252.1L209.0 1251.9L212.0 1251.8L215.0 1251.6L218.0 1251.5L221.0 1251.3L224.0 1251.2L227.0 1251.0L230.0 1250.9L233.0 1250.8L236.0 1250.7L239.0 1250.6L242.0 1250.5L245.0 1250.4L248.0 1250.3L251.0 1250.3L254.0 1250.2L257.0 1250.1L260.0 1250.1L263.0 1250.0L266.0 1250.0L269.0 1250.0L272.0 1250.0L275.0 1249.9L278.0 1249.9L281.0 1249.9L284.0 1249.9L287.0 1249.9L290.0 1250.0L293.0 1250.0L296.0 1250.0L299.0 1250.0L302.0 1250.1L305.0 1250.1L308.0 1250.2L311.0 1250.2L314.0 1250.3L317.0 1250.3L320.0 1250.4L323.0 1250.5L326.0 1250.6L329.0 1250.6L332.0 1250.7L335.0 1250.8L338.0 1250.9L341.0 1251.0L344.0 1251.1L347.0 1251.2L350.0 1251.3L353.0 1251.4L356.0 1251.6L359.0 1251.7L362.0 1251.8L365.0 1251.9L368.0 1252.1L371.0 1252.2L374.0 1252.3L377.0 1252.5L380.0 1252.6L383.0 1252.8L386.0 1252.9L389.0 1253.1L392.0 1253.2L395.0 1253.4L398.0 1253.5L401.0 1253.7L404.0 1253.8L407.0 1254.0L410.0 1254.2L413.0 1254.3L416.0 1254.5L419.0 1254.7L422.0 1254.8L425.0 1255.0L428.0 1255.2L431.0 1255.3L434.0 1255.5L437.0 1255.7L440.0 1255.9L443.0 1256.0L446.0 1256.2L449.0 1256.4L452.0 1256.6L455.0 1256.7L458.0 1256.9L461.0 1257.1L464.0 1257.3L467.0 1257.4L470.0 1257.6L473.0 1257.8L476.0 1258.0L479.0 1258.1L482.0 1258.3L485.0 1258.5L488.0 1258.7L491.0 1258.8L494.0 1259.0L497.0 1259.2L500.0 1259.3L503.0 1259.5L506.0 1259.6L509.0 1259.8L512.0 1260.0L515.0 1260.1L518.0 1260.3L521.0 1260.4L524.0 1260.6L527.0 1260.7L530.0 1260.9L533.0 1261.0L536.0 1261.1L539.0 1261.3L542.0 1261.4L545.0 1261.5L548.0 1261.7L551.0 1261.8L554.0 1261.9L557.0 1262.0L560.0 1262.1L563.0 1262.2L566.0 1262.3L569.0 1262.4L572.0 1262.5L575.0 1262.6L578.0 1262.7L581.0 1262.8L584.0 1262.9L587.0 1263.0L590.0 1263.0L593.0 1263.1L596.0 1263.2L599.0 1263.2L602.0 1263.3L605.0 1263.3L608.0 1263.3L611.0 1263.4L614.0 1263.4L617.0 1263.4L620.0 1263.4L623.0 1263.5L626.0 1263.5L629.0 1263.5L632.0 1263.5L635.0 1263.4L638.0 1263.4L641.0 1263.4L644.0 1263.4L647.0 1263.3L650.0 1263.3L653.0 1263.2L656.0 1263.2L659.0 1263.1L662.0 1263.0L665.0 1262.9L668.0 1262.9L671.0 1262.8L674.0 1262.7L677.0 1262.5L680.0 1262.4L681.3 1262.4" fill="none" stroke="#7812c8" stroke-width="4.3"/>
<path d="M174.3 1178.3L177.3 1179.5L180.3 1180.7L183.3 1181.9L186.3 1183.1L189.3 1184.2L192.3 1185.3L195.3 1186.3L198.3 1187.4L201.3 1188.4L204.3 1189.4L207.3 1190.4L210.3 1191.3L213.3 1192.2L216.3 1193.1L219.3 1194.0L222.3 1194.9L225.3 1195.7L228.3 1196.5L231.3 1197.3L234.3 1198.1L237.3 1198.8L240.3 1199.6L243.3 1200.3L246.3 1201.0L249.3 1201.7L252.3 1202.4L255.3 1203.0L258.3 1203.6L261.3 1204.3L264.3 1204.9L267.3 1205.5L270.3 1206.1L273.3 1206.6L276.3 1207.2L279.3 1207.8L282.3 1208.3L285.3 1208.8L288.3 1209.3L291.3 1209.9L294.3 1210.4L297.3 1210.9L300.3 1211.4L303.3 1211.8L306.3 1212.3L309.3 1212.8L312.3 1213.2L315.3 1213.7L318.3 1214.2L321.3 1214.6L324.3 1215.0L327.3 1215.5L330.3 1215.9L333.3 1216.3L336.3 1216.8L339.3 1217.2L342.3 1217.6L345.3 1218.0L348.3 1218.4L351.3 1218.8L354.3 1219.2L357.3 1219.6L360.3 1220.0L363.3 1220.4L366.3 1220.8L369.3 1221.1L372.3 1221.5L375.3 1221.9L378.3 1222.3L381.3 1222.6L384.3 1223.0L387.3 1223.4L390.3 1223.7L393.3 1224.1L396.3 1224.5L399.3 1224.8L402.3 1225.2L405.3 1225.5L408.3 1225.9L411.3 1226.3L414.3 1226.6L417.3 1227.0L420.3 1227.3L423.3 1227.7L426.3 1228.1L429.3 1228.4L432.3 1228.8L435.3 1229.1L438.3 1229.5L441.3 1229.9L444.3 1230.2L447.3 1230.6L450.3 1231.0L453.3 1231.4L456.3 1231.7L459.3 1232.1L462.3 1232.5L465.3 1232.9L468.3 1233.3L471.3 1233.6L474.3 1234.0L477.3 1234.4L480.3 1234.8L483.3 1235.2L486.3 1235.6L489.3 1236.0L492.3 1236.5L495.3 1236.9L498.3 1237.3L501.3 1237.7L504.3 1238.2L507.3 1238.6L510.3 1239.0L513.3 1239.5L516.3 1239.9L519.3 1240.4L522.3 1240.8L525.3 1241.3L528.3 1241.7L531.3 1242.2L534.3 1242.6L537.3 1243.1L540.3 1243.5L543.3 1244.0L546.3 1244.4L549.3 1244.9L552.3 1245.3L555.3 1245.8L558.3 1246.2L561.3 1246.6L564.3 1247.1L567.3 1247.5L570.3 1247.9L573.3 1248.3L576.3 1248.7L579.3 1249.1L582.3 1249.5L585.3 1249.9L588.3 1250.3L591.3 1250.7L594.3 1251.0L597.3 1251.4L600.3 1251.7L603.3 1252.1L606.3 1252.4L609.3 1252.7L612.3 1253.0L615.3 1253.3L618.3 1253.6L621.3 1253.9L624.3 1254.2L627.3 1254.4L630.3 1254.7L633.3 1254.9L636.3 1255.1L639.3 1255.3L642.3 1255.5L645.3 1255.7L648.3 1255.8L651.3 1256.0L654.3 1256.1L657.3 1256.2L660.3 1256.3L663.3 1256.4L666.3 1256.5L669.3 1256.5L672.3 1256.6L675.3 1256.6L678.3 1256.6L681.3 1256.6L684.3 1256.5L687.3 1256.5L690.3 1256.4L693.3 1256.3L696.3 1256.2L699.3 1256.0L702.3 1255.9L705.3 1255.7L708.3 1255.5L711.3 1255.3L714.3 1255.0L717.3 1254.8L720.3 1254.5L723.3 1254.2L726.3 1253.8L729.3 1253.5L732.3 1253.1L735.3 1252.7L738.3 1252.3L741.3 1251.8L744.3 1251.3L747.3 1250.8L750.3 1250.3L753.3 1249.8L756.3 1249.2L759.3 1248.6L762.3 1248.0L765.3 1247.3L768.3 1246.7L771.3 1246.0L774.3 1245.2L777.3 1244.5L780.3 1243.7L783.3 1242.9L786.3 1242.1L789.3 1241.2L792.3 1240.4L795.3 1239.5L798.3 1238.5L801.3 1237.6L804.0 1236.7" fill="none" stroke="#8c2bef" stroke-width="3.8" stroke-dasharray="5.6 10.6"/>
<path d="M167.0 1243.8L170.0 1244.0L173.0 1244.2L176.0 1244.4L179.0 1244.6L182.0 1244.8L185.0 1245.0L188.0 1245.2L191.0 1245.4L194.0 1245.6L197.0 1245.8L200.0 1246.1L203.0 1246.3L206.0 1246.5L209.0 1246.7L212.0 1246.9L215.0 1247.1L218.0 1247.3L221.0 1247.5L224.0 1247.7L227.0 1247.9L230.0 1248.2L233.0 1248.4L236.0 1248.6L239.0 1248.8L242.0 1249.0L245.0 1249.2L248.0 1249.5L251.0 1249.7L254.0 1249.9L257.0 1250.1L260.0 1250.3L263.0 1250.5L266.0 1250.8L269.0 1251.0L272.0 1251.2L275.0 1251.4L278.0 1251.6L281.0 1251.9L284.0 1252.1L287.0 1252.3L290.0 1252.5L293.0 1252.7L296.0 1253.0L299.0 1253.2L302.0 1253.4L305.0 1253.6L308.0 1253.8L311.0 1254.0L314.0 1254.3L317.0 1254.5L320.0 1254.7L323.0 1254.9L326.0 1255.1L329.0 1255.3L332.0 1255.6L335.0 1255.8L338.0 1256.0L341.0 1256.2L344.0 1256.4L347.0 1256.6L350.0 1256.8L353.0 1257.0L356.0 1257.2L359.0 1257.4L362.0 1257.7L365.0 1257.9L368.0 1258.1L371.0 1258.3L374.0 1258.5L377.0 1258.7L380.0 1258.9L383.0 1259.1L386.0 1259.3L389.0 1259.5L392.0 1259.7L395.0 1259.8L398.0 1260.0L401.0 1260.2L404.0 1260.4L407.0 1260.6L410.0 1260.8L413.0 1261.0L416.0 1261.2L419.0 1261.3L422.0 1261.5L425.0 1261.7L428.0 1261.9L431.0 1262.1L434.0 1262.2L437.0 1262.4L440.0 1262.6L443.0 1262.7L446.0 1262.9L449.0 1263.1L452.0 1263.2L455.0 1263.4L458.0 1263.6L461.0 1263.7L464.0 1263.9L467.0 1264.0L470.0 1264.2L473.0 1264.3L476.0 1264.5L479.0 1264.6L482.0 1264.8L485.0 1264.9L488.0 1265.1L491.0 1265.2L494.0 1265.4L497.0 1265.5L500.0 1265.6L503.0 1265.8L506.0 1265.9L509.0 1266.0L512.0 1266.2L515.0 1266.3L518.0 1266.4L521.0 1266.5L524.0 1266.7L527.0 1266.8L530.0 1266.9L533.0 1267.0L536.0 1267.1L539.0 1267.2L542.0 1267.3L545.0 1267.4L548.0 1267.5L551.0 1267.6L554.0 1267.7L557.0 1267.8L560.0 1267.9L563.0 1268.0L566.0 1268.1L569.0 1268.2L572.0 1268.3L575.0 1268.4L578.0 1268.4L581.0 1268.5L584.0 1268.6L587.0 1268.7L590.0 1268.7L593.0 1268.8L596.0 1268.9L599.0 1268.9L602.0 1269.0L605.0 1269.1L608.0 1269.1L611.0 1269.2L614.0 1269.2L617.0 1269.3L620.0 1269.3L623.0 1269.4L626.0 1269.4L629.0 1269.4L632.0 1269.5L635.0 1269.5L638.0 1269.5L641.0 1269.6L644.0 1269.6L647.0 1269.6L650.0 1269.6L653.0 1269.6L656.0 1269.7L659.0 1269.7L662.0 1269.7L665.0 1269.7L668.0 1269.7L671.0 1269.7L674.0 1269.7L677.0 1269.7L680.0 1269.7L683.0 1269.7L686.0 1269.6L689.0 1269.6L692.0 1269.6L695.0 1269.6L698.0 1269.6L701.0 1269.5L704.0 1269.5L707.0 1269.5L710.0 1269.4L713.0 1269.4L716.0 1269.3L719.0 1269.3L722.0 1269.2L725.0 1269.2L728.0 1269.1L731.0 1269.1L734.0 1269.0L737.0 1268.9L740.0 1268.8L743.0 1268.8L746.0 1268.7L749.0 1268.6L752.0 1268.5L755.0 1268.4L758.0 1268.4L761.0 1268.3L764.0 1268.2L767.0 1268.1L770.0 1268.0L773.0 1267.9L776.0 1267.7L779.0 1267.6L782.0 1267.5L785.0 1267.4L788.0 1267.3L791.0 1267.1L794.0 1267.0L797.0 1266.9L800.0 1266.7L803.0 1266.6L806.0 1266.4L809.0 1266.3L812.0 1266.1L815.0 1266.0L818.0 1265.8L820.0 1265.7" fill="none" stroke="#168c16" stroke-width="4.3" stroke-dasharray="10.8 3.7"/>
<path d="M158.0 1187.9L161.0 1188.1L164.0 1188.2L167.0 1188.4L170.0 1188.6L173.0 1188.8L176.0 1189.0L179.0 1189.2L182.0 1189.5L185.0 1189.7L188.0 1190.0L191.0 1190.2L194.0 1190.5L197.0 1190.8L200.0 1191.0L203.0 1191.3L206.0 1191.6L209.0 1191.9L212.0 1192.2L215.0 1192.6L218.0 1192.9L221.0 1193.2L224.0 1193.6L227.0 1193.9L230.0 1194.3L233.0 1194.6L236.0 1195.0L239.0 1195.4L242.0 1195.8L245.0 1196.2L248.0 1196.6L251.0 1197.0L254.0 1197.4L257.0 1197.8L260.0 1198.2L263.0 1198.6L266.0 1199.1L269.0 1199.5L272.0 1200.0L275.0 1200.4L278.0 1200.9L281.0 1201.3L284.0 1201.8L287.0 1202.3L290.0 1202.7L293.0 1203.2L296.0 1203.7L299.0 1204.2L302.0 1204.7L305.0 1205.2L308.0 1205.7L311.0 1206.2L314.0 1206.7L317.0 1207.2L320.0 1207.7L323.0 1208.2L326.0 1208.8L329.0 1209.3L332.0 1209.8L335.0 1210.4L338.0 1210.9L341.0 1211.4L344.0 1212.0L347.0 1212.5L350.0 1213.1L353.0 1213.6L356.0 1214.2L359.0 1214.7L362.0 1215.3L365.0 1215.8L368.0 1216.4L371.0 1217.0L374.0 1217.5L377.0 1218.1L380.0 1218.7L383.0 1219.2L386.0 1219.8L389.0 1220.4L392.0 1220.9L395.0 1221.5L398.0 1222.1L401.0 1222.6L404.0 1223.2L407.0 1223.8L410.0 1224.4L413.0 1224.9L416.0 1225.5L419.0 1226.1L422.0 1226.6L425.0 1227.2L428.0 1227.8L431.0 1228.4L434.0 1228.9L437.0 1229.5L440.0 1230.1L443.0 1230.6L446.0 1231.2L449.0 1231.8L452.0 1232.3L455.0 1232.9L458.0 1233.4L461.0 1234.0L464.0 1234.5L467.0 1235.1L470.0 1235.7L473.0 1236.2L476.0 1236.7L479.0 1237.3L482.0 1237.8L485.0 1238.4L488.0 1238.9L491.0 1239.4L494.0 1240.0L497.0 1240.5L500.0 1241.0L503.0 1241.5L506.0 1242.1L509.0 1242.6L512.0 1243.1L515.0 1243.6L518.0 1244.1L521.0 1244.6L524.0 1245.1L527.0 1245.6L530.0 1246.1L533.0 1246.5L536.0 1247.0L539.0 1247.5L542.0 1248.0L545.0 1248.5L548.0 1248.9L551.0 1249.4L554.0 1249.9L557.0 1250.3L560.0 1250.8L563.0 1251.2L566.0 1251.7L569.0 1252.1L572.0 1252.6L575.0 1253.0L578.0 1253.4L581.0 1253.9L584.0 1254.3L587.0 1254.7L590.0 1255.1L593.0 1255.6L596.0 1256.0L599.0 1256.4L602.0 1256.8L605.0 1257.2L608.0 1257.6L611.0 1258.0L614.0 1258.4L617.0 1258.8L620.0 1259.2L623.0 1259.6L626.0 1260.0L629.0 1260.3L632.0 1260.7L635.0 1261.1L638.0 1261.5L641.0 1261.8L644.0 1262.2L647.0 1262.6L650.0 1262.9L653.0 1263.3L656.0 1263.6L659.0 1264.0L662.0 1264.3L665.0 1264.7L668.0 1265.0L671.0 1265.3L674.0 1265.7L677.0 1266.0L680.0 1266.3L683.0 1266.7L686.0 1267.0L689.0 1267.3L692.0 1267.6L695.0 1267.9L698.0 1268.2L701.0 1268.5L704.0 1268.9L707.0 1269.2L710.0 1269.5L713.0 1269.7L716.0 1270.0L719.0 1270.3L722.0 1270.6L725.0 1270.9L728.0 1271.2L731.0 1271.5L734.0 1271.7L737.0 1272.0L740.0 1272.3L743.0 1272.5L746.0 1272.8L749.0 1273.0L752.0 1273.3L755.0 1273.6L758.0 1273.8L761.0 1274.1L764.0 1274.3L767.0 1274.5L770.0 1274.8L773.0 1275.0L776.0 1275.3L779.0 1275.5L782.0 1275.7L785.0 1275.9L788.0 1276.2L791.0 1276.4L794.0 1276.6L797.0 1276.8L800.0 1277.0L803.0 1277.2L806.0 1277.4L809.0 1277.6L812.0 1277.8L814.7 1278.0" fill="none" stroke="#0f8080" stroke-width="4.3" stroke-dasharray="10.5 3.8 3.6 3.6 3.6 3.9"/>
<path d="M139.9 1242.6L142.9 1242.5L145.9 1242.5L148.9 1242.4L151.9 1242.4L154.9 1242.4L157.9 1242.3L160.9 1242.3L163.9 1242.3L166.9 1242.3L169.9 1242.2L172.9 1242.2L175.9 1242.2L178.9 1242.2L181.9 1242.2L184.9 1242.2L187.9 1242.2L190.9 1242.2L193.9 1242.2L196.9 1242.2L199.9 1242.2L202.9 1242.2L205.9 1242.2L208.9 1242.3L211.9 1242.3L214.9 1242.3L217.9 1242.3L220.9 1242.4L223.9 1242.4L226.9 1242.4L229.9 1242.5L232.9 1242.5L235.9 1242.5L238.9 1242.6L241.9 1242.6L244.9 1242.7L247.9 1242.8L250.9 1242.8L253.9 1242.9L256.9 1242.9L259.9 1243.0L262.9 1243.1L265.9 1243.1L268.9 1243.2L271.9 1243.3L274.9 1243.4L277.9 1243.5L280.9 1243.5L283.9 1243.6L286.9 1243.7L289.9 1243.8L292.9 1243.9L295.9 1244.0L298.9 1244.1L301.9 1244.2L304.9 1244.3L307.9 1244.4L310.9 1244.5L313.9 1244.7L316.9 1244.8L319.9 1244.9L322.9 1245.0L325.9 1245.1L328.9 1245.3L331.9 1245.4L334.9 1245.5L337.9 1245.6L340.9 1245.8L343.9 1245.9L346.9 1246.1L349.9 1246.2L352.9 1246.3L355.9 1246.5L358.9 1246.6L361.9 1246.8L364.9 1246.9L367.9 1247.1L370.9 1247.3L373.9 1247.4L376.9 1247.6L379.9 1247.7L382.9 1247.9L385.9 1248.1L388.9 1248.2L391.9 1248.4L394.9 1248.6L397.9 1248.8L400.9 1248.9L403.9 1249.1L406.9 1249.3L409.9 1249.5L412.9 1249.7L415.9 1249.9L418.9 1250.1L421.9 1250.3L424.9 1250.5L427.9 1250.7L430.9 1250.8L433.9 1251.1L436.9 1251.3L439.9 1251.5L442.9 1251.7L445.9 1251.9L448.9 1252.1L451.9 1252.3L454.9 1252.5L457.9 1252.7L460.9 1252.9L463.9 1253.2L466.9 1253.4L469.9 1253.6L472.9 1253.8L475.9 1254.1L478.9 1254.3L481.9 1254.5L484.9 1254.8L487.9 1255.0L490.9 1255.2L493.9 1255.5L496.9 1255.7L499.9 1255.9L502.9 1256.2L505.9 1256.4L508.9 1256.7L511.9 1256.9L514.9 1257.2L517.9 1257.4L520.9 1257.7L523.9 1257.9L526.9 1258.2L529.9 1258.4L532.9 1258.7L535.9 1258.9L538.9 1259.2L541.9 1259.4L544.9 1259.7L547.9 1260.0L550.9 1260.2L553.9 1260.5L556.9 1260.7L559.9 1261.0L562.9 1261.2L565.9 1261.5L568.9 1261.7L571.9 1262.0L574.9 1262.2L577.9 1262.5L580.9 1262.7L583.9 1263.0L586.9 1263.2L589.9 1263.5L592.9 1263.7L595.9 1264.0L598.9 1264.2L601.9 1264.5L604.9 1264.7L607.9 1264.9L610.9 1265.2L613.9 1265.4L616.9 1265.6L619.9 1265.9L622.9 1266.1L625.9 1266.3L628.9 1266.5L631.9 1266.7L634.9 1267.0L637.9 1267.2L640.9 1267.4L643.9 1267.6L646.9 1267.8L649.9 1268.0L652.9 1268.2L655.9 1268.4L658.9 1268.6L661.9 1268.8L664.9 1268.9L667.9 1269.1L670.9 1269.3L673.9 1269.5L676.9 1269.6L679.9 1269.8L682.9 1269.9L685.9 1270.1L688.9 1270.2L691.9 1270.4L694.9 1270.5L697.9 1270.7L700.9 1270.8L703.9 1270.9L706.9 1271.0L709.9 1271.1L712.9 1271.3L715.9 1271.4L718.9 1271.4L721.9 1271.5L724.9 1271.6L727.9 1271.7L730.9 1271.8L733.9 1271.8L736.9 1271.9L739.9 1272.0L742.9 1272.0L745.9 1272.0L748.9 1272.1L751.9 1272.1L754.9 1272.1L757.9 1272.1L760.9 1272.1L763.9 1272.1L766.9 1272.1L769.9 1272.1L772.9 1272.1L775.9 1272.1L778.9 1272.0L781.9 1272.0L782.7 1272.0" fill="none" stroke="#12609c" stroke-width="4.3"/>
<path d="M158.0 1228.9L161.0 1228.8L164.0 1228.7L167.0 1228.5L170.0 1228.4L173.0 1228.2L176.0 1228.1L179.0 1227.9L182.0 1227.7L185.0 1227.6L188.0 1227.4L191.0 1227.2L194.0 1226.9L197.0 1226.7L200.0 1226.5L203.0 1226.3L206.0 1226.0L209.0 1225.8L212.0 1225.5L215.0 1225.2L218.0 1224.9L221.0 1224.7L224.0 1224.4L227.0 1224.1L230.0 1223.8L233.0 1223.5L236.0 1223.2L239.0 1222.8L242.0 1222.5L245.0 1222.2L248.0 1221.9L251.0 1221.5L254.0 1221.2L257.0 1220.9L260.0 1220.5L263.0 1220.2L266.0 1219.8L269.0 1219.5L272.0 1219.1L275.0 1218.8L278.0 1218.4L281.0 1218.0L284.0 1217.7L287.0 1217.3L290.0 1217.0L293.0 1216.6L296.0 1216.2L299.0 1215.9L302.0 1215.5L305.0 1215.2L308.0 1214.8L311.0 1214.4L314.0 1214.1L317.0 1213.7L320.0 1213.4L323.0 1213.0L326.0 1212.7L329.0 1212.3L332.0 1212.0L335.0 1211.7L338.0 1211.3L341.0 1211.0L344.0 1210.7L347.0 1210.4L350.0 1210.0L353.0 1209.7L356.0 1209.4L359.0 1209.1L362.0 1208.8L365.0 1208.5L368.0 1208.3L371.0 1208.0L374.0 1207.7L377.0 1207.4L380.0 1207.2L383.0 1206.9L386.0 1206.7L389.0 1206.5L392.0 1206.2L395.0 1206.0L398.0 1205.8L401.0 1205.6L404.0 1205.4L407.0 1205.3L410.0 1205.1L413.0 1204.9L416.0 1204.8L419.0 1204.7L422.0 1204.5L425.0 1204.4L428.0 1204.3L431.0 1204.2L434.0 1204.2L437.0 1204.1L440.0 1204.0L443.0 1204.0L446.0 1204.0L449.0 1204.0L452.0 1204.0L455.0 1204.0L458.0 1204.0L461.0 1204.0L464.0 1204.1L467.0 1204.2L470.0 1204.2L473.0 1204.4L476.0 1204.5L479.0 1204.6L482.0 1204.8L485.0 1204.9L488.0 1205.1L491.0 1205.3L494.0 1205.5L497.0 1205.8L500.0 1206.0L503.0 1206.3L506.0 1206.6L509.0 1206.9L512.0 1207.2L515.0 1207.5L518.0 1207.9L521.0 1208.3L524.0 1208.7L527.0 1209.1L530.0 1209.6L533.0 1210.0L536.0 1210.5L539.0 1211.0L542.0 1211.6L545.0 1212.1L548.0 1212.7L551.0 1213.3L554.0 1213.9L557.0 1214.5L560.0 1215.2L563.0 1215.9L566.0 1216.6L569.0 1217.3L572.0 1218.0L575.0 1218.8L578.0 1219.5L581.0 1220.3L584.0 1221.1L587.0 1221.9L590.0 1222.7L593.0 1223.5L596.0 1224.4L599.0 1225.2L602.0 1226.0L605.0 1226.9L608.0 1227.7L611.0 1228.6L614.0 1229.4L617.0 1230.2L620.0 1231.1L623.0 1231.9L626.0 1232.8L629.0 1233.6L632.0 1234.4L635.0 1235.2L638.0 1236.0L641.0 1236.8L644.0 1237.6L647.0 1238.4L650.0 1239.2L653.0 1239.9L656.0 1240.7L659.0 1241.4L662.0 1242.1L665.0 1242.8L668.0 1243.4L671.0 1244.1L674.0 1244.7L677.0 1245.3L680.0 1245.9L683.0 1246.4L686.0 1246.9L689.0 1247.4L692.0 1247.9L695.0 1248.3L698.0 1248.8L701.0 1249.1L704.0 1249.5L707.0 1249.8L710.0 1250.0L713.0 1250.3L716.0 1250.5L719.0 1250.6L722.0 1250.8L725.0 1250.9L728.0 1250.9L731.0 1250.9L734.0 1250.9L737.0 1250.9L740.0 1250.8L743.0 1250.7L746.0 1250.6L749.0 1250.5L752.0 1250.3L755.0 1250.1L758.0 1249.9L761.0 1249.7L764.0 1249.4L767.0 1249.1L770.0 1248.8L773.0 1248.5L776.0 1248.2L779.0 1247.9L782.0 1247.5L785.0 1247.2L788.0 1246.8L791.0 1246.4L794.0 1246.0L797.0 1245.6L800.0 1245.2L803.0 1244.8L806.0 1244.4L809.0 1243.9L812.0 1243.5L815.0 1243.1L818.0 1242.7L821.0 1242.3L822.7 1242.0" fill="none" stroke="#bf6414" stroke-width="4.0" stroke-dasharray="5.6 10.6"/>
<path d="M139.0 1149.3L142.0 1150.1L145.0 1150.8L148.0 1151.6L151.0 1152.4L154.0 1153.2L157.0 1154.0L160.0 1154.8L163.0 1155.7L166.0 1156.5L169.0 1157.4L172.0 1158.3L175.0 1159.2L178.0 1160.1L181.0 1161.0L184.0 1161.9L187.0 1162.8L190.0 1163.8L193.0 1164.7L196.0 1165.7L199.0 1166.6L202.0 1167.6L205.0 1168.5L208.0 1169.5L211.0 1170.4L214.0 1171.4L217.0 1172.3L220.0 1173.3L223.0 1174.2L226.0 1175.2L229.0 1176.1L232.0 1177.1L235.0 1178.0L238.0 1178.9L241.0 1179.8L244.0 1180.7L247.0 1181.6L250.0 1182.5L253.0 1183.4L256.0 1184.2L259.0 1185.1L262.0 1185.9L265.0 1186.7L268.0 1187.5L271.0 1188.3L274.0 1189.1L277.0 1189.9L280.0 1190.6L283.0 1191.3L286.0 1192.0L289.0 1192.7L292.0 1193.4L295.0 1194.1L298.0 1194.7L301.0 1195.4L304.0 1196.0L307.0 1196.6L310.0 1197.2L313.0 1197.8L316.0 1198.4L319.0 1198.9L322.0 1199.5L325.0 1200.0L328.0 1200.5L331.0 1201.0L334.0 1201.5L337.0 1202.0L340.0 1202.4L343.0 1202.9L346.0 1203.3L349.0 1203.7L352.0 1204.1L355.0 1204.5L358.0 1204.9L361.0 1205.3L364.0 1205.6L367.0 1206.0L370.0 1206.3L373.0 1206.6L376.0 1206.9L379.0 1207.2L382.0 1207.5L385.0 1207.8L388.0 1208.0L391.0 1208.3L394.0 1208.5L397.0 1208.7L400.0 1208.9L403.0 1209.1L406.0 1209.3L409.0 1209.5L412.0 1209.7L415.0 1209.8L418.0 1210.0L421.0 1210.1L424.0 1210.2L427.0 1210.3L430.0 1210.4L433.0 1210.5L436.0 1210.6L439.0 1210.7L442.0 1210.8L445.0 1210.8L448.0 1210.9L451.0 1210.9L454.0 1211.0L457.0 1211.0L460.0 1211.0L463.0 1211.0L466.0 1211.0L469.0 1211.0L472.0 1211.0L475.0 1211.0L478.0 1211.0L481.0 1210.9L484.0 1210.9L487.0 1210.9L490.0 1210.8L493.0 1210.8L496.0 1210.7L499.0 1210.6L502.0 1210.6L505.0 1210.5L508.0 1210.4L511.0 1210.3L514.0 1210.2L517.0 1210.1L520.0 1210.0L523.0 1209.9L526.0 1209.8L529.0 1209.7L532.0 1209.6L535.0 1209.5L538.0 1209.3L541.0 1209.2L544.0 1209.1L547.0 1209.0L550.0 1208.8L553.0 1208.7L556.0 1208.5L559.0 1208.4L562.0 1208.3L565.0 1208.1L568.0 1208.0L571.0 1207.8L574.0 1207.7L577.0 1207.5L580.0 1207.4L583.0 1207.2L586.0 1207.1L589.0 1206.9L592.0 1206.8L595.0 1206.6L598.0 1206.5L601.0 1206.3L604.0 1206.2L607.0 1206.0L610.0 1205.8L613.0 1205.7L616.0 1205.6L619.0 1205.4L622.0 1205.3L625.0 1205.1L628.0 1205.0L631.0 1204.8L634.0 1204.7L637.0 1204.6L640.0 1204.4L643.0 1204.3L646.0 1204.2L649.0 1204.1L652.0 1203.9L655.0 1203.8L658.0 1203.7L661.0 1203.6L664.0 1203.5L667.0 1203.4L670.0 1203.3L673.0 1203.2L676.0 1203.1L679.0 1203.0L682.0 1203.0L685.0 1202.9L688.0 1202.8L691.0 1202.8L694.0 1202.7L697.0 1202.6L700.0 1202.6L703.0 1202.6L706.0 1202.5L709.0 1202.5L712.0 1202.5L715.0 1202.5L718.0 1202.5L721.0 1202.5L724.0 1202.5L727.0 1202.5L730.0 1202.5L733.0 1202.6L736.0 1202.6L739.0 1202.7L742.0 1202.7L745.0 1202.8L748.0 1202.9L751.0 1203.0L754.0 1203.1L757.0 1203.2L760.0 1203.3L763.0 1203.4L766.0 1203.5L769.0 1203.7L772.0 1203.8L775.0 1204.0L778.0 1204.2L781.0 1204.4L784.0 1204.6L787.0 1204.8L788.0 1204.8" fill="none" stroke="#c8143c" stroke-width="4.3"/>
<line x1="118.9" y1="0" x2="118.9" y2="1292" stroke="#000" stroke-width="3.2"/>
<line x1="117.3" y1="1290.5" x2="859.5" y2="1290.5" stroke="#000" stroke-width="3.2"/>
<text x="108.5" y="246.9" text-anchor="end" font-size="27">5</text>
<text x="108.5" y="185.2" text-anchor="end" font-size="27">10</text>
<text x="108.5" y="123.5" text-anchor="end" font-size="27">15</text>
<text x="108.5" y="61.8" text-anchor="end" font-size="27">20</text>
<text x="108.5" y="506.0" text-anchor="end" font-size="27">5</text>
<text x="108.5" y="443.9" text-anchor="end" font-size="27">10</text>
<text x="108.5" y="381.8" text-anchor="end" font-size="27">15</text>
<text x="108.5" y="319.7" text-anchor="end" font-size="27">20</text>
<text x="108.5" y="775.9" text-anchor="end" font-size="27">0</text>
<text x="108.5" y="721.4" text-anchor="end" font-size="27">5</text>
<text x="108.5" y="666.9" text-anchor="end" font-size="27">10</text>
<text x="108.5" y="612.4" text-anchor="end" font-size="27">15</text>
<text x="108.5" y="557.9" text-anchor="end" font-size="27">20</text>
<text x="108.5" y="1033.3" text-anchor="end" font-size="27">0.0</text>
<text x="108.5" y="990.0" text-anchor="end" font-size="27">0.5</text>
<text x="108.5" y="946.7" text-anchor="end" font-size="27">1.0</text>
<text x="108.5" y="903.4" text-anchor="end" font-size="27">1.5</text>
<text x="108.5" y="860.1" text-anchor="end" font-size="27">2.0</text>
<text x="108.5" y="816.8" text-anchor="end" font-size="27">2.5</text>
<text x="108.5" y="1288.6" text-anchor="end" font-size="27">0</text>
<text x="108.5" y="1246.5" text-anchor="end" font-size="27">5</text>
<text x="108.5" y="1204.4" text-anchor="end" font-size="27">10</text>
<text x="108.5" y="1162.3" text-anchor="end" font-size="27">15</text>
<text x="108.5" y="1120.2" text-anchor="end" font-size="27">20</text>
<text x="108.5" y="1078.1" text-anchor="end" font-size="27">25</text>
<text x="156.4" y="1322.9" font-size="27">–<tspan dx="-3.2">150</tspan></text>
<text x="256.0" y="1322.9" font-size="27">–<tspan dx="-3.2">100</tspan></text>
<text x="370.3" y="1322.9" font-size="27">–<tspan dx="-3.2">50</tspan></text>
<text x="495.7" y="1322.9" text-anchor="middle" font-size="27">0</text>
<text x="598.3" y="1322.9" text-anchor="middle" font-size="27">50</text>
<text x="700.9" y="1322.9" text-anchor="middle" font-size="27">100</text>
<text x="803.5" y="1322.9" text-anchor="middle" font-size="27">150</text>
<path d="M118.9 236.5H129.5 M118.9 174.8H129.5 M118.9 113.1H129.5 M118.9 51.4H129.5 M118.9 205.7H125 M118.9 143.9H125 M118.9 82.2H125 M118.9 20.6H125 M118.9 495.6H129.5 M118.9 433.5H129.5 M118.9 371.4H129.5 M118.9 309.3H129.5 M118.9 464.6H125 M118.9 402.5H125 M118.9 340.4H125 M118.9 278.2H125 M118.9 765.5H129.5 M118.9 711.0H129.5 M118.9 656.5H129.5 M118.9 602.0H129.5 M118.9 547.5H129.5 M118.9 738.2H125 M118.9 683.8H125 M118.9 629.2H125 M118.9 574.8H125 M118.9 520.2H125 M118.9 1022.9H129.5 M118.9 979.6H129.5 M118.9 936.3H129.5 M118.9 893.0H129.5 M118.9 849.7H129.5 M118.9 806.4H129.5 M118.9 1001.2H125 M118.9 958.0H125 M118.9 914.6H125 M118.9 871.4H125 M118.9 828.0H125 M118.9 784.8H125 M118.9 1278.2H129.5 M118.9 1236.1H129.5 M118.9 1194.0H129.5 M118.9 1151.9H129.5 M118.9 1109.8H129.5 M118.9 1067.7H129.5 M118.9 1257.2H125 M118.9 1215.0H125 M118.9 1173.0H125 M118.9 1130.9H125 M118.9 1088.8H125 M118.9 1046.7H125 M187.9 1290.5V1280 M290.5 1290.5V1280 M393.1 1290.5V1280 M495.7 1290.5V1280 M598.3 1290.5V1280 M700.9 1290.5V1280 M803.5 1290.5V1280 M136.6 1290.5V1285 M239.2 1290.5V1285 M341.8 1290.5V1285 M444.4 1290.5V1285 M547.0 1290.5V1285 M649.6 1290.5V1285 M752.2 1290.5V1285 M854.8 1290.5V1285" stroke="#000" stroke-width="2.6" fill="none"/>
<text x="489.3" y="1356.4" text-anchor="middle" font-size="25">Elevation from treeline (m)</text>
<text transform="translate(132.8,35) scale(1.13,0.96)" font-size="36" font-weight="bold">a</text>
<text transform="translate(132.8,294.3) scale(1.13,0.96)" font-size="36" font-weight="bold">b</text>
<text transform="translate(132.8,549.3) scale(1.13,0.96)" font-size="36" font-weight="bold">c</text>
<text transform="translate(132.8,809.1) scale(1.13,0.96)" font-size="36" font-weight="bold">d</text>
<text transform="translate(132.8,1065) scale(1.13,0.96)" font-size="36" font-weight="bold">e</text>
<text transform="translate(19.5,143.5) rotate(-90)" text-anchor="middle" font-size="25">Tree N/P (basal</text>
<text transform="translate(50,143.5) rotate(-90)" text-anchor="middle" font-size="25">area weighted)</text>
<text transform="translate(19.5,400) rotate(-90)" text-anchor="middle" font-size="25">Ground layer plant N/P</text>
<text transform="translate(50,400) rotate(-90)" text-anchor="middle" font-size="25">(cover weighted)</text>
<text transform="translate(19.5,656) rotate(-90)" text-anchor="middle" font-size="25">Root N/P</text>
<text transform="translate(50,656) rotate(-90)" text-anchor="middle" font-size="25">(soil surface composite)</text>
<text transform="translate(19.5,913.7) rotate(-90)" text-anchor="middle" font-size="25">Soil total N/P</text>
<text transform="translate(19.5,1163.5) rotate(-90)" text-anchor="middle" font-size="25">Soil mineral N to Bray P</text>
<text x="880.5" y="22" font-size="24">Region</text>
<text x="911" y="54.8" font-size="24">Australia</text>
<text x="911" y="87.5" font-size="24">Canada</text>
<text x="911" y="120.1" font-size="24">Colorado</text>
<text x="911" y="152.8" font-size="24">Europe</text>
<text x="911" y="185.5" font-size="24">Hokkaido</text>
<text x="911" y="218.2" font-size="24">New Zealand</text>
<text x="911" y="250.8" font-size="24">Patagonia</text>
<g fill-opacity="0.5">
<path d="M888.9 37.5L896.1 52.0H881.6Z" fill="rgb(195,15,55)"/>
<path d="M888.9 84.7L896.1 70.2H881.6Z" fill="rgb(0,79,0)"/>
<rect x="883.3" y="104.5" width="11.2" height="11.2" fill="rgb(119,15,201)"/>
<circle cx="888.9" cy="142.8" r="5.6" fill="rgb(1,35,169)"/>
<path d="M888.9 168.2L896.2 175.5L888.9 182.8L881.6 175.5Z" fill="rgb(185,85,5)"/>
<path d="M881.6 208.2L896.1 200.9V215.4Z" fill="rgb(0,175,175)"/>
<path d="M896.1 240.8L881.6 233.6V248.1Z" fill="rgb(185,45,195)"/>
</g>
<text x="877.5" y="348.0" font-size="23">Region<tspan font-size="22">***</tspan></text>
<text x="877.5" y="376.1" font-size="23"><tspan font-style="italic">R</tspan> × <tspan font-style="italic">V</tspan><tspan font-size="22">**</tspan></text>
<text x="877.5" y="404.2" font-size="23"><tspan font-style="italic">R</tspan> × <tspan font-style="italic">E</tspan><tspan font-size="22">**</tspan></text>
<text x="877.5" y="432.3" font-size="23"><tspan font-style="italic">V</tspan> × <tspan font-style="italic">E</tspan><tspan font-size="22">**</tspan></text>
<text x="877.5" y="460.4" font-size="23"><tspan font-style="italic">R</tspan> × <tspan font-style="italic">V</tspan> × <tspan font-style="italic">E</tspan>†</text>
<text x="877.5" y="640.1" font-size="23">Region<tspan font-size="22">***</tspan></text>
<text x="877.5" y="668.2" font-size="23"><tspan font-style="italic">R</tspan> × <tspan font-style="italic">V</tspan><tspan font-size="22">**</tspan></text>
<text x="877.5" y="696.3" font-size="23"><tspan font-style="italic">R</tspan> × <tspan font-style="italic">E</tspan>†</text>
<text x="877.5" y="848.0" font-size="23">Region<tspan font-size="22">***</tspan></text>
<text x="877.5" y="876.1" font-size="23"><tspan font-style="italic">V</tspan><tspan font-size="22">**</tspan></text>
<text x="877.5" y="904.2" font-size="23"><tspan font-style="italic">R</tspan> × <tspan font-style="italic">V</tspan><tspan font-size="22">**</tspan></text>
<text x="877.5" y="932.3" font-size="23"><tspan font-style="italic">R</tspan> × <tspan font-style="italic">E</tspan><tspan font-size="22">**</tspan></text>
<text x="877.5" y="960.4" font-size="23"><tspan font-style="italic">R</tspan> × <tspan font-style="italic">V</tspan> × <tspan font-style="italic">E</tspan><tspan font-size="22">**</tspan></text>
<text x="877.5" y="1117.4" font-size="23">Region<tspan font-size="22">***</tspan></text>
<text x="877.5" y="1145.5" font-size="23"><tspan font-style="italic">V</tspan><tspan font-size="22">**</tspan></text>
<text x="877.5" y="1173.6" font-size="23"><tspan font-style="italic">E</tspan>†</text>
<text x="877.5" y="1201.7" font-size="23"><tspan font-style="italic">R</tspan> × <tspan font-style="italic">V</tspan> × <tspan font-style="italic">E</tspan></text>
</svg></body></html>
